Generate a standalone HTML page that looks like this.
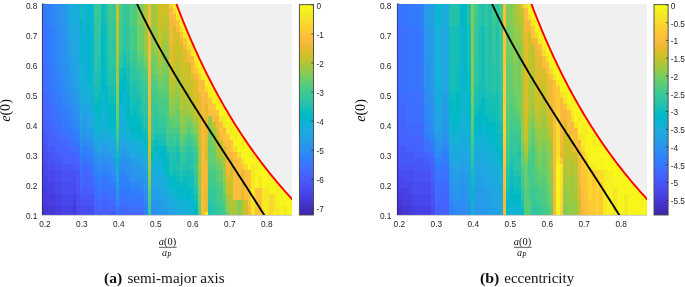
<!DOCTYPE html><html><head><meta charset="utf-8"><style>html,body{margin:0;padding:0;background:#fff;width:685px;height:287px;overflow:hidden}svg{display:block}text{filter:grayscale(1)}.tk{font-family:"Liberation Sans",sans-serif;font-size:8.3px;fill:#262626}.ser{font-family:"Liberation Serif",serif;fill:#111}</style></head><body>
<svg width="685" height="287" viewBox="0 0 685 287">
<defs><filter id="soft" x="-2%" y="-2%" width="104%" height="104%"><feGaussianBlur stdDeviation="0.45"/></filter></defs>
<clipPath id="clip0"><rect x="42.00" y="4.00" width="250.00" height="211.00"/></clipPath>
<g clip-path="url(#clip0)">
<g filter="url(#soft)"><g shape-rendering="crispEdges">
<path fill="#4332cb" d="M40.00 212.00h4.19v5.00h-4.19zM40.00 206.00h4.19v6.00h-4.19z"/>
<path fill="#4537d5" d="M40.00 200.00h4.19v6.00h-4.19zM40.00 194.00h4.19v6.00h-4.19zM40.00 188.00h4.19v6.00h-4.19zM44.19 212.00h3.57v5.00h-3.57zM44.19 206.00h3.57v6.00h-3.57zM47.76 212.00h3.57v5.00h-3.57zM47.76 206.00h3.57v6.00h-3.57zM51.33 212.00h3.57v5.00h-3.57zM51.33 206.00h3.57v6.00h-3.57zM72.76 212.00h3.57v5.00h-3.57zM72.76 206.00h3.57v6.00h-3.57z"/>
<path fill="#463cde" d="M40.00 182.00h4.19v6.00h-4.19zM40.00 176.00h4.19v6.00h-4.19zM44.19 200.00h3.57v6.00h-3.57zM44.19 194.00h3.57v6.00h-3.57zM44.19 188.00h3.57v6.00h-3.57zM47.76 200.00h3.57v6.00h-3.57zM47.76 194.00h3.57v6.00h-3.57zM51.33 200.00h3.57v6.00h-3.57zM51.33 194.00h3.57v6.00h-3.57zM54.90 212.00h3.57v5.00h-3.57zM54.90 206.00h3.57v6.00h-3.57zM58.47 212.00h3.57v5.00h-3.57zM58.47 206.00h3.57v6.00h-3.57zM72.76 200.00h3.57v6.00h-3.57z"/>
<path fill="#4741e5" d="M40.00 170.00h4.19v6.00h-4.19zM40.00 164.00h4.19v6.00h-4.19zM44.19 182.00h3.57v6.00h-3.57zM44.19 176.00h3.57v6.00h-3.57zM47.76 188.00h3.57v6.00h-3.57zM47.76 182.00h3.57v6.00h-3.57zM51.33 188.00h3.57v6.00h-3.57zM51.33 182.00h3.57v6.00h-3.57zM54.90 200.00h3.57v6.00h-3.57zM54.90 194.00h3.57v6.00h-3.57zM58.47 200.00h3.57v6.00h-3.57zM58.47 194.00h3.57v6.00h-3.57zM62.04 212.00h3.57v5.00h-3.57zM62.04 206.00h3.57v6.00h-3.57zM65.61 212.00h3.57v5.00h-3.57zM65.61 206.00h3.57v6.00h-3.57zM69.19 212.00h3.57v5.00h-3.57zM69.19 206.00h3.57v6.00h-3.57zM72.76 194.00h3.57v6.00h-3.57z"/>
<path fill="#4747eb" d="M40.00 158.00h4.19v6.00h-4.19zM40.00 152.00h4.19v6.00h-4.19zM44.19 170.00h3.57v6.00h-3.57zM44.19 164.00h3.57v6.00h-3.57zM47.76 176.00h3.57v6.00h-3.57zM47.76 170.00h3.57v6.00h-3.57zM51.33 176.00h3.57v6.00h-3.57zM51.33 170.00h3.57v6.00h-3.57zM54.90 188.00h3.57v6.00h-3.57zM54.90 182.00h3.57v6.00h-3.57zM58.47 188.00h3.57v6.00h-3.57zM58.47 182.00h3.57v6.00h-3.57zM62.04 200.00h3.57v6.00h-3.57zM62.04 194.00h3.57v6.00h-3.57zM65.61 200.00h3.57v6.00h-3.57zM65.61 194.00h3.57v6.00h-3.57zM69.19 200.00h3.57v6.00h-3.57zM69.19 194.00h3.57v6.00h-3.57zM72.76 188.00h3.57v6.00h-3.57zM76.33 212.00h3.57v5.00h-3.57zM76.33 206.00h3.57v6.00h-3.57z"/>
<path fill="#484df0" d="M40.00 146.00h4.19v6.00h-4.19zM44.19 158.00h3.57v6.00h-3.57zM44.19 152.00h3.57v6.00h-3.57zM47.76 164.00h3.57v6.00h-3.57zM51.33 164.00h3.57v6.00h-3.57zM54.90 176.00h3.57v6.00h-3.57zM54.90 170.00h3.57v6.00h-3.57zM58.47 176.00h3.57v6.00h-3.57zM58.47 170.00h3.57v6.00h-3.57zM62.04 188.00h3.57v6.00h-3.57zM62.04 182.00h3.57v6.00h-3.57zM65.61 188.00h3.57v6.00h-3.57zM65.61 182.00h3.57v6.00h-3.57zM69.19 188.00h3.57v6.00h-3.57zM69.19 182.00h3.57v6.00h-3.57zM72.76 182.00h3.57v6.00h-3.57zM72.76 176.00h3.57v6.00h-3.57zM76.33 200.00h3.57v6.00h-3.57zM76.33 194.00h3.57v6.00h-3.57zM79.90 212.00h3.57v5.00h-3.57zM79.90 206.00h3.57v6.00h-3.57zM83.47 212.00h3.57v5.00h-3.57zM83.47 206.00h3.57v6.00h-3.57zM87.04 212.00h3.57v5.00h-3.57zM87.04 206.00h3.57v6.00h-3.57zM90.61 212.00h3.57v5.00h-3.57zM90.61 206.00h3.57v6.00h-3.57z"/>
<path fill="#4852f4" d="M40.00 140.00h4.19v6.00h-4.19zM40.00 134.00h4.19v6.00h-4.19zM44.19 146.00h3.57v6.00h-3.57zM47.76 158.00h3.57v6.00h-3.57zM47.76 152.00h3.57v6.00h-3.57zM51.33 158.00h3.57v6.00h-3.57zM54.90 164.00h3.57v6.00h-3.57zM58.47 164.00h3.57v6.00h-3.57zM62.04 176.00h3.57v6.00h-3.57zM62.04 170.00h3.57v6.00h-3.57zM65.61 176.00h3.57v6.00h-3.57zM65.61 170.00h3.57v6.00h-3.57zM69.19 176.00h3.57v6.00h-3.57zM69.19 170.00h3.57v6.00h-3.57zM72.76 170.00h3.57v6.00h-3.57zM76.33 188.00h3.57v6.00h-3.57zM76.33 182.00h3.57v6.00h-3.57zM79.90 200.00h3.57v6.00h-3.57zM83.47 200.00h3.57v6.00h-3.57zM87.04 200.00h3.57v6.00h-3.57zM90.61 200.00h3.57v6.00h-3.57z"/>
<path fill="#4758f8" d="M40.00 128.00h4.19v6.00h-4.19zM40.00 122.00h4.19v6.00h-4.19zM44.19 140.00h3.57v6.00h-3.57zM44.19 134.00h3.57v6.00h-3.57zM47.76 146.00h3.57v6.00h-3.57zM51.33 152.00h3.57v6.00h-3.57zM51.33 146.00h3.57v6.00h-3.57zM54.90 158.00h3.57v6.00h-3.57zM54.90 152.00h3.57v6.00h-3.57zM58.47 158.00h3.57v6.00h-3.57zM62.04 164.00h3.57v6.00h-3.57zM65.61 164.00h3.57v6.00h-3.57zM69.19 164.00h3.57v6.00h-3.57zM72.76 164.00h3.57v6.00h-3.57zM76.33 176.00h3.57v6.00h-3.57zM76.33 170.00h3.57v6.00h-3.57zM79.90 194.00h3.57v6.00h-3.57zM83.47 194.00h3.57v6.00h-3.57zM83.47 188.00h3.57v6.00h-3.57zM87.04 194.00h3.57v6.00h-3.57zM90.61 194.00h3.57v6.00h-3.57zM97.76 212.00h3.57v5.00h-3.57zM108.47 212.00h3.57v5.00h-3.57zM112.04 212.00h3.57v5.00h-3.57z"/>
<path fill="#465efb" d="M40.00 116.00h4.19v6.00h-4.19zM40.00 110.00h4.19v6.00h-4.19zM44.19 128.00h3.57v6.00h-3.57zM44.19 122.00h3.57v6.00h-3.57zM47.76 140.00h3.57v6.00h-3.57zM47.76 134.00h3.57v6.00h-3.57zM51.33 140.00h3.57v6.00h-3.57zM54.90 146.00h3.57v6.00h-3.57zM58.47 152.00h3.57v6.00h-3.57zM62.04 158.00h3.57v6.00h-3.57zM65.61 158.00h3.57v6.00h-3.57zM69.19 158.00h3.57v6.00h-3.57zM72.76 158.00h3.57v6.00h-3.57zM76.33 164.00h3.57v6.00h-3.57zM79.90 188.00h3.57v6.00h-3.57zM83.47 182.00h3.57v6.00h-3.57zM87.04 188.00h3.57v6.00h-3.57zM90.61 188.00h3.57v6.00h-3.57zM94.19 212.00h3.57v5.00h-3.57zM94.19 206.00h3.57v6.00h-3.57zM101.33 212.00h3.57v5.00h-3.57zM101.33 206.00h3.57v6.00h-3.57zM104.90 212.00h3.57v5.00h-3.57zM104.90 206.00h3.57v6.00h-3.57z"/>
<path fill="#4563fd" d="M40.00 104.00h4.19v6.00h-4.19zM40.00 98.00h4.19v6.00h-4.19zM40.00 92.00h4.19v6.00h-4.19zM44.19 116.00h3.57v6.00h-3.57zM44.19 110.00h3.57v6.00h-3.57zM44.19 104.00h3.57v6.00h-3.57zM47.76 128.00h3.57v6.00h-3.57zM47.76 122.00h3.57v6.00h-3.57zM51.33 134.00h3.57v6.00h-3.57zM54.90 140.00h3.57v6.00h-3.57zM54.90 134.00h3.57v6.00h-3.57zM58.47 146.00h3.57v6.00h-3.57zM58.47 140.00h3.57v6.00h-3.57zM62.04 152.00h3.57v6.00h-3.57zM62.04 146.00h3.57v6.00h-3.57zM65.61 152.00h3.57v6.00h-3.57zM65.61 146.00h3.57v6.00h-3.57zM69.19 152.00h3.57v6.00h-3.57zM72.76 152.00h3.57v6.00h-3.57zM76.33 158.00h3.57v6.00h-3.57zM79.90 182.00h3.57v6.00h-3.57zM83.47 176.00h3.57v6.00h-3.57zM83.47 170.00h3.57v6.00h-3.57zM87.04 182.00h3.57v6.00h-3.57zM87.04 176.00h3.57v6.00h-3.57zM90.61 182.00h3.57v6.00h-3.57zM94.19 200.00h3.57v6.00h-3.57zM97.76 206.00h3.57v6.00h-3.57zM101.33 200.00h3.57v6.00h-3.57zM104.90 200.00h3.57v6.00h-3.57zM108.47 206.00h3.57v6.00h-3.57zM112.04 206.00h3.57v6.00h-3.57zM129.90 212.00h3.57v5.00h-3.57zM133.47 212.00h3.57v5.00h-3.57zM137.04 212.00h3.57v5.00h-3.57zM140.61 212.00h3.57v5.00h-3.57z"/>
<path fill="#4269fe" d="M40.00 86.00h4.19v6.00h-4.19zM40.00 80.00h4.19v6.00h-4.19zM40.00 74.00h4.19v6.00h-4.19zM40.00 68.00h4.19v6.00h-4.19zM44.19 98.00h3.57v6.00h-3.57zM44.19 92.00h3.57v6.00h-3.57zM47.76 116.00h3.57v6.00h-3.57zM47.76 110.00h3.57v6.00h-3.57zM47.76 104.00h3.57v6.00h-3.57zM51.33 128.00h3.57v6.00h-3.57zM51.33 122.00h3.57v6.00h-3.57zM54.90 128.00h3.57v6.00h-3.57zM58.47 134.00h3.57v6.00h-3.57zM62.04 140.00h3.57v6.00h-3.57zM65.61 140.00h3.57v6.00h-3.57zM69.19 146.00h3.57v6.00h-3.57zM76.33 152.00h3.57v6.00h-3.57zM79.90 176.00h3.57v6.00h-3.57zM83.47 164.00h3.57v6.00h-3.57zM87.04 170.00h3.57v6.00h-3.57zM90.61 176.00h3.57v6.00h-3.57zM94.19 194.00h3.57v6.00h-3.57zM97.76 200.00h3.57v6.00h-3.57zM101.33 194.00h3.57v6.00h-3.57zM104.90 194.00h3.57v6.00h-3.57zM108.47 200.00h3.57v6.00h-3.57zM112.04 200.00h3.57v6.00h-3.57zM119.19 212.00h3.57v5.00h-3.57zM119.19 206.00h3.57v6.00h-3.57zM122.76 212.00h3.57v5.00h-3.57zM122.76 206.00h3.57v6.00h-3.57zM126.33 212.00h3.57v5.00h-3.57zM126.33 206.00h3.57v6.00h-3.57z"/>
<path fill="#3e6fff" d="M40.00 62.00h4.19v6.00h-4.19zM40.00 56.00h4.19v6.00h-4.19zM40.00 50.00h4.19v6.00h-4.19zM40.00 44.00h4.19v6.00h-4.19zM40.00 38.00h4.19v6.00h-4.19zM40.00 32.00h4.19v6.00h-4.19zM40.00 26.00h4.19v6.00h-4.19zM44.19 86.00h3.57v6.00h-3.57zM44.19 80.00h3.57v6.00h-3.57zM44.19 74.00h3.57v6.00h-3.57zM44.19 68.00h3.57v6.00h-3.57zM44.19 62.00h3.57v6.00h-3.57zM47.76 98.00h3.57v6.00h-3.57zM47.76 92.00h3.57v6.00h-3.57zM51.33 116.00h3.57v6.00h-3.57zM51.33 110.00h3.57v6.00h-3.57zM51.33 104.00h3.57v6.00h-3.57zM54.90 122.00h3.57v6.00h-3.57zM54.90 116.00h3.57v6.00h-3.57zM54.90 110.00h3.57v6.00h-3.57zM58.47 128.00h3.57v6.00h-3.57zM58.47 122.00h3.57v6.00h-3.57zM62.04 134.00h3.57v6.00h-3.57zM65.61 134.00h3.57v6.00h-3.57zM69.19 140.00h3.57v6.00h-3.57zM72.76 146.00h3.57v6.00h-3.57zM76.33 146.00h3.57v6.00h-3.57zM79.90 170.00h3.57v6.00h-3.57zM83.47 158.00h3.57v6.00h-3.57zM87.04 164.00h3.57v6.00h-3.57zM90.61 170.00h3.57v6.00h-3.57zM94.19 188.00h3.57v6.00h-3.57zM97.76 194.00h3.57v6.00h-3.57zM101.33 188.00h3.57v6.00h-3.57zM104.90 188.00h3.57v6.00h-3.57zM108.47 194.00h3.57v6.00h-3.57zM112.04 194.00h3.57v6.00h-3.57zM115.61 212.00h3.57v5.00h-3.57zM119.19 200.00h3.57v6.00h-3.57zM122.76 200.00h3.57v6.00h-3.57zM126.33 200.00h3.57v6.00h-3.57zM129.90 206.00h3.57v6.00h-3.57zM133.47 206.00h3.57v6.00h-3.57zM137.04 206.00h3.57v6.00h-3.57zM140.61 206.00h3.57v6.00h-3.57z"/>
<path fill="#3875fe" d="M40.00 20.00h4.19v6.00h-4.19zM40.00 14.00h4.19v6.00h-4.19zM40.00 8.00h4.19v6.00h-4.19zM40.00 2.00h4.19v6.00h-4.19zM44.19 56.00h3.57v6.00h-3.57zM44.19 50.00h3.57v6.00h-3.57zM44.19 44.00h3.57v6.00h-3.57zM44.19 38.00h3.57v6.00h-3.57zM44.19 32.00h3.57v6.00h-3.57zM44.19 26.00h3.57v6.00h-3.57zM47.76 86.00h3.57v6.00h-3.57zM47.76 80.00h3.57v6.00h-3.57zM47.76 74.00h3.57v6.00h-3.57zM47.76 68.00h3.57v6.00h-3.57zM51.33 98.00h3.57v6.00h-3.57zM51.33 92.00h3.57v6.00h-3.57zM54.90 104.00h3.57v6.00h-3.57zM58.47 116.00h3.57v6.00h-3.57zM62.04 128.00h3.57v6.00h-3.57zM65.61 128.00h3.57v6.00h-3.57zM69.19 134.00h3.57v6.00h-3.57zM72.76 140.00h3.57v6.00h-3.57zM79.90 164.00h3.57v6.00h-3.57zM90.61 164.00h3.57v6.00h-3.57zM94.19 182.00h3.57v6.00h-3.57zM97.76 188.00h3.57v6.00h-3.57zM101.33 182.00h3.57v6.00h-3.57zM104.90 182.00h3.57v6.00h-3.57zM108.47 188.00h3.57v6.00h-3.57zM112.04 188.00h3.57v6.00h-3.57zM119.19 194.00h3.57v6.00h-3.57zM122.76 194.00h3.57v6.00h-3.57zM126.33 194.00h3.57v6.00h-3.57zM129.90 200.00h3.57v6.00h-3.57zM133.47 200.00h3.57v6.00h-3.57zM137.04 200.00h3.57v6.00h-3.57zM140.61 200.00h3.57v6.00h-3.57z"/>
<path fill="#327cfc" d="M44.19 20.00h3.57v6.00h-3.57zM44.19 14.00h3.57v6.00h-3.57zM44.19 8.00h3.57v6.00h-3.57zM44.19 2.00h3.57v6.00h-3.57zM47.76 62.00h3.57v6.00h-3.57zM47.76 56.00h3.57v6.00h-3.57zM47.76 50.00h3.57v6.00h-3.57zM47.76 44.00h3.57v6.00h-3.57zM47.76 38.00h3.57v6.00h-3.57zM47.76 32.00h3.57v6.00h-3.57zM47.76 26.00h3.57v6.00h-3.57zM51.33 86.00h3.57v6.00h-3.57zM51.33 80.00h3.57v6.00h-3.57zM51.33 74.00h3.57v6.00h-3.57zM51.33 68.00h3.57v6.00h-3.57zM51.33 62.00h3.57v6.00h-3.57zM54.90 98.00h3.57v6.00h-3.57zM54.90 92.00h3.57v6.00h-3.57zM54.90 86.00h3.57v6.00h-3.57zM58.47 110.00h3.57v6.00h-3.57zM58.47 104.00h3.57v6.00h-3.57zM58.47 98.00h3.57v6.00h-3.57zM62.04 122.00h3.57v6.00h-3.57zM62.04 116.00h3.57v6.00h-3.57zM62.04 110.00h3.57v6.00h-3.57zM65.61 122.00h3.57v6.00h-3.57zM65.61 116.00h3.57v6.00h-3.57zM69.19 128.00h3.57v6.00h-3.57zM72.76 134.00h3.57v6.00h-3.57zM76.33 140.00h3.57v6.00h-3.57zM79.90 158.00h3.57v6.00h-3.57zM83.47 152.00h3.57v6.00h-3.57zM87.04 158.00h3.57v6.00h-3.57zM90.61 158.00h3.57v6.00h-3.57zM94.19 176.00h3.57v6.00h-3.57zM97.76 182.00h3.57v6.00h-3.57zM101.33 176.00h3.57v6.00h-3.57zM104.90 176.00h3.57v6.00h-3.57zM108.47 182.00h3.57v6.00h-3.57zM112.04 182.00h3.57v6.00h-3.57zM115.61 206.00h3.57v6.00h-3.57zM119.19 188.00h3.57v6.00h-3.57zM122.76 188.00h3.57v6.00h-3.57zM126.33 188.00h3.57v6.00h-3.57zM129.90 194.00h3.57v6.00h-3.57zM133.47 194.00h3.57v6.00h-3.57zM137.04 194.00h3.57v6.00h-3.57zM140.61 194.00h3.57v6.00h-3.57z"/>
<path fill="#2f81fa" d="M47.76 20.00h3.57v6.00h-3.57zM47.76 14.00h3.57v6.00h-3.57zM47.76 8.00h3.57v6.00h-3.57zM47.76 2.00h3.57v6.00h-3.57zM51.33 56.00h3.57v6.00h-3.57zM51.33 50.00h3.57v6.00h-3.57zM51.33 44.00h3.57v6.00h-3.57zM51.33 38.00h3.57v6.00h-3.57zM51.33 32.00h3.57v6.00h-3.57zM51.33 26.00h3.57v6.00h-3.57zM54.90 80.00h3.57v6.00h-3.57zM54.90 74.00h3.57v6.00h-3.57zM54.90 68.00h3.57v6.00h-3.57zM58.47 92.00h3.57v6.00h-3.57zM62.04 104.00h3.57v6.00h-3.57zM65.61 110.00h3.57v6.00h-3.57zM69.19 122.00h3.57v6.00h-3.57zM72.76 128.00h3.57v6.00h-3.57zM76.33 134.00h3.57v6.00h-3.57zM79.90 152.00h3.57v6.00h-3.57zM83.47 146.00h3.57v6.00h-3.57zM87.04 152.00h3.57v6.00h-3.57zM94.19 170.00h3.57v6.00h-3.57zM97.76 176.00h3.57v6.00h-3.57zM101.33 170.00h3.57v6.00h-3.57zM104.90 170.00h3.57v6.00h-3.57zM108.47 176.00h3.57v6.00h-3.57zM119.19 182.00h3.57v6.00h-3.57zM119.19 176.00h3.57v6.00h-3.57zM122.76 182.00h3.57v6.00h-3.57zM122.76 176.00h3.57v6.00h-3.57zM126.33 182.00h3.57v6.00h-3.57zM129.90 188.00h3.57v6.00h-3.57zM133.47 188.00h3.57v6.00h-3.57zM137.04 188.00h3.57v6.00h-3.57zM144.19 212.00h3.57v5.00h-3.57zM144.19 206.00h3.57v6.00h-3.57z"/>
<path fill="#2e87f7" d="M51.33 20.00h3.57v6.00h-3.57zM51.33 14.00h3.57v6.00h-3.57zM51.33 8.00h3.57v6.00h-3.57zM51.33 2.00h3.57v6.00h-3.57zM54.90 62.00h3.57v6.00h-3.57zM54.90 56.00h3.57v6.00h-3.57zM54.90 50.00h3.57v6.00h-3.57zM54.90 44.00h3.57v6.00h-3.57zM54.90 38.00h3.57v6.00h-3.57zM54.90 32.00h3.57v6.00h-3.57zM54.90 26.00h3.57v6.00h-3.57zM58.47 86.00h3.57v6.00h-3.57zM58.47 80.00h3.57v6.00h-3.57zM58.47 74.00h3.57v6.00h-3.57zM58.47 68.00h3.57v6.00h-3.57zM58.47 62.00h3.57v6.00h-3.57zM62.04 98.00h3.57v6.00h-3.57zM62.04 92.00h3.57v6.00h-3.57zM62.04 86.00h3.57v6.00h-3.57zM65.61 104.00h3.57v6.00h-3.57zM65.61 98.00h3.57v6.00h-3.57zM69.19 116.00h3.57v6.00h-3.57zM69.19 110.00h3.57v6.00h-3.57zM72.76 122.00h3.57v6.00h-3.57zM72.76 116.00h3.57v6.00h-3.57zM76.33 128.00h3.57v6.00h-3.57zM79.90 146.00h3.57v6.00h-3.57zM83.47 140.00h3.57v6.00h-3.57zM87.04 146.00h3.57v6.00h-3.57zM90.61 152.00h3.57v6.00h-3.57zM94.19 164.00h3.57v6.00h-3.57zM97.76 170.00h3.57v6.00h-3.57zM101.33 164.00h3.57v6.00h-3.57zM104.90 164.00h3.57v6.00h-3.57zM108.47 170.00h3.57v6.00h-3.57zM112.04 176.00h3.57v6.00h-3.57zM115.61 200.00h3.57v6.00h-3.57zM119.19 170.00h3.57v6.00h-3.57zM122.76 170.00h3.57v6.00h-3.57zM126.33 176.00h3.57v6.00h-3.57zM129.90 182.00h3.57v6.00h-3.57zM133.47 182.00h3.57v6.00h-3.57zM137.04 182.00h3.57v6.00h-3.57zM140.61 188.00h3.57v6.00h-3.57zM144.19 200.00h3.57v6.00h-3.57zM151.33 212.00h3.57v5.00h-3.57z"/>
<path fill="#2d8cf3" d="M54.90 20.00h3.57v6.00h-3.57zM54.90 14.00h3.57v6.00h-3.57zM54.90 8.00h3.57v6.00h-3.57zM54.90 2.00h3.57v6.00h-3.57zM58.47 56.00h3.57v6.00h-3.57zM58.47 50.00h3.57v6.00h-3.57zM58.47 44.00h3.57v6.00h-3.57zM58.47 38.00h3.57v6.00h-3.57zM58.47 32.00h3.57v6.00h-3.57zM58.47 26.00h3.57v6.00h-3.57zM62.04 80.00h3.57v6.00h-3.57zM62.04 74.00h3.57v6.00h-3.57zM62.04 68.00h3.57v6.00h-3.57zM65.61 92.00h3.57v6.00h-3.57zM65.61 86.00h3.57v6.00h-3.57zM69.19 104.00h3.57v6.00h-3.57zM72.76 110.00h3.57v6.00h-3.57zM76.33 122.00h3.57v6.00h-3.57zM90.61 146.00h3.57v6.00h-3.57zM97.76 164.00h3.57v6.00h-3.57zM101.33 158.00h3.57v6.00h-3.57zM108.47 164.00h3.57v6.00h-3.57zM112.04 170.00h3.57v6.00h-3.57zM115.61 194.00h3.57v6.00h-3.57zM119.19 164.00h3.57v6.00h-3.57zM122.76 164.00h3.57v6.00h-3.57zM126.33 170.00h3.57v6.00h-3.57zM129.90 176.00h3.57v6.00h-3.57zM140.61 182.00h3.57v6.00h-3.57zM144.19 194.00h3.57v6.00h-3.57z"/>
<path fill="#2b91ef" d="M58.47 20.00h3.57v6.00h-3.57zM58.47 14.00h3.57v6.00h-3.57zM58.47 8.00h3.57v6.00h-3.57zM58.47 2.00h3.57v6.00h-3.57zM62.04 62.00h3.57v6.00h-3.57zM62.04 56.00h3.57v6.00h-3.57zM62.04 50.00h3.57v6.00h-3.57zM62.04 44.00h3.57v6.00h-3.57zM62.04 38.00h3.57v6.00h-3.57zM62.04 32.00h3.57v6.00h-3.57zM62.04 26.00h3.57v6.00h-3.57zM65.61 80.00h3.57v6.00h-3.57zM65.61 74.00h3.57v6.00h-3.57zM65.61 68.00h3.57v6.00h-3.57zM65.61 62.00h3.57v6.00h-3.57zM69.19 98.00h3.57v6.00h-3.57zM69.19 92.00h3.57v6.00h-3.57zM72.76 104.00h3.57v6.00h-3.57zM76.33 116.00h3.57v6.00h-3.57zM76.33 110.00h3.57v6.00h-3.57zM79.90 140.00h3.57v6.00h-3.57zM83.47 134.00h3.57v6.00h-3.57zM87.04 140.00h3.57v6.00h-3.57zM90.61 140.00h3.57v6.00h-3.57zM94.19 158.00h3.57v6.00h-3.57zM97.76 158.00h3.57v6.00h-3.57zM104.90 158.00h3.57v6.00h-3.57zM108.47 158.00h3.57v6.00h-3.57zM112.04 164.00h3.57v6.00h-3.57zM119.19 158.00h3.57v6.00h-3.57zM122.76 158.00h3.57v6.00h-3.57zM126.33 164.00h3.57v6.00h-3.57zM129.90 170.00h3.57v6.00h-3.57zM133.47 176.00h3.57v6.00h-3.57zM137.04 176.00h3.57v6.00h-3.57zM140.61 176.00h3.57v6.00h-3.57zM144.19 188.00h3.57v6.00h-3.57zM151.33 206.00h3.57v6.00h-3.57zM154.90 212.00h3.57v5.00h-3.57zM154.90 206.00h3.57v6.00h-3.57zM162.04 212.00h3.57v5.00h-3.57z"/>
<path fill="#2797eb" d="M62.04 20.00h3.57v6.00h-3.57zM62.04 14.00h3.57v6.00h-3.57zM62.04 8.00h3.57v6.00h-3.57zM62.04 2.00h3.57v6.00h-3.57zM65.61 56.00h3.57v6.00h-3.57zM65.61 50.00h3.57v6.00h-3.57zM65.61 44.00h3.57v6.00h-3.57zM65.61 38.00h3.57v6.00h-3.57zM69.19 86.00h3.57v6.00h-3.57zM72.76 98.00h3.57v6.00h-3.57zM76.33 104.00h3.57v6.00h-3.57zM79.90 134.00h3.57v6.00h-3.57zM83.47 128.00h3.57v6.00h-3.57zM87.04 134.00h3.57v6.00h-3.57zM94.19 152.00h3.57v6.00h-3.57zM101.33 152.00h3.57v6.00h-3.57zM104.90 152.00h3.57v6.00h-3.57zM112.04 158.00h3.57v6.00h-3.57zM115.61 188.00h3.57v6.00h-3.57zM122.76 152.00h3.57v6.00h-3.57zM126.33 158.00h3.57v6.00h-3.57zM129.90 164.00h3.57v6.00h-3.57zM133.47 170.00h3.57v6.00h-3.57zM137.04 170.00h3.57v6.00h-3.57zM144.19 182.00h3.57v6.00h-3.57zM151.33 200.00h3.57v6.00h-3.57zM154.90 200.00h3.57v6.00h-3.57zM158.47 212.00h3.57v5.00h-3.57zM158.47 206.00h3.57v6.00h-3.57zM165.61 212.00h3.57v5.00h-3.57z"/>
<path fill="#259be8" d="M65.61 32.00h3.57v6.00h-3.57zM65.61 26.00h3.57v6.00h-3.57zM65.61 20.00h3.57v6.00h-3.57zM69.19 80.00h3.57v6.00h-3.57zM69.19 74.00h3.57v6.00h-3.57zM72.76 92.00h3.57v6.00h-3.57zM72.76 86.00h3.57v6.00h-3.57zM76.33 98.00h3.57v6.00h-3.57zM76.33 92.00h3.57v6.00h-3.57zM79.90 128.00h3.57v6.00h-3.57zM83.47 122.00h3.57v6.00h-3.57zM83.47 116.00h3.57v6.00h-3.57zM90.61 134.00h3.57v6.00h-3.57zM94.19 146.00h3.57v6.00h-3.57zM97.76 152.00h3.57v6.00h-3.57zM101.33 146.00h3.57v6.00h-3.57zM104.90 146.00h3.57v6.00h-3.57zM108.47 152.00h3.57v6.00h-3.57zM119.19 152.00h3.57v6.00h-3.57zM122.76 146.00h3.57v6.00h-3.57zM129.90 158.00h3.57v6.00h-3.57zM133.47 164.00h3.57v6.00h-3.57zM137.04 164.00h3.57v6.00h-3.57zM140.61 170.00h3.57v6.00h-3.57zM144.19 176.00h3.57v6.00h-3.57zM151.33 194.00h3.57v6.00h-3.57zM154.90 194.00h3.57v6.00h-3.57zM158.47 200.00h3.57v6.00h-3.57zM162.04 206.00h3.57v6.00h-3.57zM169.19 212.00h3.57v5.00h-3.57z"/>
<path fill="#23a0e5" d="M65.61 14.00h3.57v6.00h-3.57zM65.61 8.00h3.57v6.00h-3.57zM65.61 2.00h3.57v6.00h-3.57zM69.19 68.00h3.57v6.00h-3.57zM69.19 62.00h3.57v6.00h-3.57zM69.19 56.00h3.57v6.00h-3.57zM72.76 80.00h3.57v6.00h-3.57zM72.76 74.00h3.57v6.00h-3.57zM72.76 68.00h3.57v6.00h-3.57zM76.33 86.00h3.57v6.00h-3.57zM79.90 122.00h3.57v6.00h-3.57zM83.47 110.00h3.57v6.00h-3.57zM87.04 128.00h3.57v6.00h-3.57zM90.61 128.00h3.57v6.00h-3.57zM101.33 140.00h3.57v6.00h-3.57zM112.04 152.00h3.57v6.00h-3.57zM115.61 182.00h3.57v6.00h-3.57zM119.19 146.00h3.57v6.00h-3.57zM126.33 152.00h3.57v6.00h-3.57zM133.47 158.00h3.57v6.00h-3.57zM137.04 158.00h3.57v6.00h-3.57zM140.61 164.00h3.57v6.00h-3.57zM144.19 170.00h3.57v6.00h-3.57zM151.33 188.00h3.57v6.00h-3.57zM154.90 188.00h3.57v6.00h-3.57zM158.47 194.00h3.57v6.00h-3.57zM162.04 200.00h3.57v6.00h-3.57zM165.61 206.00h3.57v6.00h-3.57zM172.76 212.00h3.57v5.00h-3.57z"/>
<path fill="#20a5e3" d="M69.19 50.00h3.57v6.00h-3.57zM69.19 44.00h3.57v6.00h-3.57zM69.19 38.00h3.57v6.00h-3.57zM72.76 62.00h3.57v6.00h-3.57zM72.76 56.00h3.57v6.00h-3.57zM72.76 50.00h3.57v6.00h-3.57zM72.76 44.00h3.57v6.00h-3.57zM72.76 38.00h3.57v6.00h-3.57zM72.76 32.00h3.57v6.00h-3.57zM72.76 26.00h3.57v6.00h-3.57zM76.33 80.00h3.57v6.00h-3.57zM76.33 74.00h3.57v6.00h-3.57zM76.33 68.00h3.57v6.00h-3.57zM76.33 62.00h3.57v6.00h-3.57zM79.90 116.00h3.57v6.00h-3.57zM79.90 110.00h3.57v6.00h-3.57zM83.47 104.00h3.57v6.00h-3.57zM83.47 98.00h3.57v6.00h-3.57zM87.04 122.00h3.57v6.00h-3.57zM87.04 116.00h3.57v6.00h-3.57zM90.61 122.00h3.57v6.00h-3.57zM90.61 116.00h3.57v6.00h-3.57zM94.19 140.00h3.57v6.00h-3.57zM97.76 146.00h3.57v6.00h-3.57zM104.90 140.00h3.57v6.00h-3.57zM108.47 146.00h3.57v6.00h-3.57zM112.04 146.00h3.57v6.00h-3.57zM119.19 140.00h3.57v6.00h-3.57zM122.76 140.00h3.57v6.00h-3.57zM126.33 146.00h3.57v6.00h-3.57zM129.90 152.00h3.57v6.00h-3.57zM133.47 152.00h3.57v6.00h-3.57zM140.61 158.00h3.57v6.00h-3.57zM144.19 164.00h3.57v6.00h-3.57zM151.33 182.00h3.57v6.00h-3.57zM154.90 182.00h3.57v6.00h-3.57zM154.90 176.00h3.57v6.00h-3.57zM158.47 188.00h3.57v6.00h-3.57zM162.04 194.00h3.57v6.00h-3.57zM165.61 200.00h3.57v6.00h-3.57zM169.19 206.00h3.57v6.00h-3.57zM176.33 212.00h3.57v5.00h-3.57z"/>
<path fill="#1ca9df" d="M69.19 32.00h3.57v6.00h-3.57zM69.19 26.00h3.57v6.00h-3.57zM69.19 20.00h3.57v6.00h-3.57zM72.76 20.00h3.57v6.00h-3.57zM72.76 14.00h3.57v6.00h-3.57zM72.76 8.00h3.57v6.00h-3.57zM72.76 2.00h3.57v6.00h-3.57zM76.33 56.00h3.57v6.00h-3.57zM76.33 50.00h3.57v6.00h-3.57zM76.33 44.00h3.57v6.00h-3.57zM76.33 38.00h3.57v6.00h-3.57zM76.33 32.00h3.57v6.00h-3.57zM76.33 26.00h3.57v6.00h-3.57zM79.90 104.00h3.57v6.00h-3.57zM83.47 92.00h3.57v6.00h-3.57zM83.47 86.00h3.57v6.00h-3.57zM87.04 110.00h3.57v6.00h-3.57zM90.61 110.00h3.57v6.00h-3.57zM97.76 140.00h3.57v6.00h-3.57zM101.33 134.00h3.57v6.00h-3.57zM108.47 140.00h3.57v6.00h-3.57zM112.04 140.00h3.57v6.00h-3.57zM115.61 176.00h3.57v6.00h-3.57zM122.76 134.00h3.57v6.00h-3.57zM126.33 140.00h3.57v6.00h-3.57zM129.90 146.00h3.57v6.00h-3.57zM137.04 152.00h3.57v6.00h-3.57zM144.19 158.00h3.57v6.00h-3.57zM151.33 176.00h3.57v6.00h-3.57zM154.90 170.00h3.57v6.00h-3.57zM158.47 182.00h3.57v6.00h-3.57zM158.47 176.00h3.57v6.00h-3.57zM162.04 188.00h3.57v6.00h-3.57zM165.61 194.00h3.57v6.00h-3.57zM169.19 200.00h3.57v6.00h-3.57zM172.76 206.00h3.57v6.00h-3.57zM179.90 212.00h3.57v5.00h-3.57z"/>
<path fill="#18addb" d="M69.19 14.00h3.57v6.00h-3.57zM69.19 8.00h3.57v6.00h-3.57zM69.19 2.00h3.57v6.00h-3.57zM76.33 20.00h3.57v6.00h-3.57zM76.33 14.00h3.57v6.00h-3.57zM76.33 8.00h3.57v6.00h-3.57zM76.33 2.00h3.57v6.00h-3.57zM79.90 98.00h3.57v6.00h-3.57zM79.90 92.00h3.57v6.00h-3.57zM83.47 80.00h3.57v6.00h-3.57zM83.47 74.00h3.57v6.00h-3.57zM83.47 68.00h3.57v6.00h-3.57zM83.47 62.00h3.57v6.00h-3.57zM83.47 56.00h3.57v6.00h-3.57zM83.47 50.00h3.57v6.00h-3.57zM83.47 44.00h3.57v6.00h-3.57zM83.47 38.00h3.57v6.00h-3.57zM83.47 32.00h3.57v6.00h-3.57zM83.47 26.00h3.57v6.00h-3.57zM87.04 104.00h3.57v6.00h-3.57zM90.61 104.00h3.57v6.00h-3.57zM90.61 98.00h3.57v6.00h-3.57zM94.19 134.00h3.57v6.00h-3.57zM97.76 134.00h3.57v6.00h-3.57zM101.33 128.00h3.57v6.00h-3.57zM101.33 122.00h3.57v6.00h-3.57zM104.90 134.00h3.57v6.00h-3.57zM108.47 134.00h3.57v6.00h-3.57zM115.61 170.00h3.57v6.00h-3.57zM119.19 134.00h3.57v6.00h-3.57zM122.76 128.00h3.57v6.00h-3.57zM122.76 122.00h3.57v6.00h-3.57zM129.90 140.00h3.57v6.00h-3.57zM133.47 146.00h3.57v6.00h-3.57zM137.04 146.00h3.57v6.00h-3.57zM140.61 152.00h3.57v6.00h-3.57zM151.33 170.00h3.57v6.00h-3.57zM154.90 164.00h3.57v6.00h-3.57zM158.47 170.00h3.57v6.00h-3.57zM162.04 182.00h3.57v6.00h-3.57zM165.61 188.00h3.57v6.00h-3.57zM169.19 194.00h3.57v6.00h-3.57zM172.76 200.00h3.57v6.00h-3.57zM176.33 206.00h3.57v6.00h-3.57zM183.47 212.00h3.57v5.00h-3.57zM183.47 206.00h3.57v6.00h-3.57z"/>
<path fill="#12b1d6" d="M79.90 86.00h3.57v6.00h-3.57zM83.47 20.00h3.57v6.00h-3.57zM83.47 14.00h3.57v6.00h-3.57zM83.47 8.00h3.57v6.00h-3.57zM83.47 2.00h3.57v6.00h-3.57zM87.04 98.00h3.57v6.00h-3.57zM90.61 92.00h3.57v6.00h-3.57zM90.61 86.00h3.57v6.00h-3.57zM94.19 128.00h3.57v6.00h-3.57zM101.33 116.00h3.57v6.00h-3.57zM101.33 110.00h3.57v6.00h-3.57zM104.90 128.00h3.57v6.00h-3.57zM112.04 134.00h3.57v6.00h-3.57zM119.19 128.00h3.57v6.00h-3.57zM119.19 122.00h3.57v6.00h-3.57zM122.76 116.00h3.57v6.00h-3.57zM122.76 110.00h3.57v6.00h-3.57zM126.33 134.00h3.57v6.00h-3.57zM133.47 140.00h3.57v6.00h-3.57zM137.04 140.00h3.57v6.00h-3.57zM140.61 146.00h3.57v6.00h-3.57zM144.19 152.00h3.57v6.00h-3.57zM151.33 164.00h3.57v6.00h-3.57zM154.90 158.00h3.57v6.00h-3.57zM158.47 164.00h3.57v6.00h-3.57zM162.04 176.00h3.57v6.00h-3.57zM165.61 182.00h3.57v6.00h-3.57zM172.76 194.00h3.57v6.00h-3.57zM176.33 200.00h3.57v6.00h-3.57zM179.90 206.00h3.57v6.00h-3.57zM183.47 200.00h3.57v6.00h-3.57zM187.04 212.00h3.57v5.00h-3.57zM187.04 206.00h3.57v6.00h-3.57z"/>
<path fill="#08b5d0" d="M79.90 80.00h3.57v6.00h-3.57zM79.90 74.00h3.57v6.00h-3.57zM79.90 68.00h3.57v6.00h-3.57zM79.90 62.00h3.57v6.00h-3.57zM87.04 92.00h3.57v6.00h-3.57zM87.04 86.00h3.57v6.00h-3.57zM90.61 80.00h3.57v6.00h-3.57zM90.61 74.00h3.57v6.00h-3.57zM90.61 68.00h3.57v6.00h-3.57zM90.61 62.00h3.57v6.00h-3.57zM90.61 56.00h3.57v6.00h-3.57zM90.61 50.00h3.57v6.00h-3.57zM90.61 44.00h3.57v6.00h-3.57zM90.61 38.00h3.57v6.00h-3.57zM90.61 32.00h3.57v6.00h-3.57zM90.61 26.00h3.57v6.00h-3.57zM90.61 20.00h3.57v6.00h-3.57zM90.61 14.00h3.57v6.00h-3.57zM90.61 8.00h3.57v6.00h-3.57zM90.61 2.00h3.57v6.00h-3.57zM94.19 122.00h3.57v6.00h-3.57zM94.19 116.00h3.57v6.00h-3.57zM97.76 128.00h3.57v6.00h-3.57zM97.76 122.00h3.57v6.00h-3.57zM101.33 104.00h3.57v6.00h-3.57zM101.33 98.00h3.57v6.00h-3.57zM101.33 92.00h3.57v6.00h-3.57zM104.90 122.00h3.57v6.00h-3.57zM104.90 116.00h3.57v6.00h-3.57zM104.90 110.00h3.57v6.00h-3.57zM108.47 128.00h3.57v6.00h-3.57zM112.04 128.00h3.57v6.00h-3.57zM115.61 164.00h3.57v6.00h-3.57zM119.19 116.00h3.57v6.00h-3.57zM119.19 110.00h3.57v6.00h-3.57zM119.19 104.00h3.57v6.00h-3.57zM122.76 104.00h3.57v6.00h-3.57zM122.76 98.00h3.57v6.00h-3.57zM122.76 92.00h3.57v6.00h-3.57zM126.33 128.00h3.57v6.00h-3.57zM126.33 122.00h3.57v6.00h-3.57zM129.90 134.00h3.57v6.00h-3.57zM133.47 134.00h3.57v6.00h-3.57zM140.61 140.00h3.57v6.00h-3.57zM144.19 146.00h3.57v6.00h-3.57zM151.33 158.00h3.57v6.00h-3.57zM154.90 152.00h3.57v6.00h-3.57zM158.47 158.00h3.57v6.00h-3.57zM162.04 170.00h3.57v6.00h-3.57zM165.61 176.00h3.57v6.00h-3.57zM169.19 188.00h3.57v6.00h-3.57zM172.76 188.00h3.57v6.00h-3.57zM176.33 194.00h3.57v6.00h-3.57zM179.90 200.00h3.57v6.00h-3.57zM183.47 194.00h3.57v6.00h-3.57zM187.04 200.00h3.57v6.00h-3.57zM190.61 212.00h3.57v5.00h-3.57zM190.61 206.00h3.57v6.00h-3.57z"/>
<path fill="#01b8ca" d="M79.90 56.00h3.57v6.00h-3.57zM79.90 50.00h3.57v6.00h-3.57zM79.90 44.00h3.57v6.00h-3.57zM79.90 38.00h3.57v6.00h-3.57zM87.04 80.00h3.57v6.00h-3.57zM87.04 74.00h3.57v6.00h-3.57zM87.04 68.00h3.57v6.00h-3.57zM87.04 62.00h3.57v6.00h-3.57zM87.04 56.00h3.57v6.00h-3.57zM87.04 50.00h3.57v6.00h-3.57zM87.04 44.00h3.57v6.00h-3.57zM87.04 38.00h3.57v6.00h-3.57zM87.04 32.00h3.57v6.00h-3.57zM87.04 26.00h3.57v6.00h-3.57zM94.19 110.00h3.57v6.00h-3.57zM97.76 116.00h3.57v6.00h-3.57zM101.33 86.00h3.57v6.00h-3.57zM101.33 80.00h3.57v6.00h-3.57zM101.33 74.00h3.57v6.00h-3.57zM101.33 68.00h3.57v6.00h-3.57zM104.90 104.00h3.57v6.00h-3.57zM108.47 122.00h3.57v6.00h-3.57zM108.47 116.00h3.57v6.00h-3.57zM112.04 122.00h3.57v6.00h-3.57zM112.04 116.00h3.57v6.00h-3.57zM119.19 98.00h3.57v6.00h-3.57zM119.19 92.00h3.57v6.00h-3.57zM122.76 86.00h3.57v6.00h-3.57zM122.76 80.00h3.57v6.00h-3.57zM126.33 116.00h3.57v6.00h-3.57zM126.33 110.00h3.57v6.00h-3.57zM129.90 128.00h3.57v6.00h-3.57zM133.47 128.00h3.57v6.00h-3.57zM137.04 134.00h3.57v6.00h-3.57zM144.19 140.00h3.57v6.00h-3.57zM158.47 152.00h3.57v6.00h-3.57zM162.04 164.00h3.57v6.00h-3.57zM162.04 158.00h3.57v6.00h-3.57zM162.04 152.00h3.57v6.00h-3.57zM165.61 170.00h3.57v6.00h-3.57zM169.19 182.00h3.57v6.00h-3.57zM172.76 182.00h3.57v6.00h-3.57zM176.33 188.00h3.57v6.00h-3.57zM179.90 194.00h3.57v6.00h-3.57zM183.47 188.00h3.57v6.00h-3.57zM187.04 194.00h3.57v6.00h-3.57zM190.61 200.00h3.57v6.00h-3.57z"/>
<path fill="#02bac3" d="M79.90 32.00h3.57v6.00h-3.57zM79.90 26.00h3.57v6.00h-3.57zM79.90 20.00h3.57v6.00h-3.57zM87.04 20.00h3.57v6.00h-3.57zM87.04 14.00h3.57v6.00h-3.57zM87.04 8.00h3.57v6.00h-3.57zM87.04 2.00h3.57v6.00h-3.57zM94.19 104.00h3.57v6.00h-3.57zM97.76 110.00h3.57v6.00h-3.57zM97.76 104.00h3.57v6.00h-3.57zM97.76 98.00h3.57v6.00h-3.57zM101.33 62.00h3.57v6.00h-3.57zM101.33 56.00h3.57v6.00h-3.57zM101.33 50.00h3.57v6.00h-3.57zM101.33 44.00h3.57v6.00h-3.57zM101.33 38.00h3.57v6.00h-3.57zM101.33 32.00h3.57v6.00h-3.57zM101.33 26.00h3.57v6.00h-3.57zM104.90 98.00h3.57v6.00h-3.57zM104.90 92.00h3.57v6.00h-3.57zM104.90 86.00h3.57v6.00h-3.57zM108.47 110.00h3.57v6.00h-3.57zM108.47 104.00h3.57v6.00h-3.57zM112.04 110.00h3.57v6.00h-3.57zM112.04 104.00h3.57v6.00h-3.57zM115.61 158.00h3.57v6.00h-3.57zM119.19 86.00h3.57v6.00h-3.57zM119.19 80.00h3.57v6.00h-3.57zM122.76 74.00h3.57v6.00h-3.57zM126.33 104.00h3.57v6.00h-3.57zM126.33 98.00h3.57v6.00h-3.57zM126.33 92.00h3.57v6.00h-3.57zM129.90 122.00h3.57v6.00h-3.57zM129.90 116.00h3.57v6.00h-3.57zM133.47 122.00h3.57v6.00h-3.57zM133.47 116.00h3.57v6.00h-3.57zM133.47 110.00h3.57v6.00h-3.57zM137.04 128.00h3.57v6.00h-3.57zM137.04 122.00h3.57v6.00h-3.57zM140.61 134.00h3.57v6.00h-3.57zM151.33 152.00h3.57v6.00h-3.57zM154.90 146.00h3.57v6.00h-3.57zM158.47 146.00h3.57v6.00h-3.57zM162.04 146.00h3.57v6.00h-3.57zM165.61 164.00h3.57v6.00h-3.57zM165.61 158.00h3.57v6.00h-3.57zM169.19 176.00h3.57v6.00h-3.57zM172.76 176.00h3.57v6.00h-3.57zM176.33 182.00h3.57v6.00h-3.57zM179.90 188.00h3.57v6.00h-3.57zM183.47 182.00h3.57v6.00h-3.57zM187.04 188.00h3.57v6.00h-3.57zM190.61 194.00h3.57v6.00h-3.57zM194.19 212.00h3.57v5.00h-3.57zM194.19 206.00h3.57v6.00h-3.57z"/>
<path fill="#0bbdbd" d="M79.90 14.00h3.57v6.00h-3.57zM79.90 8.00h3.57v6.00h-3.57zM79.90 2.00h3.57v6.00h-3.57zM94.19 98.00h3.57v6.00h-3.57zM97.76 92.00h3.57v6.00h-3.57zM101.33 20.00h3.57v6.00h-3.57zM101.33 14.00h3.57v6.00h-3.57zM101.33 8.00h3.57v6.00h-3.57zM101.33 2.00h3.57v6.00h-3.57zM104.90 80.00h3.57v6.00h-3.57zM104.90 74.00h3.57v6.00h-3.57zM104.90 68.00h3.57v6.00h-3.57zM108.47 98.00h3.57v6.00h-3.57zM112.04 98.00h3.57v6.00h-3.57zM115.61 152.00h3.57v6.00h-3.57zM119.19 74.00h3.57v6.00h-3.57zM122.76 68.00h3.57v6.00h-3.57zM126.33 86.00h3.57v6.00h-3.57zM126.33 80.00h3.57v6.00h-3.57zM129.90 110.00h3.57v6.00h-3.57zM133.47 104.00h3.57v6.00h-3.57zM137.04 116.00h3.57v6.00h-3.57zM140.61 128.00h3.57v6.00h-3.57zM144.19 134.00h3.57v6.00h-3.57zM151.33 146.00h3.57v6.00h-3.57zM154.90 140.00h3.57v6.00h-3.57zM165.61 152.00h3.57v6.00h-3.57zM172.76 170.00h3.57v6.00h-3.57zM176.33 176.00h3.57v6.00h-3.57zM179.90 182.00h3.57v6.00h-3.57zM183.47 176.00h3.57v6.00h-3.57zM187.04 182.00h3.57v6.00h-3.57zM187.04 176.00h3.57v6.00h-3.57zM190.61 188.00h3.57v6.00h-3.57zM194.19 200.00h3.57v6.00h-3.57z"/>
<path fill="#19bfb6" d="M94.19 92.00h3.57v6.00h-3.57zM94.19 86.00h3.57v6.00h-3.57zM97.76 86.00h3.57v6.00h-3.57zM97.76 80.00h3.57v6.00h-3.57zM97.76 74.00h3.57v6.00h-3.57zM104.90 62.00h3.57v6.00h-3.57zM104.90 56.00h3.57v6.00h-3.57zM104.90 50.00h3.57v6.00h-3.57zM104.90 44.00h3.57v6.00h-3.57zM104.90 38.00h3.57v6.00h-3.57zM104.90 32.00h3.57v6.00h-3.57zM104.90 26.00h3.57v6.00h-3.57zM108.47 92.00h3.57v6.00h-3.57zM108.47 86.00h3.57v6.00h-3.57zM112.04 92.00h3.57v6.00h-3.57zM112.04 86.00h3.57v6.00h-3.57zM119.19 68.00h3.57v6.00h-3.57zM122.76 62.00h3.57v6.00h-3.57zM122.76 56.00h3.57v6.00h-3.57zM126.33 74.00h3.57v6.00h-3.57zM126.33 68.00h3.57v6.00h-3.57zM129.90 104.00h3.57v6.00h-3.57zM129.90 98.00h3.57v6.00h-3.57zM133.47 98.00h3.57v6.00h-3.57zM133.47 92.00h3.57v6.00h-3.57zM133.47 86.00h3.57v6.00h-3.57zM137.04 110.00h3.57v6.00h-3.57zM137.04 104.00h3.57v6.00h-3.57zM137.04 98.00h3.57v6.00h-3.57zM140.61 122.00h3.57v6.00h-3.57zM140.61 116.00h3.57v6.00h-3.57zM144.19 128.00h3.57v6.00h-3.57zM151.33 140.00h3.57v6.00h-3.57zM154.90 134.00h3.57v6.00h-3.57zM158.47 140.00h3.57v6.00h-3.57zM162.04 140.00h3.57v6.00h-3.57zM169.19 170.00h3.57v6.00h-3.57zM172.76 164.00h3.57v6.00h-3.57zM172.76 158.00h3.57v6.00h-3.57zM176.33 170.00h3.57v6.00h-3.57zM176.33 158.00h3.57v6.00h-3.57zM176.33 152.00h3.57v6.00h-3.57zM179.90 176.00h3.57v6.00h-3.57zM183.47 170.00h3.57v6.00h-3.57zM187.04 170.00h3.57v6.00h-3.57zM190.61 182.00h3.57v6.00h-3.57zM190.61 176.00h3.57v6.00h-3.57zM194.19 194.00h3.57v6.00h-3.57z"/>
<path fill="#24c1ae" d="M94.19 80.00h3.57v6.00h-3.57zM94.19 74.00h3.57v6.00h-3.57zM94.19 68.00h3.57v6.00h-3.57zM97.76 68.00h3.57v6.00h-3.57zM97.76 62.00h3.57v6.00h-3.57zM97.76 56.00h3.57v6.00h-3.57zM104.90 20.00h3.57v6.00h-3.57zM104.90 14.00h3.57v6.00h-3.57zM104.90 8.00h3.57v6.00h-3.57zM104.90 2.00h3.57v6.00h-3.57zM108.47 80.00h3.57v6.00h-3.57zM108.47 74.00h3.57v6.00h-3.57zM112.04 80.00h3.57v6.00h-3.57zM112.04 74.00h3.57v6.00h-3.57zM112.04 68.00h3.57v6.00h-3.57zM115.61 146.00h3.57v6.00h-3.57zM122.76 50.00h3.57v6.00h-3.57zM126.33 62.00h3.57v6.00h-3.57zM129.90 92.00h3.57v6.00h-3.57zM129.90 86.00h3.57v6.00h-3.57zM133.47 80.00h3.57v6.00h-3.57zM137.04 92.00h3.57v6.00h-3.57zM140.61 110.00h3.57v6.00h-3.57zM144.19 122.00h3.57v6.00h-3.57zM144.19 116.00h3.57v6.00h-3.57zM154.90 128.00h3.57v6.00h-3.57zM158.47 134.00h3.57v6.00h-3.57zM162.04 134.00h3.57v6.00h-3.57zM165.61 146.00h3.57v6.00h-3.57zM169.19 164.00h3.57v6.00h-3.57zM169.19 158.00h3.57v6.00h-3.57zM169.19 152.00h3.57v6.00h-3.57zM172.76 152.00h3.57v6.00h-3.57zM176.33 164.00h3.57v6.00h-3.57zM176.33 146.00h3.57v6.00h-3.57zM179.90 170.00h3.57v6.00h-3.57zM183.47 164.00h3.57v6.00h-3.57zM187.04 164.00h3.57v6.00h-3.57zM187.04 158.00h3.57v6.00h-3.57zM187.04 152.00h3.57v6.00h-3.57zM190.61 170.00h3.57v6.00h-3.57zM194.19 188.00h3.57v6.00h-3.57zM208.47 212.00h3.57v5.00h-3.57zM208.47 206.00h3.57v6.00h-3.57z"/>
<path fill="#2cc4a7" d="M94.19 62.00h3.57v6.00h-3.57zM94.19 56.00h3.57v6.00h-3.57zM94.19 50.00h3.57v6.00h-3.57zM94.19 44.00h3.57v6.00h-3.57zM94.19 38.00h3.57v6.00h-3.57zM97.76 50.00h3.57v6.00h-3.57zM97.76 44.00h3.57v6.00h-3.57zM97.76 38.00h3.57v6.00h-3.57zM108.47 68.00h3.57v6.00h-3.57zM108.47 62.00h3.57v6.00h-3.57zM108.47 56.00h3.57v6.00h-3.57zM112.04 62.00h3.57v6.00h-3.57zM112.04 56.00h3.57v6.00h-3.57zM112.04 50.00h3.57v6.00h-3.57zM112.04 44.00h3.57v6.00h-3.57zM112.04 38.00h3.57v6.00h-3.57zM119.19 62.00h3.57v6.00h-3.57zM122.76 44.00h3.57v6.00h-3.57zM122.76 38.00h3.57v6.00h-3.57zM122.76 32.00h3.57v6.00h-3.57zM122.76 26.00h3.57v6.00h-3.57zM126.33 56.00h3.57v6.00h-3.57zM126.33 50.00h3.57v6.00h-3.57zM129.90 80.00h3.57v6.00h-3.57zM133.47 74.00h3.57v6.00h-3.57zM133.47 68.00h3.57v6.00h-3.57zM137.04 86.00h3.57v6.00h-3.57zM137.04 80.00h3.57v6.00h-3.57zM140.61 104.00h3.57v6.00h-3.57zM140.61 98.00h3.57v6.00h-3.57zM144.19 110.00h3.57v6.00h-3.57zM144.19 104.00h3.57v6.00h-3.57zM151.33 134.00h3.57v6.00h-3.57zM154.90 122.00h3.57v6.00h-3.57zM154.90 116.00h3.57v6.00h-3.57zM158.47 128.00h3.57v6.00h-3.57zM162.04 128.00h3.57v6.00h-3.57zM169.19 146.00h3.57v6.00h-3.57zM172.76 146.00h3.57v6.00h-3.57zM179.90 164.00h3.57v6.00h-3.57zM183.47 158.00h3.57v6.00h-3.57zM187.04 146.00h3.57v6.00h-3.57zM190.61 164.00h3.57v6.00h-3.57zM190.61 158.00h3.57v6.00h-3.57zM190.61 152.00h3.57v6.00h-3.57zM194.19 182.00h3.57v6.00h-3.57zM208.47 200.00h3.57v6.00h-3.57zM212.04 212.00h3.57v5.00h-3.57zM212.04 206.00h3.57v6.00h-3.57z"/>
<path fill="#31c69f" d="M94.19 32.00h3.57v6.00h-3.57zM94.19 26.00h3.57v6.00h-3.57zM94.19 20.00h3.57v6.00h-3.57zM97.76 32.00h3.57v6.00h-3.57zM97.76 26.00h3.57v6.00h-3.57zM97.76 20.00h3.57v6.00h-3.57zM108.47 50.00h3.57v6.00h-3.57zM108.47 44.00h3.57v6.00h-3.57zM108.47 38.00h3.57v6.00h-3.57zM112.04 32.00h3.57v6.00h-3.57zM112.04 26.00h3.57v6.00h-3.57zM112.04 20.00h3.57v6.00h-3.57zM115.61 140.00h3.57v6.00h-3.57zM119.19 56.00h3.57v6.00h-3.57zM122.76 20.00h3.57v6.00h-3.57zM122.76 14.00h3.57v6.00h-3.57zM122.76 8.00h3.57v6.00h-3.57zM122.76 2.00h3.57v6.00h-3.57zM126.33 44.00h3.57v6.00h-3.57zM126.33 38.00h3.57v6.00h-3.57zM126.33 32.00h3.57v6.00h-3.57zM126.33 26.00h3.57v6.00h-3.57zM129.90 74.00h3.57v6.00h-3.57zM129.90 68.00h3.57v6.00h-3.57zM133.47 62.00h3.57v6.00h-3.57zM137.04 74.00h3.57v6.00h-3.57zM140.61 92.00h3.57v6.00h-3.57zM140.61 86.00h3.57v6.00h-3.57zM144.19 98.00h3.57v6.00h-3.57zM147.76 212.00h3.57v5.00h-3.57zM151.33 128.00h3.57v6.00h-3.57zM151.33 122.00h3.57v6.00h-3.57zM154.90 110.00h3.57v6.00h-3.57zM158.47 122.00h3.57v6.00h-3.57zM162.04 122.00h3.57v6.00h-3.57zM165.61 140.00h3.57v6.00h-3.57zM169.19 140.00h3.57v6.00h-3.57zM176.33 140.00h3.57v6.00h-3.57zM179.90 158.00h3.57v6.00h-3.57zM183.47 152.00h3.57v6.00h-3.57zM194.19 176.00h3.57v6.00h-3.57zM208.47 194.00h3.57v6.00h-3.57zM212.04 200.00h3.57v6.00h-3.57zM215.61 212.00h3.57v5.00h-3.57zM215.61 206.00h3.57v6.00h-3.57z"/>
<path fill="#37c897" d="M94.19 14.00h3.57v6.00h-3.57zM94.19 8.00h3.57v6.00h-3.57zM94.19 2.00h3.57v6.00h-3.57zM97.76 14.00h3.57v6.00h-3.57zM97.76 8.00h3.57v6.00h-3.57zM97.76 2.00h3.57v6.00h-3.57zM108.47 32.00h3.57v6.00h-3.57zM108.47 26.00h3.57v6.00h-3.57zM108.47 20.00h3.57v6.00h-3.57zM112.04 14.00h3.57v6.00h-3.57zM112.04 8.00h3.57v6.00h-3.57zM112.04 2.00h3.57v6.00h-3.57zM115.61 134.00h3.57v6.00h-3.57zM119.19 50.00h3.57v6.00h-3.57zM126.33 20.00h3.57v6.00h-3.57zM126.33 14.00h3.57v6.00h-3.57zM126.33 8.00h3.57v6.00h-3.57zM126.33 2.00h3.57v6.00h-3.57zM129.90 62.00h3.57v6.00h-3.57zM133.47 56.00h3.57v6.00h-3.57zM133.47 50.00h3.57v6.00h-3.57zM137.04 68.00h3.57v6.00h-3.57zM140.61 80.00h3.57v6.00h-3.57zM144.19 92.00h3.57v6.00h-3.57zM144.19 86.00h3.57v6.00h-3.57zM151.33 116.00h3.57v6.00h-3.57zM151.33 110.00h3.57v6.00h-3.57zM151.33 104.00h3.57v6.00h-3.57zM154.90 104.00h3.57v6.00h-3.57zM158.47 116.00h3.57v6.00h-3.57zM162.04 116.00h3.57v6.00h-3.57zM169.19 134.00h3.57v6.00h-3.57zM172.76 140.00h3.57v6.00h-3.57zM176.33 134.00h3.57v6.00h-3.57zM179.90 152.00h3.57v6.00h-3.57zM183.47 146.00h3.57v6.00h-3.57zM187.04 140.00h3.57v6.00h-3.57zM190.61 146.00h3.57v6.00h-3.57zM194.19 170.00h3.57v6.00h-3.57zM194.19 158.00h3.57v6.00h-3.57zM194.19 152.00h3.57v6.00h-3.57zM208.47 188.00h3.57v6.00h-3.57zM212.04 194.00h3.57v6.00h-3.57zM212.04 188.00h3.57v6.00h-3.57zM215.61 200.00h3.57v6.00h-3.57zM219.19 212.00h3.57v5.00h-3.57zM219.19 206.00h3.57v6.00h-3.57zM222.76 212.00h3.57v5.00h-3.57z"/>
<path fill="#3fca8e" d="M108.47 14.00h3.57v6.00h-3.57zM108.47 8.00h3.57v6.00h-3.57zM108.47 2.00h3.57v6.00h-3.57zM119.19 44.00h3.57v6.00h-3.57zM119.19 38.00h3.57v6.00h-3.57zM119.19 32.00h3.57v6.00h-3.57zM119.19 26.00h3.57v6.00h-3.57zM129.90 56.00h3.57v6.00h-3.57zM129.90 50.00h3.57v6.00h-3.57zM133.47 44.00h3.57v6.00h-3.57zM133.47 38.00h3.57v6.00h-3.57zM133.47 32.00h3.57v6.00h-3.57zM133.47 26.00h3.57v6.00h-3.57zM140.61 74.00h3.57v6.00h-3.57zM144.19 80.00h3.57v6.00h-3.57zM147.76 206.00h3.57v6.00h-3.57zM151.33 98.00h3.57v6.00h-3.57zM151.33 92.00h3.57v6.00h-3.57zM154.90 98.00h3.57v6.00h-3.57zM158.47 110.00h3.57v6.00h-3.57zM162.04 110.00h3.57v6.00h-3.57zM165.61 134.00h3.57v6.00h-3.57zM172.76 134.00h3.57v6.00h-3.57zM187.04 134.00h3.57v6.00h-3.57zM190.61 140.00h3.57v6.00h-3.57zM194.19 164.00h3.57v6.00h-3.57zM194.19 146.00h3.57v6.00h-3.57zM208.47 182.00h3.57v6.00h-3.57zM208.47 176.00h3.57v6.00h-3.57zM212.04 182.00h3.57v6.00h-3.57zM215.61 194.00h3.57v6.00h-3.57zM215.61 188.00h3.57v6.00h-3.57zM219.19 200.00h3.57v6.00h-3.57z"/>
<path fill="#4acb84" d="M115.61 128.00h3.57v6.00h-3.57zM119.19 20.00h3.57v6.00h-3.57zM119.19 14.00h3.57v6.00h-3.57zM119.19 8.00h3.57v6.00h-3.57zM119.19 2.00h3.57v6.00h-3.57zM129.90 44.00h3.57v6.00h-3.57zM129.90 38.00h3.57v6.00h-3.57zM129.90 32.00h3.57v6.00h-3.57zM129.90 26.00h3.57v6.00h-3.57zM133.47 20.00h3.57v6.00h-3.57zM133.47 14.00h3.57v6.00h-3.57zM133.47 8.00h3.57v6.00h-3.57zM133.47 2.00h3.57v6.00h-3.57zM137.04 62.00h3.57v6.00h-3.57zM140.61 68.00h3.57v6.00h-3.57zM140.61 62.00h3.57v6.00h-3.57zM144.19 74.00h3.57v6.00h-3.57zM147.76 200.00h3.57v6.00h-3.57zM151.33 86.00h3.57v6.00h-3.57zM151.33 80.00h3.57v6.00h-3.57zM154.90 92.00h3.57v6.00h-3.57zM154.90 86.00h3.57v6.00h-3.57zM158.47 104.00h3.57v6.00h-3.57zM158.47 98.00h3.57v6.00h-3.57zM162.04 104.00h3.57v6.00h-3.57zM162.04 98.00h3.57v6.00h-3.57zM165.61 128.00h3.57v6.00h-3.57zM165.61 122.00h3.57v6.00h-3.57zM165.61 116.00h3.57v6.00h-3.57zM165.61 110.00h3.57v6.00h-3.57zM165.61 104.00h3.57v6.00h-3.57zM165.61 98.00h3.57v6.00h-3.57zM169.19 128.00h3.57v6.00h-3.57zM172.76 128.00h3.57v6.00h-3.57zM176.33 128.00h3.57v6.00h-3.57zM179.90 146.00h3.57v6.00h-3.57zM183.47 140.00h3.57v6.00h-3.57zM208.47 170.00h3.57v6.00h-3.57zM212.04 176.00h3.57v6.00h-3.57zM212.04 170.00h3.57v6.00h-3.57zM215.61 182.00h3.57v6.00h-3.57zM219.19 194.00h3.57v6.00h-3.57zM219.19 188.00h3.57v6.00h-3.57zM222.76 206.00h3.57v6.00h-3.57z"/>
<path fill="#57cc7a" d="M115.61 122.00h3.57v6.00h-3.57zM129.90 20.00h3.57v6.00h-3.57zM129.90 14.00h3.57v6.00h-3.57zM129.90 8.00h3.57v6.00h-3.57zM129.90 2.00h3.57v6.00h-3.57zM137.04 56.00h3.57v6.00h-3.57zM140.61 56.00h3.57v6.00h-3.57zM144.19 68.00h3.57v6.00h-3.57zM147.76 194.00h3.57v6.00h-3.57zM151.33 74.00h3.57v6.00h-3.57zM154.90 80.00h3.57v6.00h-3.57zM158.47 92.00h3.57v6.00h-3.57zM162.04 92.00h3.57v6.00h-3.57zM165.61 92.00h3.57v6.00h-3.57zM165.61 86.00h3.57v6.00h-3.57zM169.19 122.00h3.57v6.00h-3.57zM176.33 122.00h3.57v6.00h-3.57zM179.90 140.00h3.57v6.00h-3.57zM183.47 134.00h3.57v6.00h-3.57zM187.04 128.00h3.57v6.00h-3.57zM190.61 134.00h3.57v6.00h-3.57zM194.19 140.00h3.57v6.00h-3.57zM208.47 164.00h3.57v6.00h-3.57zM212.04 164.00h3.57v6.00h-3.57zM215.61 176.00h3.57v6.00h-3.57zM215.61 170.00h3.57v6.00h-3.57zM219.19 182.00h3.57v6.00h-3.57zM222.76 200.00h3.57v6.00h-3.57z"/>
<path fill="#64cd6f" d="M115.61 116.00h3.57v6.00h-3.57zM115.61 110.00h3.57v6.00h-3.57zM137.04 50.00h3.57v6.00h-3.57zM140.61 50.00h3.57v6.00h-3.57zM144.19 62.00h3.57v6.00h-3.57zM147.76 188.00h3.57v6.00h-3.57zM151.33 68.00h3.57v6.00h-3.57zM151.33 62.00h3.57v6.00h-3.57zM154.90 74.00h3.57v6.00h-3.57zM158.47 86.00h3.57v6.00h-3.57zM162.04 86.00h3.57v6.00h-3.57zM162.04 80.00h3.57v6.00h-3.57zM165.61 80.00h3.57v6.00h-3.57zM165.61 74.00h3.57v6.00h-3.57zM169.19 116.00h3.57v6.00h-3.57zM172.76 122.00h3.57v6.00h-3.57zM172.76 116.00h3.57v6.00h-3.57zM176.33 116.00h3.57v6.00h-3.57zM176.33 110.00h3.57v6.00h-3.57zM187.04 122.00h3.57v6.00h-3.57zM194.19 134.00h3.57v6.00h-3.57zM197.76 212.00h3.57v5.00h-3.57zM197.76 206.00h3.57v6.00h-3.57zM208.47 158.00h3.57v6.00h-3.57zM208.47 152.00h3.57v6.00h-3.57zM208.47 146.00h3.57v6.00h-3.57zM212.04 158.00h3.57v6.00h-3.57zM212.04 152.00h3.57v6.00h-3.57zM215.61 164.00h3.57v6.00h-3.57zM219.19 176.00h3.57v6.00h-3.57zM219.19 170.00h3.57v6.00h-3.57zM222.76 194.00h3.57v6.00h-3.57z"/>
<path fill="#72cd64" d="M115.61 104.00h3.57v6.00h-3.57zM137.04 44.00h3.57v6.00h-3.57zM137.04 38.00h3.57v6.00h-3.57zM137.04 32.00h3.57v6.00h-3.57zM137.04 26.00h3.57v6.00h-3.57zM140.61 44.00h3.57v6.00h-3.57zM140.61 38.00h3.57v6.00h-3.57zM140.61 32.00h3.57v6.00h-3.57zM140.61 26.00h3.57v6.00h-3.57zM147.76 182.00h3.57v6.00h-3.57zM151.33 56.00h3.57v6.00h-3.57zM154.90 68.00h3.57v6.00h-3.57zM158.47 80.00h3.57v6.00h-3.57zM162.04 74.00h3.57v6.00h-3.57zM165.61 68.00h3.57v6.00h-3.57zM165.61 62.00h3.57v6.00h-3.57zM179.90 134.00h3.57v6.00h-3.57zM183.47 128.00h3.57v6.00h-3.57zM190.61 128.00h3.57v6.00h-3.57zM197.76 200.00h3.57v6.00h-3.57zM208.47 140.00h3.57v6.00h-3.57zM208.47 134.00h3.57v6.00h-3.57zM212.04 146.00h3.57v6.00h-3.57zM219.19 164.00h3.57v6.00h-3.57zM222.76 188.00h3.57v6.00h-3.57zM226.33 212.00h3.57v5.00h-3.57z"/>
<path fill="#81cc59" d="M115.61 98.00h3.57v6.00h-3.57zM115.61 92.00h3.57v6.00h-3.57zM137.04 20.00h3.57v6.00h-3.57zM137.04 14.00h3.57v6.00h-3.57zM137.04 8.00h3.57v6.00h-3.57zM137.04 2.00h3.57v6.00h-3.57zM140.61 20.00h3.57v6.00h-3.57zM140.61 14.00h3.57v6.00h-3.57zM140.61 8.00h3.57v6.00h-3.57zM140.61 2.00h3.57v6.00h-3.57zM144.19 56.00h3.57v6.00h-3.57zM151.33 50.00h3.57v6.00h-3.57zM154.90 62.00h3.57v6.00h-3.57zM154.90 56.00h3.57v6.00h-3.57zM158.47 74.00h3.57v6.00h-3.57zM162.04 68.00h3.57v6.00h-3.57zM162.04 62.00h3.57v6.00h-3.57zM165.61 56.00h3.57v6.00h-3.57zM169.19 110.00h3.57v6.00h-3.57zM172.76 110.00h3.57v6.00h-3.57zM172.76 104.00h3.57v6.00h-3.57zM176.33 104.00h3.57v6.00h-3.57zM176.33 98.00h3.57v6.00h-3.57zM179.90 128.00h3.57v6.00h-3.57zM183.47 122.00h3.57v6.00h-3.57zM183.47 116.00h3.57v6.00h-3.57zM187.04 116.00h3.57v6.00h-3.57zM190.61 122.00h3.57v6.00h-3.57zM194.19 128.00h3.57v6.00h-3.57zM197.76 194.00h3.57v6.00h-3.57zM197.76 188.00h3.57v6.00h-3.57zM208.47 128.00h3.57v6.00h-3.57zM212.04 140.00h3.57v6.00h-3.57zM215.61 158.00h3.57v6.00h-3.57zM222.76 182.00h3.57v6.00h-3.57zM237.04 212.00h3.57v5.00h-3.57zM237.04 206.00h3.57v6.00h-3.57zM237.04 200.00h3.57v6.00h-3.57z"/>
<path fill="#8fcb4e" d="M115.61 86.00h3.57v6.00h-3.57zM144.19 50.00h3.57v6.00h-3.57zM147.76 176.00h3.57v6.00h-3.57zM151.33 44.00h3.57v6.00h-3.57zM151.33 38.00h3.57v6.00h-3.57zM151.33 32.00h3.57v6.00h-3.57zM151.33 26.00h3.57v6.00h-3.57zM154.90 50.00h3.57v6.00h-3.57zM158.47 68.00h3.57v6.00h-3.57zM162.04 56.00h3.57v6.00h-3.57zM165.61 50.00h3.57v6.00h-3.57zM165.61 44.00h3.57v6.00h-3.57zM169.19 104.00h3.57v6.00h-3.57zM172.76 98.00h3.57v6.00h-3.57zM176.33 92.00h3.57v6.00h-3.57zM179.90 122.00h3.57v6.00h-3.57zM194.19 122.00h3.57v6.00h-3.57zM197.76 182.00h3.57v6.00h-3.57zM208.47 122.00h3.57v6.00h-3.57zM212.04 134.00h3.57v6.00h-3.57zM219.19 158.00h3.57v6.00h-3.57zM222.76 176.00h3.57v6.00h-3.57zM226.33 206.00h3.57v6.00h-3.57z"/>
<path fill="#9dc943" d="M115.61 80.00h3.57v6.00h-3.57zM115.61 74.00h3.57v6.00h-3.57zM115.61 68.00h3.57v6.00h-3.57zM115.61 62.00h3.57v6.00h-3.57zM144.19 44.00h3.57v6.00h-3.57zM144.19 38.00h3.57v6.00h-3.57zM144.19 32.00h3.57v6.00h-3.57zM144.19 26.00h3.57v6.00h-3.57zM147.76 170.00h3.57v6.00h-3.57zM151.33 20.00h3.57v6.00h-3.57zM151.33 14.00h3.57v6.00h-3.57zM151.33 8.00h3.57v6.00h-3.57zM151.33 2.00h3.57v6.00h-3.57zM154.90 44.00h3.57v6.00h-3.57zM154.90 38.00h3.57v6.00h-3.57zM154.90 32.00h3.57v6.00h-3.57zM154.90 26.00h3.57v6.00h-3.57zM158.47 62.00h3.57v6.00h-3.57zM162.04 50.00h3.57v6.00h-3.57zM162.04 44.00h3.57v6.00h-3.57zM165.61 38.00h3.57v6.00h-3.57zM169.19 98.00h3.57v6.00h-3.57zM172.76 92.00h3.57v6.00h-3.57zM176.33 86.00h3.57v6.00h-3.57zM176.33 80.00h3.57v6.00h-3.57zM179.90 116.00h3.57v6.00h-3.57zM183.47 110.00h3.57v6.00h-3.57zM183.47 104.00h3.57v6.00h-3.57zM187.04 110.00h3.57v6.00h-3.57zM190.61 116.00h3.57v6.00h-3.57zM197.76 176.00h3.57v6.00h-3.57zM197.76 170.00h3.57v6.00h-3.57zM197.76 158.00h3.57v6.00h-3.57zM197.76 152.00h3.57v6.00h-3.57zM208.47 116.00h3.57v6.00h-3.57zM212.04 128.00h3.57v6.00h-3.57zM215.61 152.00h3.57v6.00h-3.57zM222.76 170.00h3.57v6.00h-3.57zM226.33 200.00h3.57v6.00h-3.57z"/>
<path fill="#abc739" d="M115.61 56.00h3.57v6.00h-3.57zM115.61 50.00h3.57v6.00h-3.57zM115.61 44.00h3.57v6.00h-3.57zM115.61 38.00h3.57v6.00h-3.57zM144.19 20.00h3.57v6.00h-3.57zM144.19 14.00h3.57v6.00h-3.57zM144.19 8.00h3.57v6.00h-3.57zM144.19 2.00h3.57v6.00h-3.57zM147.76 164.00h3.57v6.00h-3.57zM154.90 20.00h3.57v6.00h-3.57zM154.90 14.00h3.57v6.00h-3.57zM154.90 8.00h3.57v6.00h-3.57zM154.90 2.00h3.57v6.00h-3.57zM158.47 56.00h3.57v6.00h-3.57zM162.04 38.00h3.57v6.00h-3.57zM162.04 32.00h3.57v6.00h-3.57zM165.61 32.00h3.57v6.00h-3.57zM169.19 92.00h3.57v6.00h-3.57zM172.76 86.00h3.57v6.00h-3.57zM172.76 80.00h3.57v6.00h-3.57zM176.33 74.00h3.57v6.00h-3.57zM179.90 110.00h3.57v6.00h-3.57zM183.47 98.00h3.57v6.00h-3.57zM187.04 104.00h3.57v6.00h-3.57zM190.61 110.00h3.57v6.00h-3.57zM194.19 116.00h3.57v6.00h-3.57zM197.76 164.00h3.57v6.00h-3.57zM197.76 146.00h3.57v6.00h-3.57zM215.61 146.00h3.57v6.00h-3.57zM219.19 152.00h3.57v6.00h-3.57zM222.76 164.00h3.57v6.00h-3.57zM226.33 194.00h3.57v6.00h-3.57zM229.90 212.00h3.57v5.00h-3.57zM229.90 206.00h3.57v6.00h-3.57zM233.47 212.00h3.57v5.00h-3.57zM233.47 206.00h3.57v6.00h-3.57zM233.47 200.00h3.57v6.00h-3.57zM240.61 212.00h3.57v5.00h-3.57zM240.61 206.00h3.57v6.00h-3.57zM240.61 200.00h3.57v6.00h-3.57z"/>
<path fill="#b9c431" d="M115.61 32.00h3.57v6.00h-3.57zM115.61 26.00h3.57v6.00h-3.57zM115.61 20.00h3.57v6.00h-3.57zM147.76 158.00h3.57v6.00h-3.57zM158.47 50.00h3.57v6.00h-3.57zM162.04 26.00h3.57v6.00h-3.57zM165.61 26.00h3.57v6.00h-3.57zM165.61 20.00h3.57v6.00h-3.57zM169.19 86.00h3.57v6.00h-3.57zM172.76 74.00h3.57v6.00h-3.57zM176.33 68.00h3.57v6.00h-3.57zM176.33 62.00h3.57v6.00h-3.57zM179.90 104.00h3.57v6.00h-3.57zM179.90 98.00h3.57v6.00h-3.57zM179.90 92.00h3.57v6.00h-3.57zM183.47 92.00h3.57v6.00h-3.57zM183.47 86.00h3.57v6.00h-3.57zM187.04 98.00h3.57v6.00h-3.57zM187.04 92.00h3.57v6.00h-3.57zM190.61 104.00h3.57v6.00h-3.57zM197.76 140.00h3.57v6.00h-3.57zM215.61 140.00h3.57v6.00h-3.57zM219.19 146.00h3.57v6.00h-3.57zM222.76 158.00h3.57v6.00h-3.57zM229.90 200.00h3.57v6.00h-3.57zM229.90 194.00h3.57v6.00h-3.57z"/>
<path fill="#c5c22a" d="M115.61 14.00h3.57v6.00h-3.57zM115.61 8.00h3.57v6.00h-3.57zM115.61 2.00h3.57v6.00h-3.57zM147.76 152.00h3.57v6.00h-3.57zM158.47 44.00h3.57v6.00h-3.57zM158.47 38.00h3.57v6.00h-3.57zM158.47 32.00h3.57v6.00h-3.57zM158.47 26.00h3.57v6.00h-3.57zM162.04 20.00h3.57v6.00h-3.57zM162.04 14.00h3.57v6.00h-3.57zM165.61 14.00h3.57v6.00h-3.57zM169.19 80.00h3.57v6.00h-3.57zM172.76 68.00h3.57v6.00h-3.57zM172.76 62.00h3.57v6.00h-3.57zM176.33 56.00h3.57v6.00h-3.57zM176.33 50.00h3.57v6.00h-3.57zM179.90 86.00h3.57v6.00h-3.57zM179.90 80.00h3.57v6.00h-3.57zM179.90 74.00h3.57v6.00h-3.57zM179.90 68.00h3.57v6.00h-3.57zM183.47 80.00h3.57v6.00h-3.57zM183.47 74.00h3.57v6.00h-3.57zM187.04 86.00h3.57v6.00h-3.57zM187.04 80.00h3.57v6.00h-3.57zM187.04 74.00h3.57v6.00h-3.57zM187.04 68.00h3.57v6.00h-3.57zM190.61 98.00h3.57v6.00h-3.57zM194.19 110.00h3.57v6.00h-3.57zM197.76 134.00h3.57v6.00h-3.57zM197.76 128.00h3.57v6.00h-3.57zM212.04 122.00h3.57v6.00h-3.57zM215.61 134.00h3.57v6.00h-3.57zM219.19 140.00h3.57v6.00h-3.57zM222.76 152.00h3.57v6.00h-3.57zM226.33 188.00h3.57v6.00h-3.57zM229.90 188.00h3.57v6.00h-3.57zM229.90 182.00h3.57v6.00h-3.57z"/>
<path fill="#d1bf27" d="M147.76 146.00h3.57v6.00h-3.57zM147.76 140.00h3.57v6.00h-3.57zM158.47 20.00h3.57v6.00h-3.57zM158.47 14.00h3.57v6.00h-3.57zM158.47 8.00h3.57v6.00h-3.57zM158.47 2.00h3.57v6.00h-3.57zM162.04 8.00h3.57v6.00h-3.57zM162.04 2.00h3.57v6.00h-3.57zM165.61 8.00h3.57v6.00h-3.57zM165.61 2.00h3.57v6.00h-3.57zM169.19 74.00h3.57v6.00h-3.57zM169.19 68.00h3.57v6.00h-3.57zM172.76 56.00h3.57v6.00h-3.57zM172.76 50.00h3.57v6.00h-3.57zM172.76 44.00h3.57v6.00h-3.57zM176.33 44.00h3.57v6.00h-3.57zM176.33 38.00h3.57v6.00h-3.57zM179.90 62.00h3.57v6.00h-3.57zM179.90 56.00h3.57v6.00h-3.57zM179.90 50.00h3.57v6.00h-3.57zM179.90 44.00h3.57v6.00h-3.57zM183.47 68.00h3.57v6.00h-3.57zM183.47 62.00h3.57v6.00h-3.57zM187.04 62.00h3.57v6.00h-3.57zM190.61 92.00h3.57v6.00h-3.57zM190.61 86.00h3.57v6.00h-3.57zM190.61 80.00h3.57v6.00h-3.57zM194.19 104.00h3.57v6.00h-3.57zM197.76 122.00h3.57v6.00h-3.57zM197.76 116.00h3.57v6.00h-3.57zM204.90 152.00h3.57v6.00h-3.57zM222.76 146.00h3.57v6.00h-3.57zM226.33 182.00h3.57v6.00h-3.57zM229.90 176.00h3.57v6.00h-3.57zM229.90 170.00h3.57v6.00h-3.57zM244.19 212.00h3.57v5.00h-3.57zM244.19 206.00h3.57v6.00h-3.57zM244.19 200.00h3.57v6.00h-3.57z"/>
<path fill="#dcbd29" d="M147.76 134.00h3.57v6.00h-3.57zM169.19 62.00h3.57v6.00h-3.57zM172.76 38.00h3.57v6.00h-3.57zM172.76 32.00h3.57v6.00h-3.57zM172.76 26.00h3.57v6.00h-3.57zM176.33 32.00h3.57v6.00h-3.57zM183.47 56.00h3.57v6.00h-3.57zM183.47 50.00h3.57v6.00h-3.57zM190.61 74.00h3.57v6.00h-3.57zM194.19 98.00h3.57v6.00h-3.57zM194.19 92.00h3.57v6.00h-3.57zM194.19 86.00h3.57v6.00h-3.57zM194.19 80.00h3.57v6.00h-3.57zM197.76 110.00h3.57v6.00h-3.57zM204.90 146.00h3.57v6.00h-3.57zM204.90 140.00h3.57v6.00h-3.57zM215.61 128.00h3.57v6.00h-3.57zM226.33 176.00h3.57v6.00h-3.57zM229.90 164.00h3.57v6.00h-3.57z"/>
<path fill="#e6bb2d" d="M147.76 128.00h3.57v6.00h-3.57zM147.76 122.00h3.57v6.00h-3.57zM147.76 116.00h3.57v6.00h-3.57zM169.19 56.00h3.57v6.00h-3.57zM169.19 50.00h3.57v6.00h-3.57zM169.19 44.00h3.57v6.00h-3.57zM197.76 104.00h3.57v6.00h-3.57zM197.76 98.00h3.57v6.00h-3.57zM197.76 92.00h3.57v6.00h-3.57zM204.90 206.00h3.57v6.00h-3.57zM204.90 200.00h3.57v6.00h-3.57zM204.90 194.00h3.57v6.00h-3.57zM204.90 188.00h3.57v6.00h-3.57zM204.90 158.00h3.57v6.00h-3.57zM204.90 134.00h3.57v6.00h-3.57zM204.90 128.00h3.57v6.00h-3.57zM204.90 122.00h3.57v6.00h-3.57zM204.90 116.00h3.57v6.00h-3.57zM204.90 110.00h3.57v6.00h-3.57zM204.90 104.00h3.57v6.00h-3.57zM229.90 158.00h3.57v6.00h-3.57zM240.61 194.00h3.57v6.00h-3.57zM240.61 188.00h3.57v6.00h-3.57zM240.61 182.00h3.57v6.00h-3.57zM240.61 176.00h3.57v6.00h-3.57zM240.61 170.00h3.57v6.00h-3.57z"/>
<path fill="#f0ba36" d="M147.76 110.00h3.57v6.00h-3.57zM147.76 104.00h3.57v6.00h-3.57zM147.76 98.00h3.57v6.00h-3.57zM169.19 38.00h3.57v6.00h-3.57zM169.19 32.00h3.57v6.00h-3.57zM169.19 26.00h3.57v6.00h-3.57zM169.19 20.00h3.57v6.00h-3.57zM179.90 38.00h3.57v6.00h-3.57zM204.90 182.00h3.57v6.00h-3.57zM204.90 176.00h3.57v6.00h-3.57zM204.90 170.00h3.57v6.00h-3.57zM204.90 164.00h3.57v6.00h-3.57zM215.61 122.00h3.57v6.00h-3.57zM226.33 170.00h3.57v6.00h-3.57z"/>
<path fill="#f8ba3d" d="M147.76 92.00h3.57v6.00h-3.57zM147.76 86.00h3.57v6.00h-3.57zM147.76 80.00h3.57v6.00h-3.57zM147.76 74.00h3.57v6.00h-3.57zM147.76 68.00h3.57v6.00h-3.57zM147.76 62.00h3.57v6.00h-3.57zM147.76 56.00h3.57v6.00h-3.57zM147.76 50.00h3.57v6.00h-3.57zM147.76 44.00h3.57v6.00h-3.57zM147.76 38.00h3.57v6.00h-3.57zM147.76 32.00h3.57v6.00h-3.57zM147.76 26.00h3.57v6.00h-3.57zM147.76 20.00h3.57v6.00h-3.57zM147.76 14.00h3.57v6.00h-3.57zM147.76 8.00h3.57v6.00h-3.57zM147.76 2.00h3.57v6.00h-3.57zM169.19 14.00h3.57v6.00h-3.57zM169.19 8.00h3.57v6.00h-3.57zM172.76 20.00h3.57v6.00h-3.57zM172.76 14.00h3.57v6.00h-3.57zM187.04 56.00h3.57v6.00h-3.57zM190.61 62.00h3.57v6.00h-3.57zM190.61 56.00h3.57v6.00h-3.57zM194.19 74.00h3.57v6.00h-3.57zM197.76 80.00h3.57v6.00h-3.57zM201.33 212.00h3.57v5.00h-3.57zM201.33 206.00h3.57v6.00h-3.57zM201.33 200.00h3.57v6.00h-3.57zM201.33 194.00h3.57v6.00h-3.57zM201.33 188.00h3.57v6.00h-3.57zM201.33 182.00h3.57v6.00h-3.57zM201.33 176.00h3.57v6.00h-3.57zM201.33 170.00h3.57v6.00h-3.57zM201.33 164.00h3.57v6.00h-3.57zM201.33 158.00h3.57v6.00h-3.57zM201.33 152.00h3.57v6.00h-3.57zM201.33 146.00h3.57v6.00h-3.57zM201.33 140.00h3.57v6.00h-3.57zM201.33 134.00h3.57v6.00h-3.57zM201.33 128.00h3.57v6.00h-3.57zM201.33 122.00h3.57v6.00h-3.57zM201.33 116.00h3.57v6.00h-3.57zM201.33 110.00h3.57v6.00h-3.57zM201.33 104.00h3.57v6.00h-3.57zM201.33 98.00h3.57v6.00h-3.57zM204.90 98.00h3.57v6.00h-3.57zM204.90 92.00h3.57v6.00h-3.57zM212.04 116.00h3.57v6.00h-3.57zM215.61 116.00h3.57v6.00h-3.57zM219.19 134.00h3.57v6.00h-3.57zM222.76 128.00h3.57v6.00h-3.57zM226.33 164.00h3.57v6.00h-3.57zM226.33 158.00h3.57v6.00h-3.57zM226.33 152.00h3.57v6.00h-3.57zM226.33 146.00h3.57v6.00h-3.57zM229.90 152.00h3.57v6.00h-3.57zM247.76 212.00h3.57v5.00h-3.57zM247.76 206.00h3.57v6.00h-3.57z"/>
<path fill="#febe3c" d="M176.33 26.00h3.57v6.00h-3.57zM179.90 32.00h3.57v6.00h-3.57zM183.47 44.00h3.57v6.00h-3.57zM187.04 50.00h3.57v6.00h-3.57zM190.61 68.00h3.57v6.00h-3.57zM197.76 86.00h3.57v6.00h-3.57zM201.33 92.00h3.57v6.00h-3.57zM201.33 86.00h3.57v6.00h-3.57zM201.33 80.00h3.57v6.00h-3.57zM208.47 110.00h3.57v6.00h-3.57zM212.04 110.00h3.57v6.00h-3.57zM219.19 122.00h3.57v6.00h-3.57zM222.76 140.00h3.57v6.00h-3.57zM226.33 140.00h3.57v6.00h-3.57zM233.47 194.00h3.57v6.00h-3.57zM233.47 188.00h3.57v6.00h-3.57zM233.47 182.00h3.57v6.00h-3.57zM233.47 176.00h3.57v6.00h-3.57zM233.47 170.00h3.57v6.00h-3.57zM233.47 164.00h3.57v6.00h-3.57zM233.47 158.00h3.57v6.00h-3.57zM233.47 152.00h3.57v6.00h-3.57zM237.04 194.00h3.57v6.00h-3.57zM237.04 188.00h3.57v6.00h-3.57zM237.04 182.00h3.57v6.00h-3.57zM237.04 176.00h3.57v6.00h-3.57zM237.04 170.00h3.57v6.00h-3.57zM237.04 164.00h3.57v6.00h-3.57zM244.19 194.00h3.57v6.00h-3.57zM244.19 188.00h3.57v6.00h-3.57zM244.19 182.00h3.57v6.00h-3.57zM244.19 176.00h3.57v6.00h-3.57zM244.19 170.00h3.57v6.00h-3.57z"/>
<path fill="#fec338" d="M176.33 20.00h3.57v6.00h-3.57zM183.47 38.00h3.57v6.00h-3.57zM208.47 104.00h3.57v6.00h-3.57zM208.47 98.00h3.57v6.00h-3.57zM215.61 110.00h3.57v6.00h-3.57zM219.19 128.00h3.57v6.00h-3.57zM222.76 134.00h3.57v6.00h-3.57zM229.90 140.00h3.57v6.00h-3.57zM237.04 158.00h3.57v6.00h-3.57zM240.61 164.00h3.57v6.00h-3.57zM247.76 200.00h3.57v6.00h-3.57zM247.76 194.00h3.57v6.00h-3.57zM247.76 188.00h3.57v6.00h-3.57zM247.76 182.00h3.57v6.00h-3.57zM247.76 176.00h3.57v6.00h-3.57zM247.76 170.00h3.57v6.00h-3.57zM254.90 212.00h3.57v5.00h-3.57zM254.90 206.00h3.57v6.00h-3.57zM254.90 200.00h3.57v6.00h-3.57zM254.90 194.00h3.57v6.00h-3.57zM254.90 188.00h3.57v6.00h-3.57zM258.47 212.00h3.57v5.00h-3.57zM258.47 206.00h3.57v6.00h-3.57zM258.47 200.00h3.57v6.00h-3.57zM258.47 194.00h3.57v6.00h-3.57zM258.47 188.00h3.57v6.00h-3.57z"/>
<path fill="#fec934" d="M169.19 2.00h3.57v6.00h-3.57zM194.19 68.00h3.57v6.00h-3.57zM197.76 74.00h3.57v6.00h-3.57zM212.04 104.00h3.57v6.00h-3.57zM226.33 134.00h3.57v6.00h-3.57zM229.90 146.00h3.57v6.00h-3.57z"/>
<path fill="#fad62d" d="M269.19 212.00h3.57v5.00h-3.57zM269.19 206.00h3.57v6.00h-3.57zM269.19 200.00h3.57v6.00h-3.57zM269.19 194.00h3.57v6.00h-3.57z"/>
<path fill="#f7dc2a" d="M172.76 8.00h3.57v6.00h-3.57zM187.04 44.00h3.57v6.00h-3.57zM194.19 62.00h3.57v6.00h-3.57zM204.90 86.00h3.57v6.00h-3.57zM233.47 146.00h3.57v6.00h-3.57zM237.04 152.00h3.57v6.00h-3.57zM240.61 158.00h3.57v6.00h-3.57zM244.19 164.00h3.57v6.00h-3.57z"/>
<path fill="#f5e327" d="M179.90 26.00h3.57v6.00h-3.57zM197.76 68.00h3.57v6.00h-3.57zM219.19 116.00h3.57v6.00h-3.57zM272.76 206.00h3.57v6.00h-3.57zM272.76 200.00h3.57v6.00h-3.57zM272.76 194.00h3.57v6.00h-3.57z"/>
<path fill="#f5e924" d="M176.33 14.00h3.57v6.00h-3.57zM176.33 2.00h3.57v6.00h-3.57zM183.47 32.00h3.57v6.00h-3.57zM183.47 20.00h3.57v6.00h-3.57zM187.04 2.00h3.57v6.00h-3.57zM190.61 50.00h3.57v6.00h-3.57zM190.61 44.00h3.57v6.00h-3.57zM194.19 20.00h3.57v6.00h-3.57zM194.19 8.00h3.57v6.00h-3.57zM197.76 44.00h3.57v6.00h-3.57zM197.76 38.00h3.57v6.00h-3.57zM201.33 2.00h3.57v6.00h-3.57zM204.90 212.00h3.57v5.00h-3.57zM204.90 68.00h3.57v6.00h-3.57zM204.90 20.00h3.57v6.00h-3.57zM204.90 14.00h3.57v6.00h-3.57zM208.47 92.00h3.57v6.00h-3.57zM208.47 44.00h3.57v6.00h-3.57zM212.04 68.00h3.57v6.00h-3.57zM212.04 56.00h3.57v6.00h-3.57zM212.04 50.00h3.57v6.00h-3.57zM215.61 98.00h3.57v6.00h-3.57zM215.61 50.00h3.57v6.00h-3.57zM215.61 32.00h3.57v6.00h-3.57zM215.61 20.00h3.57v6.00h-3.57zM215.61 2.00h3.57v6.00h-3.57zM219.19 38.00h3.57v6.00h-3.57zM219.19 32.00h3.57v6.00h-3.57zM222.76 122.00h3.57v6.00h-3.57zM222.76 116.00h3.57v6.00h-3.57zM222.76 104.00h3.57v6.00h-3.57zM222.76 8.00h3.57v6.00h-3.57zM226.33 56.00h3.57v6.00h-3.57zM226.33 14.00h3.57v6.00h-3.57zM229.90 128.00h3.57v6.00h-3.57zM229.90 122.00h3.57v6.00h-3.57zM229.90 110.00h3.57v6.00h-3.57zM229.90 86.00h3.57v6.00h-3.57zM229.90 74.00h3.57v6.00h-3.57zM233.47 134.00h3.57v6.00h-3.57zM233.47 86.00h3.57v6.00h-3.57zM237.04 98.00h3.57v6.00h-3.57zM237.04 74.00h3.57v6.00h-3.57zM237.04 68.00h3.57v6.00h-3.57zM237.04 44.00h3.57v6.00h-3.57zM237.04 32.00h3.57v6.00h-3.57zM240.61 140.00h3.57v6.00h-3.57zM240.61 128.00h3.57v6.00h-3.57zM240.61 110.00h3.57v6.00h-3.57zM240.61 98.00h3.57v6.00h-3.57zM240.61 80.00h3.57v6.00h-3.57zM240.61 2.00h3.57v6.00h-3.57zM244.19 122.00h3.57v6.00h-3.57zM244.19 110.00h3.57v6.00h-3.57zM244.19 104.00h3.57v6.00h-3.57zM244.19 74.00h3.57v6.00h-3.57zM244.19 62.00h3.57v6.00h-3.57zM244.19 26.00h3.57v6.00h-3.57zM244.19 14.00h3.57v6.00h-3.57zM247.76 110.00h3.57v6.00h-3.57zM247.76 2.00h3.57v6.00h-3.57zM251.33 212.00h3.57v5.00h-3.57zM251.33 206.00h3.57v6.00h-3.57zM251.33 200.00h3.57v6.00h-3.57zM251.33 194.00h3.57v6.00h-3.57zM251.33 188.00h3.57v6.00h-3.57zM251.33 182.00h3.57v6.00h-3.57zM251.33 176.00h3.57v6.00h-3.57zM251.33 170.00h3.57v6.00h-3.57zM251.33 164.00h3.57v6.00h-3.57zM251.33 152.00h3.57v6.00h-3.57zM251.33 134.00h3.57v6.00h-3.57zM251.33 122.00h3.57v6.00h-3.57zM251.33 116.00h3.57v6.00h-3.57zM251.33 44.00h3.57v6.00h-3.57zM251.33 20.00h3.57v6.00h-3.57zM258.47 182.00h3.57v6.00h-3.57zM258.47 176.00h3.57v6.00h-3.57zM262.04 212.00h3.57v5.00h-3.57zM262.04 206.00h3.57v6.00h-3.57zM262.04 200.00h3.57v6.00h-3.57zM262.04 194.00h3.57v6.00h-3.57zM262.04 188.00h3.57v6.00h-3.57zM265.61 212.00h3.57v5.00h-3.57zM265.61 206.00h3.57v6.00h-3.57zM265.61 200.00h3.57v6.00h-3.57zM265.61 194.00h3.57v6.00h-3.57zM265.61 188.00h3.57v6.00h-3.57zM276.33 212.00h3.57v5.00h-3.57zM276.33 206.00h3.57v6.00h-3.57zM283.47 212.00h3.57v5.00h-3.57zM283.47 206.00h3.57v6.00h-3.57z"/>
<path fill="#f6ef20" d="M172.76 2.00h3.57v6.00h-3.57zM194.19 56.00h3.57v6.00h-3.57zM201.33 74.00h3.57v6.00h-3.57zM204.90 32.00h3.57v6.00h-3.57zM204.90 26.00h3.57v6.00h-3.57zM208.47 86.00h3.57v6.00h-3.57zM208.47 80.00h3.57v6.00h-3.57zM208.47 32.00h3.57v6.00h-3.57zM212.04 98.00h3.57v6.00h-3.57zM215.61 68.00h3.57v6.00h-3.57zM222.76 98.00h3.57v6.00h-3.57zM226.33 128.00h3.57v6.00h-3.57zM226.33 122.00h3.57v6.00h-3.57zM233.47 104.00h3.57v6.00h-3.57zM233.47 20.00h3.57v6.00h-3.57zM233.47 8.00h3.57v6.00h-3.57zM237.04 62.00h3.57v6.00h-3.57zM237.04 20.00h3.57v6.00h-3.57zM237.04 2.00h3.57v6.00h-3.57zM240.61 26.00h3.57v6.00h-3.57zM244.19 20.00h3.57v6.00h-3.57zM247.76 56.00h3.57v6.00h-3.57zM251.33 104.00h3.57v6.00h-3.57zM251.33 98.00h3.57v6.00h-3.57zM251.33 32.00h3.57v6.00h-3.57zM254.90 164.00h3.57v6.00h-3.57zM254.90 116.00h3.57v6.00h-3.57zM254.90 62.00h3.57v6.00h-3.57zM254.90 38.00h3.57v6.00h-3.57zM254.90 14.00h3.57v6.00h-3.57zM254.90 2.00h3.57v6.00h-3.57zM269.19 176.00h3.57v6.00h-3.57zM276.33 200.00h3.57v6.00h-3.57zM276.33 188.00h3.57v6.00h-3.57z"/>
<path fill="#f7f51b" d="M176.33 8.00h3.57v6.00h-3.57zM179.90 20.00h3.57v6.00h-3.57zM179.90 14.00h3.57v6.00h-3.57zM179.90 8.00h3.57v6.00h-3.57zM179.90 2.00h3.57v6.00h-3.57zM183.47 26.00h3.57v6.00h-3.57zM183.47 14.00h3.57v6.00h-3.57zM183.47 8.00h3.57v6.00h-3.57zM183.47 2.00h3.57v6.00h-3.57zM187.04 38.00h3.57v6.00h-3.57zM187.04 32.00h3.57v6.00h-3.57zM187.04 26.00h3.57v6.00h-3.57zM187.04 20.00h3.57v6.00h-3.57zM187.04 14.00h3.57v6.00h-3.57zM187.04 8.00h3.57v6.00h-3.57zM190.61 38.00h3.57v6.00h-3.57zM190.61 32.00h3.57v6.00h-3.57zM190.61 26.00h3.57v6.00h-3.57zM190.61 20.00h3.57v6.00h-3.57zM190.61 14.00h3.57v6.00h-3.57zM190.61 8.00h3.57v6.00h-3.57zM190.61 2.00h3.57v6.00h-3.57zM194.19 50.00h3.57v6.00h-3.57zM194.19 44.00h3.57v6.00h-3.57zM194.19 38.00h3.57v6.00h-3.57zM194.19 32.00h3.57v6.00h-3.57zM194.19 26.00h3.57v6.00h-3.57zM194.19 14.00h3.57v6.00h-3.57zM194.19 2.00h3.57v6.00h-3.57zM197.76 62.00h3.57v6.00h-3.57zM197.76 56.00h3.57v6.00h-3.57zM197.76 50.00h3.57v6.00h-3.57zM197.76 32.00h3.57v6.00h-3.57zM197.76 26.00h3.57v6.00h-3.57zM197.76 20.00h3.57v6.00h-3.57zM197.76 14.00h3.57v6.00h-3.57zM197.76 8.00h3.57v6.00h-3.57zM197.76 2.00h3.57v6.00h-3.57zM201.33 68.00h3.57v6.00h-3.57zM201.33 62.00h3.57v6.00h-3.57zM201.33 56.00h3.57v6.00h-3.57zM201.33 50.00h3.57v6.00h-3.57zM201.33 44.00h3.57v6.00h-3.57zM201.33 38.00h3.57v6.00h-3.57zM201.33 32.00h3.57v6.00h-3.57zM201.33 26.00h3.57v6.00h-3.57zM201.33 20.00h3.57v6.00h-3.57zM201.33 14.00h3.57v6.00h-3.57zM201.33 8.00h3.57v6.00h-3.57zM204.90 80.00h3.57v6.00h-3.57zM204.90 74.00h3.57v6.00h-3.57zM204.90 62.00h3.57v6.00h-3.57zM204.90 56.00h3.57v6.00h-3.57zM204.90 50.00h3.57v6.00h-3.57zM204.90 44.00h3.57v6.00h-3.57zM204.90 38.00h3.57v6.00h-3.57zM204.90 8.00h3.57v6.00h-3.57zM204.90 2.00h3.57v6.00h-3.57zM208.47 74.00h3.57v6.00h-3.57zM208.47 68.00h3.57v6.00h-3.57zM208.47 62.00h3.57v6.00h-3.57zM208.47 56.00h3.57v6.00h-3.57zM208.47 50.00h3.57v6.00h-3.57zM208.47 38.00h3.57v6.00h-3.57zM208.47 26.00h3.57v6.00h-3.57zM208.47 20.00h3.57v6.00h-3.57zM208.47 14.00h3.57v6.00h-3.57zM208.47 8.00h3.57v6.00h-3.57zM208.47 2.00h3.57v6.00h-3.57zM212.04 92.00h3.57v6.00h-3.57zM212.04 86.00h3.57v6.00h-3.57zM212.04 80.00h3.57v6.00h-3.57zM212.04 74.00h3.57v6.00h-3.57zM212.04 62.00h3.57v6.00h-3.57zM212.04 44.00h3.57v6.00h-3.57zM212.04 38.00h3.57v6.00h-3.57zM212.04 32.00h3.57v6.00h-3.57zM212.04 26.00h3.57v6.00h-3.57zM212.04 20.00h3.57v6.00h-3.57zM212.04 14.00h3.57v6.00h-3.57zM212.04 8.00h3.57v6.00h-3.57zM212.04 2.00h3.57v6.00h-3.57zM215.61 104.00h3.57v6.00h-3.57zM215.61 92.00h3.57v6.00h-3.57zM215.61 86.00h3.57v6.00h-3.57zM215.61 80.00h3.57v6.00h-3.57zM215.61 74.00h3.57v6.00h-3.57zM215.61 62.00h3.57v6.00h-3.57zM215.61 56.00h3.57v6.00h-3.57zM215.61 44.00h3.57v6.00h-3.57zM215.61 38.00h3.57v6.00h-3.57zM215.61 26.00h3.57v6.00h-3.57zM215.61 14.00h3.57v6.00h-3.57zM215.61 8.00h3.57v6.00h-3.57zM219.19 110.00h3.57v6.00h-3.57zM219.19 104.00h3.57v6.00h-3.57zM219.19 98.00h3.57v6.00h-3.57zM219.19 92.00h3.57v6.00h-3.57zM219.19 86.00h3.57v6.00h-3.57zM219.19 80.00h3.57v6.00h-3.57zM219.19 74.00h3.57v6.00h-3.57zM219.19 68.00h3.57v6.00h-3.57zM219.19 62.00h3.57v6.00h-3.57zM219.19 56.00h3.57v6.00h-3.57zM219.19 50.00h3.57v6.00h-3.57zM219.19 44.00h3.57v6.00h-3.57zM219.19 26.00h3.57v6.00h-3.57zM219.19 20.00h3.57v6.00h-3.57zM219.19 14.00h3.57v6.00h-3.57zM219.19 8.00h3.57v6.00h-3.57zM219.19 2.00h3.57v6.00h-3.57zM222.76 110.00h3.57v6.00h-3.57zM222.76 92.00h3.57v6.00h-3.57zM222.76 86.00h3.57v6.00h-3.57zM222.76 80.00h3.57v6.00h-3.57zM222.76 74.00h3.57v6.00h-3.57zM222.76 68.00h3.57v6.00h-3.57zM222.76 62.00h3.57v6.00h-3.57zM222.76 56.00h3.57v6.00h-3.57zM222.76 50.00h3.57v6.00h-3.57zM222.76 44.00h3.57v6.00h-3.57zM222.76 38.00h3.57v6.00h-3.57zM222.76 32.00h3.57v6.00h-3.57zM222.76 26.00h3.57v6.00h-3.57zM222.76 20.00h3.57v6.00h-3.57zM222.76 14.00h3.57v6.00h-3.57zM222.76 2.00h3.57v6.00h-3.57zM226.33 116.00h3.57v6.00h-3.57zM226.33 110.00h3.57v6.00h-3.57zM226.33 104.00h3.57v6.00h-3.57zM226.33 98.00h3.57v6.00h-3.57zM226.33 92.00h3.57v6.00h-3.57zM226.33 86.00h3.57v6.00h-3.57zM226.33 80.00h3.57v6.00h-3.57zM226.33 74.00h3.57v6.00h-3.57zM226.33 68.00h3.57v6.00h-3.57zM226.33 62.00h3.57v6.00h-3.57zM226.33 50.00h3.57v6.00h-3.57zM226.33 44.00h3.57v6.00h-3.57zM226.33 38.00h3.57v6.00h-3.57zM226.33 32.00h3.57v6.00h-3.57zM226.33 26.00h3.57v6.00h-3.57zM226.33 20.00h3.57v6.00h-3.57zM226.33 8.00h3.57v6.00h-3.57zM226.33 2.00h3.57v6.00h-3.57zM229.90 134.00h3.57v6.00h-3.57zM229.90 116.00h3.57v6.00h-3.57zM229.90 104.00h3.57v6.00h-3.57zM229.90 98.00h3.57v6.00h-3.57zM229.90 92.00h3.57v6.00h-3.57zM229.90 80.00h3.57v6.00h-3.57zM229.90 68.00h3.57v6.00h-3.57zM229.90 62.00h3.57v6.00h-3.57zM229.90 56.00h3.57v6.00h-3.57zM229.90 50.00h3.57v6.00h-3.57zM229.90 44.00h3.57v6.00h-3.57zM229.90 38.00h3.57v6.00h-3.57zM229.90 32.00h3.57v6.00h-3.57zM229.90 26.00h3.57v6.00h-3.57zM229.90 20.00h3.57v6.00h-3.57zM229.90 14.00h3.57v6.00h-3.57zM229.90 8.00h3.57v6.00h-3.57zM229.90 2.00h3.57v6.00h-3.57zM233.47 140.00h3.57v6.00h-3.57zM233.47 128.00h3.57v6.00h-3.57zM233.47 122.00h3.57v6.00h-3.57zM233.47 116.00h3.57v6.00h-3.57zM233.47 110.00h3.57v6.00h-3.57zM233.47 98.00h3.57v6.00h-3.57zM233.47 92.00h3.57v6.00h-3.57zM233.47 80.00h3.57v6.00h-3.57zM233.47 74.00h3.57v6.00h-3.57zM233.47 68.00h3.57v6.00h-3.57zM233.47 62.00h3.57v6.00h-3.57zM233.47 56.00h3.57v6.00h-3.57zM233.47 50.00h3.57v6.00h-3.57zM233.47 44.00h3.57v6.00h-3.57zM233.47 38.00h3.57v6.00h-3.57zM233.47 32.00h3.57v6.00h-3.57zM233.47 26.00h3.57v6.00h-3.57zM233.47 14.00h3.57v6.00h-3.57zM233.47 2.00h3.57v6.00h-3.57zM237.04 146.00h3.57v6.00h-3.57zM237.04 140.00h3.57v6.00h-3.57zM237.04 134.00h3.57v6.00h-3.57zM237.04 128.00h3.57v6.00h-3.57zM237.04 122.00h3.57v6.00h-3.57zM237.04 116.00h3.57v6.00h-3.57zM237.04 110.00h3.57v6.00h-3.57zM237.04 104.00h3.57v6.00h-3.57zM237.04 92.00h3.57v6.00h-3.57zM237.04 86.00h3.57v6.00h-3.57zM237.04 80.00h3.57v6.00h-3.57zM237.04 56.00h3.57v6.00h-3.57zM237.04 50.00h3.57v6.00h-3.57zM237.04 38.00h3.57v6.00h-3.57zM237.04 26.00h3.57v6.00h-3.57zM237.04 14.00h3.57v6.00h-3.57zM237.04 8.00h3.57v6.00h-3.57zM240.61 152.00h3.57v6.00h-3.57zM240.61 146.00h3.57v6.00h-3.57zM240.61 134.00h3.57v6.00h-3.57zM240.61 122.00h3.57v6.00h-3.57zM240.61 116.00h3.57v6.00h-3.57zM240.61 104.00h3.57v6.00h-3.57zM240.61 92.00h3.57v6.00h-3.57zM240.61 86.00h3.57v6.00h-3.57zM240.61 74.00h3.57v6.00h-3.57zM240.61 68.00h3.57v6.00h-3.57zM240.61 62.00h3.57v6.00h-3.57zM240.61 56.00h3.57v6.00h-3.57zM240.61 50.00h3.57v6.00h-3.57zM240.61 44.00h3.57v6.00h-3.57zM240.61 38.00h3.57v6.00h-3.57zM240.61 32.00h3.57v6.00h-3.57zM240.61 20.00h3.57v6.00h-3.57zM240.61 14.00h3.57v6.00h-3.57zM240.61 8.00h3.57v6.00h-3.57zM244.19 158.00h3.57v6.00h-3.57zM244.19 152.00h3.57v6.00h-3.57zM244.19 146.00h3.57v6.00h-3.57zM244.19 140.00h3.57v6.00h-3.57zM244.19 134.00h3.57v6.00h-3.57zM244.19 128.00h3.57v6.00h-3.57zM244.19 116.00h3.57v6.00h-3.57zM244.19 98.00h3.57v6.00h-3.57zM244.19 92.00h3.57v6.00h-3.57zM244.19 86.00h3.57v6.00h-3.57zM244.19 80.00h3.57v6.00h-3.57zM244.19 68.00h3.57v6.00h-3.57zM244.19 56.00h3.57v6.00h-3.57zM244.19 50.00h3.57v6.00h-3.57zM244.19 44.00h3.57v6.00h-3.57zM244.19 38.00h3.57v6.00h-3.57zM244.19 32.00h3.57v6.00h-3.57zM244.19 8.00h3.57v6.00h-3.57zM244.19 2.00h3.57v6.00h-3.57zM247.76 164.00h3.57v6.00h-3.57zM247.76 158.00h3.57v6.00h-3.57zM247.76 152.00h3.57v6.00h-3.57zM247.76 146.00h3.57v6.00h-3.57zM247.76 140.00h3.57v6.00h-3.57zM247.76 134.00h3.57v6.00h-3.57zM247.76 128.00h3.57v6.00h-3.57zM247.76 122.00h3.57v6.00h-3.57zM247.76 116.00h3.57v6.00h-3.57zM247.76 104.00h3.57v6.00h-3.57zM247.76 98.00h3.57v6.00h-3.57zM247.76 92.00h3.57v6.00h-3.57zM247.76 86.00h3.57v6.00h-3.57zM247.76 80.00h3.57v6.00h-3.57zM247.76 74.00h3.57v6.00h-3.57zM247.76 68.00h3.57v6.00h-3.57zM247.76 62.00h3.57v6.00h-3.57zM247.76 50.00h3.57v6.00h-3.57zM247.76 44.00h3.57v6.00h-3.57zM247.76 38.00h3.57v6.00h-3.57zM247.76 32.00h3.57v6.00h-3.57zM247.76 26.00h3.57v6.00h-3.57zM247.76 20.00h3.57v6.00h-3.57zM247.76 14.00h3.57v6.00h-3.57zM247.76 8.00h3.57v6.00h-3.57zM251.33 158.00h3.57v6.00h-3.57zM251.33 146.00h3.57v6.00h-3.57zM251.33 140.00h3.57v6.00h-3.57zM251.33 128.00h3.57v6.00h-3.57zM251.33 110.00h3.57v6.00h-3.57zM251.33 92.00h3.57v6.00h-3.57zM251.33 86.00h3.57v6.00h-3.57zM251.33 80.00h3.57v6.00h-3.57zM251.33 74.00h3.57v6.00h-3.57zM251.33 68.00h3.57v6.00h-3.57zM251.33 62.00h3.57v6.00h-3.57zM251.33 56.00h3.57v6.00h-3.57zM251.33 50.00h3.57v6.00h-3.57zM251.33 38.00h3.57v6.00h-3.57zM251.33 26.00h3.57v6.00h-3.57zM251.33 14.00h3.57v6.00h-3.57zM251.33 8.00h3.57v6.00h-3.57zM251.33 2.00h3.57v6.00h-3.57zM254.90 182.00h3.57v6.00h-3.57zM254.90 176.00h3.57v6.00h-3.57zM254.90 170.00h3.57v6.00h-3.57zM254.90 158.00h3.57v6.00h-3.57zM254.90 152.00h3.57v6.00h-3.57zM254.90 146.00h3.57v6.00h-3.57zM254.90 140.00h3.57v6.00h-3.57zM254.90 134.00h3.57v6.00h-3.57zM254.90 128.00h3.57v6.00h-3.57zM254.90 122.00h3.57v6.00h-3.57zM254.90 110.00h3.57v6.00h-3.57zM254.90 104.00h3.57v6.00h-3.57zM254.90 98.00h3.57v6.00h-3.57zM254.90 92.00h3.57v6.00h-3.57zM254.90 86.00h3.57v6.00h-3.57zM254.90 80.00h3.57v6.00h-3.57zM254.90 74.00h3.57v6.00h-3.57zM254.90 68.00h3.57v6.00h-3.57zM254.90 56.00h3.57v6.00h-3.57zM254.90 50.00h3.57v6.00h-3.57zM254.90 44.00h3.57v6.00h-3.57zM254.90 32.00h3.57v6.00h-3.57zM254.90 26.00h3.57v6.00h-3.57zM254.90 20.00h3.57v6.00h-3.57zM254.90 8.00h3.57v6.00h-3.57zM258.47 170.00h3.57v6.00h-3.57zM258.47 164.00h3.57v6.00h-3.57zM258.47 158.00h3.57v6.00h-3.57zM258.47 152.00h3.57v6.00h-3.57zM258.47 146.00h3.57v6.00h-3.57zM258.47 140.00h3.57v6.00h-3.57zM258.47 134.00h3.57v6.00h-3.57zM258.47 128.00h3.57v6.00h-3.57zM258.47 122.00h3.57v6.00h-3.57zM258.47 116.00h3.57v6.00h-3.57zM258.47 110.00h3.57v6.00h-3.57zM258.47 104.00h3.57v6.00h-3.57zM258.47 98.00h3.57v6.00h-3.57zM258.47 92.00h3.57v6.00h-3.57zM258.47 86.00h3.57v6.00h-3.57zM258.47 80.00h3.57v6.00h-3.57zM258.47 74.00h3.57v6.00h-3.57zM258.47 68.00h3.57v6.00h-3.57zM258.47 62.00h3.57v6.00h-3.57zM258.47 56.00h3.57v6.00h-3.57zM258.47 50.00h3.57v6.00h-3.57zM258.47 44.00h3.57v6.00h-3.57zM258.47 38.00h3.57v6.00h-3.57zM258.47 32.00h3.57v6.00h-3.57zM258.47 26.00h3.57v6.00h-3.57zM258.47 20.00h3.57v6.00h-3.57zM258.47 14.00h3.57v6.00h-3.57zM258.47 8.00h3.57v6.00h-3.57zM258.47 2.00h3.57v6.00h-3.57zM262.04 182.00h3.57v6.00h-3.57zM262.04 176.00h3.57v6.00h-3.57zM265.61 182.00h3.57v6.00h-3.57zM265.61 176.00h3.57v6.00h-3.57zM265.61 170.00h3.57v6.00h-3.57zM269.19 188.00h3.57v6.00h-3.57zM269.19 182.00h3.57v6.00h-3.57zM269.19 170.00h3.57v6.00h-3.57zM272.76 212.00h3.57v5.00h-3.57zM272.76 188.00h3.57v6.00h-3.57zM272.76 182.00h3.57v6.00h-3.57zM272.76 176.00h3.57v6.00h-3.57zM276.33 194.00h3.57v6.00h-3.57zM276.33 182.00h3.57v6.00h-3.57zM276.33 176.00h3.57v6.00h-3.57zM279.90 212.00h3.57v5.00h-3.57zM279.90 206.00h3.57v6.00h-3.57zM279.90 200.00h3.57v6.00h-3.57zM279.90 194.00h3.57v6.00h-3.57zM279.90 188.00h3.57v6.00h-3.57zM279.90 182.00h3.57v6.00h-3.57zM279.90 176.00h3.57v6.00h-3.57zM279.90 170.00h3.57v6.00h-3.57zM279.90 164.00h3.57v6.00h-3.57zM279.90 158.00h3.57v6.00h-3.57zM279.90 152.00h3.57v6.00h-3.57zM279.90 146.00h3.57v6.00h-3.57zM279.90 140.00h3.57v6.00h-3.57zM279.90 134.00h3.57v6.00h-3.57zM279.90 128.00h3.57v6.00h-3.57zM279.90 122.00h3.57v6.00h-3.57zM279.90 116.00h3.57v6.00h-3.57zM279.90 110.00h3.57v6.00h-3.57zM279.90 104.00h3.57v6.00h-3.57zM279.90 98.00h3.57v6.00h-3.57zM279.90 92.00h3.57v6.00h-3.57zM279.90 86.00h3.57v6.00h-3.57zM279.90 80.00h3.57v6.00h-3.57zM279.90 74.00h3.57v6.00h-3.57zM279.90 68.00h3.57v6.00h-3.57zM279.90 62.00h3.57v6.00h-3.57zM279.90 56.00h3.57v6.00h-3.57zM279.90 50.00h3.57v6.00h-3.57zM279.90 44.00h3.57v6.00h-3.57zM279.90 38.00h3.57v6.00h-3.57zM279.90 32.00h3.57v6.00h-3.57zM279.90 26.00h3.57v6.00h-3.57zM279.90 20.00h3.57v6.00h-3.57zM279.90 14.00h3.57v6.00h-3.57zM279.90 8.00h3.57v6.00h-3.57zM279.90 2.00h3.57v6.00h-3.57zM283.47 200.00h3.57v6.00h-3.57zM283.47 194.00h3.57v6.00h-3.57zM283.47 188.00h3.57v6.00h-3.57zM283.47 182.00h3.57v6.00h-3.57zM283.47 176.00h3.57v6.00h-3.57zM283.47 170.00h3.57v6.00h-3.57zM283.47 164.00h3.57v6.00h-3.57zM283.47 158.00h3.57v6.00h-3.57zM283.47 152.00h3.57v6.00h-3.57zM283.47 146.00h3.57v6.00h-3.57zM283.47 140.00h3.57v6.00h-3.57zM283.47 134.00h3.57v6.00h-3.57zM283.47 128.00h3.57v6.00h-3.57zM283.47 122.00h3.57v6.00h-3.57zM283.47 116.00h3.57v6.00h-3.57zM283.47 110.00h3.57v6.00h-3.57zM283.47 104.00h3.57v6.00h-3.57zM283.47 98.00h3.57v6.00h-3.57zM283.47 92.00h3.57v6.00h-3.57zM283.47 86.00h3.57v6.00h-3.57zM283.47 80.00h3.57v6.00h-3.57zM283.47 74.00h3.57v6.00h-3.57zM283.47 68.00h3.57v6.00h-3.57zM283.47 62.00h3.57v6.00h-3.57zM283.47 56.00h3.57v6.00h-3.57zM283.47 50.00h3.57v6.00h-3.57zM283.47 44.00h3.57v6.00h-3.57zM283.47 38.00h3.57v6.00h-3.57zM283.47 32.00h3.57v6.00h-3.57zM283.47 26.00h3.57v6.00h-3.57zM283.47 20.00h3.57v6.00h-3.57zM283.47 14.00h3.57v6.00h-3.57zM283.47 8.00h3.57v6.00h-3.57zM283.47 2.00h3.57v6.00h-3.57zM287.04 212.00h3.57v5.00h-3.57zM287.04 206.00h3.57v6.00h-3.57zM287.04 200.00h3.57v6.00h-3.57zM287.04 194.00h3.57v6.00h-3.57zM287.04 188.00h3.57v6.00h-3.57zM287.04 182.00h3.57v6.00h-3.57zM287.04 176.00h3.57v6.00h-3.57zM287.04 170.00h3.57v6.00h-3.57zM287.04 164.00h3.57v6.00h-3.57zM287.04 158.00h3.57v6.00h-3.57zM287.04 152.00h3.57v6.00h-3.57zM287.04 146.00h3.57v6.00h-3.57zM287.04 140.00h3.57v6.00h-3.57zM287.04 134.00h3.57v6.00h-3.57zM287.04 128.00h3.57v6.00h-3.57zM287.04 122.00h3.57v6.00h-3.57zM287.04 116.00h3.57v6.00h-3.57zM287.04 110.00h3.57v6.00h-3.57zM287.04 104.00h3.57v6.00h-3.57zM287.04 98.00h3.57v6.00h-3.57zM287.04 92.00h3.57v6.00h-3.57zM287.04 86.00h3.57v6.00h-3.57zM287.04 80.00h3.57v6.00h-3.57zM287.04 74.00h3.57v6.00h-3.57zM287.04 68.00h3.57v6.00h-3.57zM287.04 62.00h3.57v6.00h-3.57zM287.04 56.00h3.57v6.00h-3.57zM287.04 50.00h3.57v6.00h-3.57zM287.04 44.00h3.57v6.00h-3.57zM287.04 38.00h3.57v6.00h-3.57zM287.04 32.00h3.57v6.00h-3.57zM287.04 26.00h3.57v6.00h-3.57zM287.04 20.00h3.57v6.00h-3.57zM287.04 14.00h3.57v6.00h-3.57zM287.04 8.00h3.57v6.00h-3.57zM287.04 2.00h3.57v6.00h-3.57zM290.61 212.00h3.39v5.00h-3.39zM290.61 206.00h3.39v6.00h-3.39zM290.61 200.00h3.39v6.00h-3.39zM290.61 194.00h3.39v6.00h-3.39zM290.61 188.00h3.39v6.00h-3.39zM290.61 182.00h3.39v6.00h-3.39zM290.61 176.00h3.39v6.00h-3.39zM290.61 170.00h3.39v6.00h-3.39zM290.61 164.00h3.39v6.00h-3.39zM290.61 158.00h3.39v6.00h-3.39zM290.61 152.00h3.39v6.00h-3.39zM290.61 146.00h3.39v6.00h-3.39zM290.61 140.00h3.39v6.00h-3.39zM290.61 134.00h3.39v6.00h-3.39zM290.61 128.00h3.39v6.00h-3.39zM290.61 122.00h3.39v6.00h-3.39zM290.61 116.00h3.39v6.00h-3.39zM290.61 110.00h3.39v6.00h-3.39zM290.61 104.00h3.39v6.00h-3.39zM290.61 98.00h3.39v6.00h-3.39zM290.61 92.00h3.39v6.00h-3.39zM290.61 86.00h3.39v6.00h-3.39zM290.61 80.00h3.39v6.00h-3.39zM290.61 74.00h3.39v6.00h-3.39zM290.61 68.00h3.39v6.00h-3.39zM290.61 62.00h3.39v6.00h-3.39zM290.61 56.00h3.39v6.00h-3.39zM290.61 50.00h3.39v6.00h-3.39zM290.61 44.00h3.39v6.00h-3.39zM290.61 38.00h3.39v6.00h-3.39zM290.61 32.00h3.39v6.00h-3.39zM290.61 26.00h3.39v6.00h-3.39zM290.61 20.00h3.39v6.00h-3.39zM290.61 14.00h3.39v6.00h-3.39zM290.61 8.00h3.39v6.00h-3.39zM290.61 2.00h3.39v6.00h-3.39z"/>
<path fill="#f9fb15" d="M262.04 170.00h3.57v6.00h-3.57zM262.04 164.00h3.57v6.00h-3.57zM262.04 158.00h3.57v6.00h-3.57zM262.04 152.00h3.57v6.00h-3.57zM262.04 146.00h3.57v6.00h-3.57zM262.04 140.00h3.57v6.00h-3.57zM262.04 134.00h3.57v6.00h-3.57zM262.04 128.00h3.57v6.00h-3.57zM262.04 122.00h3.57v6.00h-3.57zM262.04 116.00h3.57v6.00h-3.57zM262.04 110.00h3.57v6.00h-3.57zM262.04 104.00h3.57v6.00h-3.57zM262.04 98.00h3.57v6.00h-3.57zM262.04 92.00h3.57v6.00h-3.57zM262.04 86.00h3.57v6.00h-3.57zM262.04 80.00h3.57v6.00h-3.57zM262.04 74.00h3.57v6.00h-3.57zM262.04 68.00h3.57v6.00h-3.57zM262.04 62.00h3.57v6.00h-3.57zM262.04 56.00h3.57v6.00h-3.57zM262.04 50.00h3.57v6.00h-3.57zM262.04 44.00h3.57v6.00h-3.57zM262.04 38.00h3.57v6.00h-3.57zM262.04 32.00h3.57v6.00h-3.57zM262.04 26.00h3.57v6.00h-3.57zM262.04 20.00h3.57v6.00h-3.57zM262.04 14.00h3.57v6.00h-3.57zM262.04 8.00h3.57v6.00h-3.57zM262.04 2.00h3.57v6.00h-3.57zM265.61 164.00h3.57v6.00h-3.57zM265.61 158.00h3.57v6.00h-3.57zM265.61 152.00h3.57v6.00h-3.57zM265.61 146.00h3.57v6.00h-3.57zM265.61 140.00h3.57v6.00h-3.57zM265.61 134.00h3.57v6.00h-3.57zM265.61 128.00h3.57v6.00h-3.57zM265.61 122.00h3.57v6.00h-3.57zM265.61 116.00h3.57v6.00h-3.57zM265.61 110.00h3.57v6.00h-3.57zM265.61 104.00h3.57v6.00h-3.57zM265.61 98.00h3.57v6.00h-3.57zM265.61 92.00h3.57v6.00h-3.57zM265.61 86.00h3.57v6.00h-3.57zM265.61 80.00h3.57v6.00h-3.57zM265.61 74.00h3.57v6.00h-3.57zM265.61 68.00h3.57v6.00h-3.57zM265.61 62.00h3.57v6.00h-3.57zM265.61 56.00h3.57v6.00h-3.57zM265.61 50.00h3.57v6.00h-3.57zM265.61 44.00h3.57v6.00h-3.57zM265.61 38.00h3.57v6.00h-3.57zM265.61 32.00h3.57v6.00h-3.57zM265.61 26.00h3.57v6.00h-3.57zM265.61 20.00h3.57v6.00h-3.57zM265.61 14.00h3.57v6.00h-3.57zM265.61 8.00h3.57v6.00h-3.57zM265.61 2.00h3.57v6.00h-3.57zM269.19 164.00h3.57v6.00h-3.57zM269.19 158.00h3.57v6.00h-3.57zM269.19 152.00h3.57v6.00h-3.57zM269.19 146.00h3.57v6.00h-3.57zM269.19 140.00h3.57v6.00h-3.57zM269.19 134.00h3.57v6.00h-3.57zM269.19 128.00h3.57v6.00h-3.57zM269.19 122.00h3.57v6.00h-3.57zM269.19 116.00h3.57v6.00h-3.57zM269.19 110.00h3.57v6.00h-3.57zM269.19 104.00h3.57v6.00h-3.57zM269.19 98.00h3.57v6.00h-3.57zM269.19 92.00h3.57v6.00h-3.57zM269.19 86.00h3.57v6.00h-3.57zM269.19 80.00h3.57v6.00h-3.57zM269.19 74.00h3.57v6.00h-3.57zM269.19 68.00h3.57v6.00h-3.57zM269.19 62.00h3.57v6.00h-3.57zM269.19 56.00h3.57v6.00h-3.57zM269.19 50.00h3.57v6.00h-3.57zM269.19 44.00h3.57v6.00h-3.57zM269.19 38.00h3.57v6.00h-3.57zM269.19 32.00h3.57v6.00h-3.57zM269.19 26.00h3.57v6.00h-3.57zM269.19 20.00h3.57v6.00h-3.57zM269.19 14.00h3.57v6.00h-3.57zM269.19 8.00h3.57v6.00h-3.57zM269.19 2.00h3.57v6.00h-3.57zM272.76 170.00h3.57v6.00h-3.57zM272.76 164.00h3.57v6.00h-3.57zM272.76 158.00h3.57v6.00h-3.57zM272.76 152.00h3.57v6.00h-3.57zM272.76 146.00h3.57v6.00h-3.57zM272.76 140.00h3.57v6.00h-3.57zM272.76 134.00h3.57v6.00h-3.57zM272.76 128.00h3.57v6.00h-3.57zM272.76 122.00h3.57v6.00h-3.57zM272.76 116.00h3.57v6.00h-3.57zM272.76 110.00h3.57v6.00h-3.57zM272.76 104.00h3.57v6.00h-3.57zM272.76 98.00h3.57v6.00h-3.57zM272.76 92.00h3.57v6.00h-3.57zM272.76 86.00h3.57v6.00h-3.57zM272.76 80.00h3.57v6.00h-3.57zM272.76 74.00h3.57v6.00h-3.57zM272.76 68.00h3.57v6.00h-3.57zM272.76 62.00h3.57v6.00h-3.57zM272.76 56.00h3.57v6.00h-3.57zM272.76 50.00h3.57v6.00h-3.57zM272.76 44.00h3.57v6.00h-3.57zM272.76 38.00h3.57v6.00h-3.57zM272.76 32.00h3.57v6.00h-3.57zM272.76 26.00h3.57v6.00h-3.57zM272.76 20.00h3.57v6.00h-3.57zM272.76 14.00h3.57v6.00h-3.57zM272.76 8.00h3.57v6.00h-3.57zM272.76 2.00h3.57v6.00h-3.57zM276.33 170.00h3.57v6.00h-3.57zM276.33 164.00h3.57v6.00h-3.57zM276.33 158.00h3.57v6.00h-3.57zM276.33 152.00h3.57v6.00h-3.57zM276.33 146.00h3.57v6.00h-3.57zM276.33 140.00h3.57v6.00h-3.57zM276.33 134.00h3.57v6.00h-3.57zM276.33 128.00h3.57v6.00h-3.57zM276.33 122.00h3.57v6.00h-3.57zM276.33 116.00h3.57v6.00h-3.57zM276.33 110.00h3.57v6.00h-3.57zM276.33 104.00h3.57v6.00h-3.57zM276.33 98.00h3.57v6.00h-3.57zM276.33 92.00h3.57v6.00h-3.57zM276.33 86.00h3.57v6.00h-3.57zM276.33 80.00h3.57v6.00h-3.57zM276.33 74.00h3.57v6.00h-3.57zM276.33 68.00h3.57v6.00h-3.57zM276.33 62.00h3.57v6.00h-3.57zM276.33 56.00h3.57v6.00h-3.57zM276.33 50.00h3.57v6.00h-3.57zM276.33 44.00h3.57v6.00h-3.57zM276.33 38.00h3.57v6.00h-3.57zM276.33 32.00h3.57v6.00h-3.57zM276.33 26.00h3.57v6.00h-3.57zM276.33 20.00h3.57v6.00h-3.57zM276.33 14.00h3.57v6.00h-3.57zM276.33 8.00h3.57v6.00h-3.57zM276.33 2.00h3.57v6.00h-3.57z"/>
</g></g>
<polygon points="175.09,1.00 175.09,0.50 175.76,2.30 176.44,4.10 177.13,5.90 177.82,7.70 178.51,9.50 179.21,11.30 179.91,13.10 180.62,14.90 181.33,16.70 182.05,18.50 182.78,20.30 183.50,22.10 184.24,23.90 184.97,25.70 185.72,27.50 186.47,29.30 187.22,31.10 187.98,32.90 188.74,34.70 189.51,36.50 190.29,38.30 191.07,40.10 191.85,41.90 192.64,43.70 193.44,45.50 194.25,47.30 195.05,49.10 195.87,50.90 196.69,52.70 197.52,54.50 198.35,56.30 199.19,58.10 200.04,59.90 200.89,61.70 201.74,63.50 202.61,65.30 203.48,67.10 204.36,68.90 205.24,70.70 206.13,72.50 207.03,74.30 207.94,76.10 208.85,77.90 209.77,79.70 210.69,81.50 211.63,83.30 212.57,85.10 213.51,86.90 214.47,88.70 215.43,90.50 216.40,92.30 217.38,94.10 218.37,95.90 219.36,97.70 220.36,99.50 221.37,101.30 222.39,103.10 223.42,104.90 224.45,106.70 225.50,108.50 226.55,110.30 227.61,112.10 228.68,113.90 229.76,115.70 230.85,117.50 231.95,119.30 233.05,121.10 234.17,122.90 235.29,124.70 236.43,126.50 237.57,128.30 238.73,130.10 239.89,131.90 241.07,133.70 242.26,135.50 243.45,137.30 244.66,139.10 245.88,140.90 247.10,142.70 248.34,144.50 249.59,146.30 250.86,148.10 252.13,149.90 253.41,151.70 254.71,153.50 256.02,155.30 257.34,157.10 258.67,158.90 260.02,160.70 261.38,162.50 262.75,164.30 264.13,166.10 265.53,167.90 266.94,169.70 268.37,171.50 269.81,173.30 271.26,175.10 272.73,176.90 274.21,178.70 275.70,180.50 277.21,182.30 278.74,184.10 280.28,185.90 281.84,187.70 283.41,189.50 285.00,191.30 286.60,193.10 288.22,194.90 289.86,196.70 291.51,198.50 292.00,200.30 292.00,202.10 292.00,203.90 295.00,203.90 295.00,1.00" fill="#f0f0f0"/>
<polyline points="136.20,2.00 137.88,5.64 139.59,9.29 141.34,12.93 143.11,16.58 144.92,20.22 146.75,23.86 148.61,27.51 150.50,31.15 152.42,34.80 154.37,38.44 156.34,42.08 158.33,45.73 160.35,49.37 162.39,53.02 164.45,56.66 166.54,60.31 168.64,63.95 170.77,67.59 172.91,71.24 175.08,74.88 177.26,78.53 179.45,82.17 181.67,85.81 183.90,89.46 186.14,93.10 188.40,96.75 190.67,100.39 192.95,104.03 195.24,107.68 197.55,111.32 199.86,114.97 202.18,118.61 204.51,122.25 206.85,125.90 209.20,129.54 211.55,133.19 213.90,136.83 216.26,140.47 218.63,144.12 220.99,147.76 223.36,151.41 225.73,155.05 228.10,158.69 230.47,162.34 232.84,165.98 235.20,169.63 237.57,173.27 239.93,176.92 242.28,180.56 244.63,184.20 246.98,187.85 249.31,191.49 251.64,195.14 253.97,198.78 256.28,202.42 258.58,206.07 260.87,209.71 263.16,213.36 265.42,217.00" fill="none" stroke="#000" stroke-width="1.90" stroke-linejoin="round"/>
<polyline points="175.09,0.50 175.76,2.30 176.44,4.10 177.13,5.90 177.82,7.70 178.51,9.50 179.21,11.30 179.91,13.10 180.62,14.90 181.33,16.70 182.05,18.50 182.78,20.30 183.50,22.10 184.24,23.90 184.97,25.70 185.72,27.50 186.47,29.30 187.22,31.10 187.98,32.90 188.74,34.70 189.51,36.50 190.29,38.30 191.07,40.10 191.85,41.90 192.64,43.70 193.44,45.50 194.25,47.30 195.05,49.10 195.87,50.90 196.69,52.70 197.52,54.50 198.35,56.30 199.19,58.10 200.04,59.90 200.89,61.70 201.74,63.50 202.61,65.30 203.48,67.10 204.36,68.90 205.24,70.70 206.13,72.50 207.03,74.30 207.94,76.10 208.85,77.90 209.77,79.70 210.69,81.50 211.63,83.30 212.57,85.10 213.51,86.90 214.47,88.70 215.43,90.50 216.40,92.30 217.38,94.10 218.37,95.90 219.36,97.70 220.36,99.50 221.37,101.30 222.39,103.10 223.42,104.90 224.45,106.70 225.50,108.50 226.55,110.30 227.61,112.10 228.68,113.90 229.76,115.70 230.85,117.50 231.95,119.30 233.05,121.10 234.17,122.90 235.29,124.70 236.43,126.50 237.57,128.30 238.73,130.10 239.89,131.90 241.07,133.70 242.26,135.50 243.45,137.30 244.66,139.10 245.88,140.90 247.10,142.70 248.34,144.50 249.59,146.30 250.86,148.10 252.13,149.90 253.41,151.70 254.71,153.50 256.02,155.30 257.34,157.10 258.67,158.90 260.02,160.70 261.38,162.50 262.75,164.30 264.13,166.10 265.53,167.90 266.94,169.70 268.37,171.50 269.81,173.30 271.26,175.10 272.73,176.90 274.21,178.70 275.70,180.50 277.21,182.30 278.74,184.10 280.28,185.90 281.84,187.70 283.41,189.50 285.00,191.30 286.60,193.10 288.22,194.90 289.86,196.70 291.51,198.50 293.19,200.30 294.87,202.10 296.58,203.90 298.31,205.70 300.05,207.50 301.81,209.30 303.60,211.10 305.40,212.90 307.22,214.70 309.06,216.50" fill="none" stroke="#ff0000" stroke-width="1.90" stroke-linejoin="round"/>
</g>
<line x1="42.40" y1="3.50" x2="42.40" y2="215.00" stroke="#262640" stroke-opacity="0.75" stroke-width="0.9"/>
<line x1="42.00" y1="215.40" x2="292.00" y2="215.40" stroke="#bdbdbd" stroke-width="0.8"/>
<line x1="42.00" y1="4.00" x2="44.50" y2="4.00" stroke="#555" stroke-width="0.8"/>
<text transform="translate(37.40,218.86) scale(1,1.130)" class="tk" text-anchor="end">0.1</text>
<text transform="translate(37.40,188.86) scale(1,1.130)" class="tk" text-anchor="end">0.2</text>
<text transform="translate(37.40,158.86) scale(1,1.130)" class="tk" text-anchor="end">0.3</text>
<text transform="translate(37.40,128.86) scale(1,1.130)" class="tk" text-anchor="end">0.4</text>
<text transform="translate(37.40,98.86) scale(1,1.130)" class="tk" text-anchor="end">0.5</text>
<text transform="translate(37.40,68.86) scale(1,1.130)" class="tk" text-anchor="end">0.6</text>
<text transform="translate(37.40,38.86) scale(1,1.130)" class="tk" text-anchor="end">0.7</text>
<text transform="translate(37.40,8.86) scale(1,1.130)" class="tk" text-anchor="end">0.8</text>
<text transform="translate(44.90,226.76) scale(1,1.130)" class="tk" text-anchor="middle">0.2</text>
<text transform="translate(81.88,226.76) scale(1,1.130)" class="tk" text-anchor="middle">0.3</text>
<text transform="translate(118.86,226.76) scale(1,1.130)" class="tk" text-anchor="middle">0.4</text>
<text transform="translate(155.84,226.76) scale(1,1.130)" class="tk" text-anchor="middle">0.5</text>
<text transform="translate(192.82,226.76) scale(1,1.130)" class="tk" text-anchor="middle">0.6</text>
<text transform="translate(229.80,226.76) scale(1,1.130)" class="tk" text-anchor="middle">0.7</text>
<text transform="translate(266.78,226.76) scale(1,1.130)" class="tk" text-anchor="middle">0.8</text>
<linearGradient id="cb0" x1="0" y1="0" x2="0" y2="1"><stop offset="0.0000" stop-color="#f9fb15"/><stop offset="0.0156" stop-color="#f7f51b"/><stop offset="0.0312" stop-color="#f6ef20"/><stop offset="0.0469" stop-color="#f5e924"/><stop offset="0.0625" stop-color="#f5e327"/><stop offset="0.0781" stop-color="#f7dd2a"/><stop offset="0.0938" stop-color="#f9d62d"/><stop offset="0.1094" stop-color="#fcd030"/><stop offset="0.1250" stop-color="#feca33"/><stop offset="0.1406" stop-color="#fec437"/><stop offset="0.1562" stop-color="#febe3c"/><stop offset="0.1719" stop-color="#f9bb3d"/><stop offset="0.1875" stop-color="#f1ba37"/><stop offset="0.2031" stop-color="#e8bb2f"/><stop offset="0.2188" stop-color="#debc2a"/><stop offset="0.2344" stop-color="#d4bf28"/><stop offset="0.2500" stop-color="#c8c129"/><stop offset="0.2656" stop-color="#bcc42f"/><stop offset="0.2812" stop-color="#afc637"/><stop offset="0.2969" stop-color="#a2c840"/><stop offset="0.3125" stop-color="#94ca4a"/><stop offset="0.3281" stop-color="#85cb55"/><stop offset="0.3438" stop-color="#77cc60"/><stop offset="0.3594" stop-color="#69cd6b"/><stop offset="0.3750" stop-color="#5ccc76"/><stop offset="0.3906" stop-color="#4fcc80"/><stop offset="0.4062" stop-color="#44ca8a"/><stop offset="0.4219" stop-color="#3ac993"/><stop offset="0.4375" stop-color="#34c79c"/><stop offset="0.4531" stop-color="#2ec5a4"/><stop offset="0.4688" stop-color="#28c2ab"/><stop offset="0.4844" stop-color="#1ec0b2"/><stop offset="0.5000" stop-color="#12beb9"/><stop offset="0.5156" stop-color="#07bcc0"/><stop offset="0.5312" stop-color="#01b9c6"/><stop offset="0.5469" stop-color="#04b6cd"/><stop offset="0.5625" stop-color="#0cb3d3"/><stop offset="0.5781" stop-color="#14b0d8"/><stop offset="0.5938" stop-color="#1aacdd"/><stop offset="0.6094" stop-color="#1ea7e1"/><stop offset="0.6250" stop-color="#21a3e3"/><stop offset="0.6406" stop-color="#249ee6"/><stop offset="0.6562" stop-color="#269ae9"/><stop offset="0.6719" stop-color="#2895ec"/><stop offset="0.6875" stop-color="#2c90f0"/><stop offset="0.7031" stop-color="#2d8bf4"/><stop offset="0.7188" stop-color="#2e85f8"/><stop offset="0.7344" stop-color="#3080fa"/><stop offset="0.7500" stop-color="#347afd"/><stop offset="0.7656" stop-color="#3a74fe"/><stop offset="0.7812" stop-color="#3f6efe"/><stop offset="0.7969" stop-color="#4368fe"/><stop offset="0.8125" stop-color="#4562fc"/><stop offset="0.8281" stop-color="#475dfa"/><stop offset="0.8438" stop-color="#4757f7"/><stop offset="0.8594" stop-color="#4852f4"/><stop offset="0.8750" stop-color="#484cef"/><stop offset="0.8906" stop-color="#4746ea"/><stop offset="0.9062" stop-color="#4741e5"/><stop offset="0.9219" stop-color="#463bdd"/><stop offset="0.9375" stop-color="#4536d5"/><stop offset="0.9531" stop-color="#4332ca"/><stop offset="0.9688" stop-color="#422ebf"/><stop offset="0.9844" stop-color="#402ab4"/><stop offset="1.0000" stop-color="#3e26a8"/></linearGradient>
<rect x="299.40" y="4.65" width="14.10" height="210.35" fill="url(#cb0)" stroke="#4a4a4a" stroke-width="0.95"/>
<line x1="311.30" y1="4.90" x2="313.50" y2="4.90" stroke="#262626" stroke-width="0.7"/>
<text transform="translate(316.50,8.76) scale(1,1.130)" class="tk">0</text>
<line x1="311.30" y1="33.93" x2="313.50" y2="33.93" stroke="#262626" stroke-width="0.7"/>
<text transform="translate(316.50,37.79) scale(1,1.130)" class="tk">-1</text>
<line x1="311.30" y1="62.96" x2="313.50" y2="62.96" stroke="#262626" stroke-width="0.7"/>
<text transform="translate(316.50,66.82) scale(1,1.130)" class="tk">-2</text>
<line x1="311.30" y1="91.99" x2="313.50" y2="91.99" stroke="#262626" stroke-width="0.7"/>
<text transform="translate(316.50,95.85) scale(1,1.130)" class="tk">-3</text>
<line x1="311.30" y1="121.03" x2="313.50" y2="121.03" stroke="#262626" stroke-width="0.7"/>
<text transform="translate(316.50,124.88) scale(1,1.130)" class="tk">-4</text>
<line x1="311.30" y1="150.06" x2="313.50" y2="150.06" stroke="#262626" stroke-width="0.7"/>
<text transform="translate(316.50,153.91) scale(1,1.130)" class="tk">-5</text>
<line x1="311.30" y1="179.09" x2="313.50" y2="179.09" stroke="#262626" stroke-width="0.7"/>
<text transform="translate(316.50,182.95) scale(1,1.130)" class="tk">-6</text>
<line x1="311.30" y1="208.12" x2="313.50" y2="208.12" stroke="#262626" stroke-width="0.7"/>
<text transform="translate(316.50,211.98) scale(1,1.130)" class="tk">-7</text>
<text transform="translate(10.30,110.5) rotate(-90)" class="ser" text-anchor="middle" font-size="14.3" textLength="22.6" lengthAdjust="spacingAndGlyphs"><tspan font-style="italic">e</tspan>(0)</text>
<text x="158.80" y="245" class="ser" font-size="10" textLength="17.4" lengthAdjust="spacingAndGlyphs"><tspan font-style="italic">a</tspan>(0)</text>
<line x1="158.90" y1="247.3" x2="176.60" y2="247.3" stroke="#333" stroke-width="0.8"/>
<text x="161.90" y="255.9" class="ser" font-size="10" font-style="italic">a</text>
<text x="166.90" y="257.6" class="ser" font-size="7.2" font-style="italic">P</text>
<text x="104.00" y="283.4" class="ser" font-size="15.00" font-weight="bold" textLength="18.20" lengthAdjust="spacingAndGlyphs">(a)</text>
<text x="127.40" y="283.4" class="ser" font-size="15.00" textLength="97.30" lengthAdjust="spacingAndGlyphs">semi-major axis</text>
<clipPath id="clip355"><rect x="397.00" y="4.00" width="250.00" height="211.00"/></clipPath>
<g clip-path="url(#clip355)">
<g filter="url(#soft)"><g shape-rendering="crispEdges">
<path fill="#4332cb" d="M395.00 212.00h4.19v5.00h-4.19zM395.00 206.00h4.19v6.00h-4.19zM399.19 212.00h3.57v5.00h-3.57zM399.19 206.00h3.57v6.00h-3.57z"/>
<path fill="#4537d5" d="M395.00 200.00h4.19v6.00h-4.19zM395.00 194.00h4.19v6.00h-4.19zM399.19 200.00h3.57v6.00h-3.57zM402.76 212.00h3.57v5.00h-3.57zM402.76 206.00h3.57v6.00h-3.57zM406.33 212.00h3.57v5.00h-3.57zM406.33 206.00h3.57v6.00h-3.57z"/>
<path fill="#463cde" d="M395.00 188.00h4.19v6.00h-4.19zM395.00 182.00h4.19v6.00h-4.19zM399.19 194.00h3.57v6.00h-3.57zM402.76 200.00h3.57v6.00h-3.57zM406.33 200.00h3.57v6.00h-3.57zM409.90 212.00h3.57v5.00h-3.57zM409.90 206.00h3.57v6.00h-3.57z"/>
<path fill="#4741e5" d="M395.00 176.00h4.19v6.00h-4.19zM395.00 170.00h4.19v6.00h-4.19zM399.19 188.00h3.57v6.00h-3.57zM402.76 194.00h3.57v6.00h-3.57zM402.76 188.00h3.57v6.00h-3.57zM406.33 194.00h3.57v6.00h-3.57zM406.33 188.00h3.57v6.00h-3.57zM409.90 200.00h3.57v6.00h-3.57zM409.90 194.00h3.57v6.00h-3.57zM413.47 212.00h3.57v5.00h-3.57zM413.47 206.00h3.57v6.00h-3.57zM417.04 212.00h3.57v5.00h-3.57zM417.04 206.00h3.57v6.00h-3.57zM420.61 212.00h3.57v5.00h-3.57zM420.61 206.00h3.57v6.00h-3.57zM424.19 212.00h3.57v5.00h-3.57zM424.19 206.00h3.57v6.00h-3.57zM427.76 212.00h3.57v5.00h-3.57zM427.76 206.00h3.57v6.00h-3.57z"/>
<path fill="#4747eb" d="M395.00 164.00h4.19v6.00h-4.19zM399.19 182.00h3.57v6.00h-3.57zM399.19 176.00h3.57v6.00h-3.57zM402.76 182.00h3.57v6.00h-3.57zM406.33 182.00h3.57v6.00h-3.57zM409.90 188.00h3.57v6.00h-3.57zM409.90 182.00h3.57v6.00h-3.57zM413.47 200.00h3.57v6.00h-3.57zM413.47 194.00h3.57v6.00h-3.57zM417.04 200.00h3.57v6.00h-3.57zM417.04 194.00h3.57v6.00h-3.57zM420.61 200.00h3.57v6.00h-3.57zM420.61 194.00h3.57v6.00h-3.57zM424.19 200.00h3.57v6.00h-3.57zM424.19 194.00h3.57v6.00h-3.57zM427.76 200.00h3.57v6.00h-3.57zM427.76 194.00h3.57v6.00h-3.57z"/>
<path fill="#484df0" d="M395.00 158.00h4.19v6.00h-4.19zM395.00 152.00h4.19v6.00h-4.19zM395.00 146.00h4.19v6.00h-4.19zM399.19 170.00h3.57v6.00h-3.57zM402.76 176.00h3.57v6.00h-3.57zM402.76 170.00h3.57v6.00h-3.57zM406.33 176.00h3.57v6.00h-3.57zM406.33 170.00h3.57v6.00h-3.57zM409.90 176.00h3.57v6.00h-3.57zM409.90 170.00h3.57v6.00h-3.57zM413.47 188.00h3.57v6.00h-3.57zM413.47 182.00h3.57v6.00h-3.57zM417.04 188.00h3.57v6.00h-3.57zM417.04 182.00h3.57v6.00h-3.57zM420.61 188.00h3.57v6.00h-3.57zM420.61 182.00h3.57v6.00h-3.57zM424.19 188.00h3.57v6.00h-3.57zM424.19 182.00h3.57v6.00h-3.57zM427.76 188.00h3.57v6.00h-3.57zM427.76 182.00h3.57v6.00h-3.57zM431.33 212.00h3.57v5.00h-3.57zM431.33 206.00h3.57v6.00h-3.57z"/>
<path fill="#4852f4" d="M395.00 140.00h4.19v6.00h-4.19zM399.19 164.00h3.57v6.00h-3.57zM402.76 164.00h3.57v6.00h-3.57zM406.33 164.00h3.57v6.00h-3.57zM409.90 164.00h3.57v6.00h-3.57zM413.47 176.00h3.57v6.00h-3.57zM413.47 170.00h3.57v6.00h-3.57zM417.04 176.00h3.57v6.00h-3.57zM417.04 170.00h3.57v6.00h-3.57zM420.61 176.00h3.57v6.00h-3.57zM420.61 170.00h3.57v6.00h-3.57zM424.19 176.00h3.57v6.00h-3.57zM424.19 170.00h3.57v6.00h-3.57zM427.76 176.00h3.57v6.00h-3.57zM427.76 170.00h3.57v6.00h-3.57zM431.33 200.00h3.57v6.00h-3.57zM431.33 194.00h3.57v6.00h-3.57z"/>
<path fill="#4758f8" d="M395.00 134.00h4.19v6.00h-4.19zM395.00 128.00h4.19v6.00h-4.19zM395.00 122.00h4.19v6.00h-4.19zM395.00 116.00h4.19v6.00h-4.19zM399.19 158.00h3.57v6.00h-3.57zM399.19 152.00h3.57v6.00h-3.57zM399.19 146.00h3.57v6.00h-3.57zM402.76 158.00h3.57v6.00h-3.57zM402.76 152.00h3.57v6.00h-3.57zM402.76 146.00h3.57v6.00h-3.57zM406.33 158.00h3.57v6.00h-3.57zM406.33 152.00h3.57v6.00h-3.57zM409.90 158.00h3.57v6.00h-3.57zM409.90 152.00h3.57v6.00h-3.57zM413.47 164.00h3.57v6.00h-3.57zM413.47 158.00h3.57v6.00h-3.57zM417.04 164.00h3.57v6.00h-3.57zM417.04 158.00h3.57v6.00h-3.57zM420.61 164.00h3.57v6.00h-3.57zM420.61 158.00h3.57v6.00h-3.57zM424.19 164.00h3.57v6.00h-3.57zM427.76 164.00h3.57v6.00h-3.57zM431.33 188.00h3.57v6.00h-3.57zM431.33 182.00h3.57v6.00h-3.57z"/>
<path fill="#465efb" d="M395.00 110.00h4.19v6.00h-4.19zM395.00 104.00h4.19v6.00h-4.19zM395.00 98.00h4.19v6.00h-4.19zM395.00 92.00h4.19v6.00h-4.19zM399.19 140.00h3.57v6.00h-3.57zM402.76 140.00h3.57v6.00h-3.57zM406.33 146.00h3.57v6.00h-3.57zM409.90 146.00h3.57v6.00h-3.57zM413.47 152.00h3.57v6.00h-3.57zM417.04 152.00h3.57v6.00h-3.57zM420.61 152.00h3.57v6.00h-3.57zM424.19 158.00h3.57v6.00h-3.57zM427.76 158.00h3.57v6.00h-3.57zM431.33 176.00h3.57v6.00h-3.57zM431.33 170.00h3.57v6.00h-3.57zM438.47 212.00h3.57v5.00h-3.57zM438.47 206.00h3.57v6.00h-3.57zM442.04 212.00h3.57v5.00h-3.57zM442.04 206.00h3.57v6.00h-3.57zM445.61 212.00h3.57v5.00h-3.57zM445.61 206.00h3.57v6.00h-3.57z"/>
<path fill="#4563fd" d="M395.00 86.00h4.19v6.00h-4.19zM395.00 80.00h4.19v6.00h-4.19zM395.00 74.00h4.19v6.00h-4.19zM395.00 68.00h4.19v6.00h-4.19zM395.00 62.00h4.19v6.00h-4.19zM399.19 134.00h3.57v6.00h-3.57zM399.19 128.00h3.57v6.00h-3.57zM399.19 122.00h3.57v6.00h-3.57zM399.19 116.00h3.57v6.00h-3.57zM402.76 134.00h3.57v6.00h-3.57zM402.76 128.00h3.57v6.00h-3.57zM402.76 122.00h3.57v6.00h-3.57zM402.76 116.00h3.57v6.00h-3.57zM406.33 140.00h3.57v6.00h-3.57zM406.33 134.00h3.57v6.00h-3.57zM409.90 140.00h3.57v6.00h-3.57zM409.90 134.00h3.57v6.00h-3.57zM413.47 146.00h3.57v6.00h-3.57zM413.47 140.00h3.57v6.00h-3.57zM413.47 134.00h3.57v6.00h-3.57zM417.04 146.00h3.57v6.00h-3.57zM417.04 140.00h3.57v6.00h-3.57zM417.04 134.00h3.57v6.00h-3.57zM420.61 146.00h3.57v6.00h-3.57zM420.61 140.00h3.57v6.00h-3.57zM420.61 134.00h3.57v6.00h-3.57zM424.19 152.00h3.57v6.00h-3.57zM431.33 164.00h3.57v6.00h-3.57zM434.90 212.00h3.57v5.00h-3.57zM434.90 206.00h3.57v6.00h-3.57zM438.47 200.00h3.57v6.00h-3.57zM442.04 200.00h3.57v6.00h-3.57zM442.04 194.00h3.57v6.00h-3.57zM445.61 200.00h3.57v6.00h-3.57zM445.61 194.00h3.57v6.00h-3.57z"/>
<path fill="#4269fe" d="M395.00 56.00h4.19v6.00h-4.19zM395.00 50.00h4.19v6.00h-4.19zM395.00 44.00h4.19v6.00h-4.19zM395.00 38.00h4.19v6.00h-4.19zM395.00 32.00h4.19v6.00h-4.19zM395.00 26.00h4.19v6.00h-4.19zM399.19 110.00h3.57v6.00h-3.57zM399.19 104.00h3.57v6.00h-3.57zM399.19 98.00h3.57v6.00h-3.57zM402.76 110.00h3.57v6.00h-3.57zM402.76 104.00h3.57v6.00h-3.57zM402.76 98.00h3.57v6.00h-3.57zM406.33 128.00h3.57v6.00h-3.57zM406.33 122.00h3.57v6.00h-3.57zM409.90 128.00h3.57v6.00h-3.57zM409.90 122.00h3.57v6.00h-3.57zM413.47 128.00h3.57v6.00h-3.57zM413.47 122.00h3.57v6.00h-3.57zM417.04 128.00h3.57v6.00h-3.57zM417.04 122.00h3.57v6.00h-3.57zM420.61 128.00h3.57v6.00h-3.57zM420.61 122.00h3.57v6.00h-3.57zM427.76 152.00h3.57v6.00h-3.57zM431.33 158.00h3.57v6.00h-3.57zM434.90 200.00h3.57v6.00h-3.57zM434.90 194.00h3.57v6.00h-3.57zM438.47 194.00h3.57v6.00h-3.57zM438.47 188.00h3.57v6.00h-3.57zM442.04 188.00h3.57v6.00h-3.57zM442.04 182.00h3.57v6.00h-3.57zM445.61 188.00h3.57v6.00h-3.57zM445.61 182.00h3.57v6.00h-3.57z"/>
<path fill="#3e6fff" d="M395.00 20.00h4.19v6.00h-4.19zM395.00 14.00h4.19v6.00h-4.19zM395.00 8.00h4.19v6.00h-4.19zM395.00 2.00h4.19v6.00h-4.19zM399.19 92.00h3.57v6.00h-3.57zM399.19 86.00h3.57v6.00h-3.57zM399.19 80.00h3.57v6.00h-3.57zM399.19 74.00h3.57v6.00h-3.57zM399.19 68.00h3.57v6.00h-3.57zM399.19 62.00h3.57v6.00h-3.57zM399.19 56.00h3.57v6.00h-3.57zM399.19 50.00h3.57v6.00h-3.57zM399.19 44.00h3.57v6.00h-3.57zM399.19 38.00h3.57v6.00h-3.57zM399.19 32.00h3.57v6.00h-3.57zM399.19 26.00h3.57v6.00h-3.57zM402.76 92.00h3.57v6.00h-3.57zM402.76 86.00h3.57v6.00h-3.57zM402.76 80.00h3.57v6.00h-3.57zM402.76 74.00h3.57v6.00h-3.57zM402.76 68.00h3.57v6.00h-3.57zM402.76 62.00h3.57v6.00h-3.57zM402.76 56.00h3.57v6.00h-3.57zM402.76 50.00h3.57v6.00h-3.57zM402.76 44.00h3.57v6.00h-3.57zM402.76 38.00h3.57v6.00h-3.57zM402.76 32.00h3.57v6.00h-3.57zM402.76 26.00h3.57v6.00h-3.57zM406.33 116.00h3.57v6.00h-3.57zM406.33 110.00h3.57v6.00h-3.57zM406.33 104.00h3.57v6.00h-3.57zM406.33 98.00h3.57v6.00h-3.57zM406.33 92.00h3.57v6.00h-3.57zM409.90 116.00h3.57v6.00h-3.57zM409.90 110.00h3.57v6.00h-3.57zM409.90 104.00h3.57v6.00h-3.57zM409.90 98.00h3.57v6.00h-3.57zM409.90 92.00h3.57v6.00h-3.57zM413.47 116.00h3.57v6.00h-3.57zM413.47 110.00h3.57v6.00h-3.57zM413.47 104.00h3.57v6.00h-3.57zM413.47 98.00h3.57v6.00h-3.57zM413.47 92.00h3.57v6.00h-3.57zM417.04 116.00h3.57v6.00h-3.57zM417.04 110.00h3.57v6.00h-3.57zM417.04 104.00h3.57v6.00h-3.57zM417.04 98.00h3.57v6.00h-3.57zM417.04 92.00h3.57v6.00h-3.57zM420.61 116.00h3.57v6.00h-3.57zM420.61 110.00h3.57v6.00h-3.57zM420.61 104.00h3.57v6.00h-3.57zM424.19 146.00h3.57v6.00h-3.57zM427.76 146.00h3.57v6.00h-3.57zM431.33 152.00h3.57v6.00h-3.57zM434.90 188.00h3.57v6.00h-3.57zM434.90 182.00h3.57v6.00h-3.57zM438.47 182.00h3.57v6.00h-3.57zM442.04 176.00h3.57v6.00h-3.57zM442.04 170.00h3.57v6.00h-3.57zM445.61 176.00h3.57v6.00h-3.57zM445.61 170.00h3.57v6.00h-3.57z"/>
<path fill="#3875fe" d="M399.19 20.00h3.57v6.00h-3.57zM399.19 14.00h3.57v6.00h-3.57zM399.19 8.00h3.57v6.00h-3.57zM399.19 2.00h3.57v6.00h-3.57zM402.76 20.00h3.57v6.00h-3.57zM402.76 14.00h3.57v6.00h-3.57zM402.76 8.00h3.57v6.00h-3.57zM402.76 2.00h3.57v6.00h-3.57zM406.33 86.00h3.57v6.00h-3.57zM406.33 80.00h3.57v6.00h-3.57zM406.33 74.00h3.57v6.00h-3.57zM406.33 68.00h3.57v6.00h-3.57zM406.33 62.00h3.57v6.00h-3.57zM406.33 56.00h3.57v6.00h-3.57zM406.33 50.00h3.57v6.00h-3.57zM406.33 44.00h3.57v6.00h-3.57zM406.33 38.00h3.57v6.00h-3.57zM406.33 32.00h3.57v6.00h-3.57zM406.33 26.00h3.57v6.00h-3.57zM406.33 20.00h3.57v6.00h-3.57zM406.33 14.00h3.57v6.00h-3.57zM406.33 8.00h3.57v6.00h-3.57zM406.33 2.00h3.57v6.00h-3.57zM409.90 86.00h3.57v6.00h-3.57zM409.90 80.00h3.57v6.00h-3.57zM409.90 74.00h3.57v6.00h-3.57zM409.90 68.00h3.57v6.00h-3.57zM409.90 62.00h3.57v6.00h-3.57zM409.90 56.00h3.57v6.00h-3.57zM409.90 50.00h3.57v6.00h-3.57zM409.90 44.00h3.57v6.00h-3.57zM409.90 38.00h3.57v6.00h-3.57zM409.90 32.00h3.57v6.00h-3.57zM409.90 26.00h3.57v6.00h-3.57zM413.47 86.00h3.57v6.00h-3.57zM413.47 80.00h3.57v6.00h-3.57zM413.47 74.00h3.57v6.00h-3.57zM413.47 68.00h3.57v6.00h-3.57zM413.47 62.00h3.57v6.00h-3.57zM413.47 56.00h3.57v6.00h-3.57zM413.47 50.00h3.57v6.00h-3.57zM413.47 44.00h3.57v6.00h-3.57zM413.47 38.00h3.57v6.00h-3.57zM413.47 32.00h3.57v6.00h-3.57zM413.47 26.00h3.57v6.00h-3.57zM417.04 86.00h3.57v6.00h-3.57zM417.04 80.00h3.57v6.00h-3.57zM417.04 74.00h3.57v6.00h-3.57zM417.04 68.00h3.57v6.00h-3.57zM417.04 62.00h3.57v6.00h-3.57zM417.04 56.00h3.57v6.00h-3.57zM417.04 50.00h3.57v6.00h-3.57zM417.04 44.00h3.57v6.00h-3.57zM417.04 38.00h3.57v6.00h-3.57zM417.04 32.00h3.57v6.00h-3.57zM417.04 26.00h3.57v6.00h-3.57zM420.61 98.00h3.57v6.00h-3.57zM420.61 92.00h3.57v6.00h-3.57zM424.19 140.00h3.57v6.00h-3.57zM427.76 140.00h3.57v6.00h-3.57zM434.90 176.00h3.57v6.00h-3.57zM434.90 170.00h3.57v6.00h-3.57zM438.47 176.00h3.57v6.00h-3.57zM438.47 170.00h3.57v6.00h-3.57zM442.04 164.00h3.57v6.00h-3.57zM445.61 164.00h3.57v6.00h-3.57z"/>
<path fill="#327cfc" d="M409.90 20.00h3.57v6.00h-3.57zM409.90 14.00h3.57v6.00h-3.57zM409.90 8.00h3.57v6.00h-3.57zM409.90 2.00h3.57v6.00h-3.57zM413.47 20.00h3.57v6.00h-3.57zM413.47 14.00h3.57v6.00h-3.57zM413.47 8.00h3.57v6.00h-3.57zM413.47 2.00h3.57v6.00h-3.57zM417.04 20.00h3.57v6.00h-3.57zM417.04 14.00h3.57v6.00h-3.57zM417.04 8.00h3.57v6.00h-3.57zM417.04 2.00h3.57v6.00h-3.57zM420.61 86.00h3.57v6.00h-3.57zM420.61 80.00h3.57v6.00h-3.57zM420.61 74.00h3.57v6.00h-3.57zM420.61 68.00h3.57v6.00h-3.57zM420.61 62.00h3.57v6.00h-3.57zM420.61 56.00h3.57v6.00h-3.57zM420.61 50.00h3.57v6.00h-3.57zM420.61 44.00h3.57v6.00h-3.57zM420.61 38.00h3.57v6.00h-3.57zM420.61 32.00h3.57v6.00h-3.57zM420.61 26.00h3.57v6.00h-3.57zM424.19 134.00h3.57v6.00h-3.57zM431.33 146.00h3.57v6.00h-3.57zM434.90 164.00h3.57v6.00h-3.57zM438.47 164.00h3.57v6.00h-3.57zM442.04 158.00h3.57v6.00h-3.57zM445.61 158.00h3.57v6.00h-3.57z"/>
<path fill="#2f81fa" d="M420.61 20.00h3.57v6.00h-3.57zM420.61 14.00h3.57v6.00h-3.57zM420.61 8.00h3.57v6.00h-3.57zM420.61 2.00h3.57v6.00h-3.57zM424.19 128.00h3.57v6.00h-3.57zM424.19 122.00h3.57v6.00h-3.57zM427.76 134.00h3.57v6.00h-3.57zM431.33 140.00h3.57v6.00h-3.57zM434.90 158.00h3.57v6.00h-3.57zM438.47 158.00h3.57v6.00h-3.57zM442.04 152.00h3.57v6.00h-3.57zM445.61 152.00h3.57v6.00h-3.57zM449.19 212.00h3.57v5.00h-3.57zM449.19 206.00h3.57v6.00h-3.57z"/>
<path fill="#2e87f7" d="M424.19 116.00h3.57v6.00h-3.57zM424.19 110.00h3.57v6.00h-3.57zM424.19 104.00h3.57v6.00h-3.57zM427.76 128.00h3.57v6.00h-3.57zM427.76 122.00h3.57v6.00h-3.57zM427.76 116.00h3.57v6.00h-3.57zM431.33 134.00h3.57v6.00h-3.57zM438.47 152.00h3.57v6.00h-3.57zM442.04 146.00h3.57v6.00h-3.57zM445.61 146.00h3.57v6.00h-3.57zM449.19 200.00h3.57v6.00h-3.57zM452.76 212.00h3.57v5.00h-3.57zM452.76 206.00h3.57v6.00h-3.57zM459.90 212.00h3.57v5.00h-3.57zM459.90 206.00h3.57v6.00h-3.57z"/>
<path fill="#2d8cf3" d="M424.19 98.00h3.57v6.00h-3.57zM424.19 92.00h3.57v6.00h-3.57zM427.76 110.00h3.57v6.00h-3.57zM427.76 104.00h3.57v6.00h-3.57zM427.76 98.00h3.57v6.00h-3.57zM431.33 128.00h3.57v6.00h-3.57zM431.33 122.00h3.57v6.00h-3.57zM434.90 152.00h3.57v6.00h-3.57zM442.04 140.00h3.57v6.00h-3.57zM445.61 140.00h3.57v6.00h-3.57zM449.19 194.00h3.57v6.00h-3.57zM449.19 188.00h3.57v6.00h-3.57zM452.76 200.00h3.57v6.00h-3.57zM456.33 212.00h3.57v5.00h-3.57zM456.33 206.00h3.57v6.00h-3.57zM459.90 200.00h3.57v6.00h-3.57zM459.90 194.00h3.57v6.00h-3.57zM463.47 212.00h3.57v5.00h-3.57zM463.47 206.00h3.57v6.00h-3.57z"/>
<path fill="#2b91ef" d="M424.19 86.00h3.57v6.00h-3.57zM424.19 80.00h3.57v6.00h-3.57zM424.19 74.00h3.57v6.00h-3.57zM424.19 68.00h3.57v6.00h-3.57zM424.19 62.00h3.57v6.00h-3.57zM427.76 92.00h3.57v6.00h-3.57zM427.76 86.00h3.57v6.00h-3.57zM427.76 80.00h3.57v6.00h-3.57zM427.76 74.00h3.57v6.00h-3.57zM427.76 68.00h3.57v6.00h-3.57zM427.76 62.00h3.57v6.00h-3.57zM431.33 116.00h3.57v6.00h-3.57zM431.33 110.00h3.57v6.00h-3.57zM431.33 104.00h3.57v6.00h-3.57zM434.90 146.00h3.57v6.00h-3.57zM438.47 146.00h3.57v6.00h-3.57zM442.04 134.00h3.57v6.00h-3.57zM445.61 134.00h3.57v6.00h-3.57zM449.19 182.00h3.57v6.00h-3.57zM452.76 194.00h3.57v6.00h-3.57zM456.33 200.00h3.57v6.00h-3.57zM459.90 188.00h3.57v6.00h-3.57zM459.90 182.00h3.57v6.00h-3.57zM463.47 200.00h3.57v6.00h-3.57zM463.47 194.00h3.57v6.00h-3.57zM467.04 212.00h3.57v5.00h-3.57zM467.04 206.00h3.57v6.00h-3.57z"/>
<path fill="#2797eb" d="M424.19 56.00h3.57v6.00h-3.57zM424.19 50.00h3.57v6.00h-3.57zM424.19 44.00h3.57v6.00h-3.57zM424.19 38.00h3.57v6.00h-3.57zM424.19 32.00h3.57v6.00h-3.57zM424.19 26.00h3.57v6.00h-3.57zM427.76 56.00h3.57v6.00h-3.57zM427.76 50.00h3.57v6.00h-3.57zM427.76 44.00h3.57v6.00h-3.57zM427.76 38.00h3.57v6.00h-3.57zM427.76 32.00h3.57v6.00h-3.57zM427.76 26.00h3.57v6.00h-3.57zM431.33 98.00h3.57v6.00h-3.57zM431.33 92.00h3.57v6.00h-3.57zM434.90 140.00h3.57v6.00h-3.57zM438.47 140.00h3.57v6.00h-3.57zM442.04 128.00h3.57v6.00h-3.57zM442.04 122.00h3.57v6.00h-3.57zM445.61 128.00h3.57v6.00h-3.57zM445.61 122.00h3.57v6.00h-3.57zM449.19 176.00h3.57v6.00h-3.57zM449.19 170.00h3.57v6.00h-3.57zM452.76 188.00h3.57v6.00h-3.57zM456.33 194.00h3.57v6.00h-3.57zM456.33 188.00h3.57v6.00h-3.57zM459.90 176.00h3.57v6.00h-3.57zM459.90 170.00h3.57v6.00h-3.57zM463.47 188.00h3.57v6.00h-3.57zM463.47 182.00h3.57v6.00h-3.57zM467.04 200.00h3.57v6.00h-3.57zM467.04 194.00h3.57v6.00h-3.57zM474.19 212.00h3.57v5.00h-3.57zM474.19 206.00h3.57v6.00h-3.57zM477.76 212.00h3.57v5.00h-3.57zM477.76 206.00h3.57v6.00h-3.57zM481.33 212.00h3.57v5.00h-3.57zM481.33 206.00h3.57v6.00h-3.57z"/>
<path fill="#259be8" d="M424.19 20.00h3.57v6.00h-3.57zM424.19 14.00h3.57v6.00h-3.57zM424.19 8.00h3.57v6.00h-3.57zM424.19 2.00h3.57v6.00h-3.57zM427.76 20.00h3.57v6.00h-3.57zM427.76 14.00h3.57v6.00h-3.57zM427.76 8.00h3.57v6.00h-3.57zM427.76 2.00h3.57v6.00h-3.57zM431.33 86.00h3.57v6.00h-3.57zM431.33 80.00h3.57v6.00h-3.57zM431.33 74.00h3.57v6.00h-3.57zM431.33 68.00h3.57v6.00h-3.57zM431.33 62.00h3.57v6.00h-3.57zM431.33 56.00h3.57v6.00h-3.57zM431.33 50.00h3.57v6.00h-3.57zM431.33 44.00h3.57v6.00h-3.57zM431.33 38.00h3.57v6.00h-3.57zM431.33 32.00h3.57v6.00h-3.57zM431.33 26.00h3.57v6.00h-3.57zM438.47 134.00h3.57v6.00h-3.57zM442.04 116.00h3.57v6.00h-3.57zM442.04 110.00h3.57v6.00h-3.57zM442.04 104.00h3.57v6.00h-3.57zM445.61 116.00h3.57v6.00h-3.57zM445.61 110.00h3.57v6.00h-3.57zM445.61 104.00h3.57v6.00h-3.57zM449.19 164.00h3.57v6.00h-3.57zM452.76 182.00h3.57v6.00h-3.57zM452.76 176.00h3.57v6.00h-3.57zM456.33 182.00h3.57v6.00h-3.57zM459.90 164.00h3.57v6.00h-3.57zM463.47 176.00h3.57v6.00h-3.57zM463.47 170.00h3.57v6.00h-3.57zM467.04 188.00h3.57v6.00h-3.57zM467.04 182.00h3.57v6.00h-3.57zM474.19 200.00h3.57v6.00h-3.57zM474.19 194.00h3.57v6.00h-3.57zM474.19 188.00h3.57v6.00h-3.57zM477.76 200.00h3.57v6.00h-3.57zM477.76 194.00h3.57v6.00h-3.57zM477.76 188.00h3.57v6.00h-3.57zM481.33 200.00h3.57v6.00h-3.57zM481.33 194.00h3.57v6.00h-3.57zM481.33 188.00h3.57v6.00h-3.57zM484.90 212.00h3.57v5.00h-3.57zM484.90 206.00h3.57v6.00h-3.57zM488.47 212.00h3.57v5.00h-3.57zM488.47 206.00h3.57v6.00h-3.57z"/>
<path fill="#23a0e5" d="M431.33 20.00h3.57v6.00h-3.57zM431.33 14.00h3.57v6.00h-3.57zM431.33 8.00h3.57v6.00h-3.57zM431.33 2.00h3.57v6.00h-3.57zM434.90 134.00h3.57v6.00h-3.57zM438.47 128.00h3.57v6.00h-3.57zM442.04 98.00h3.57v6.00h-3.57zM442.04 92.00h3.57v6.00h-3.57zM445.61 98.00h3.57v6.00h-3.57zM445.61 92.00h3.57v6.00h-3.57zM449.19 158.00h3.57v6.00h-3.57zM452.76 170.00h3.57v6.00h-3.57zM456.33 176.00h3.57v6.00h-3.57zM456.33 170.00h3.57v6.00h-3.57zM459.90 158.00h3.57v6.00h-3.57zM463.47 164.00h3.57v6.00h-3.57zM467.04 176.00h3.57v6.00h-3.57zM467.04 170.00h3.57v6.00h-3.57zM474.19 182.00h3.57v6.00h-3.57zM474.19 176.00h3.57v6.00h-3.57zM477.76 182.00h3.57v6.00h-3.57zM477.76 176.00h3.57v6.00h-3.57zM481.33 182.00h3.57v6.00h-3.57zM481.33 176.00h3.57v6.00h-3.57zM484.90 200.00h3.57v6.00h-3.57zM484.90 194.00h3.57v6.00h-3.57zM484.90 188.00h3.57v6.00h-3.57zM488.47 200.00h3.57v6.00h-3.57zM488.47 194.00h3.57v6.00h-3.57zM488.47 188.00h3.57v6.00h-3.57zM492.04 212.00h3.57v5.00h-3.57zM492.04 206.00h3.57v6.00h-3.57zM495.61 212.00h3.57v5.00h-3.57zM495.61 206.00h3.57v6.00h-3.57z"/>
<path fill="#20a5e3" d="M434.90 128.00h3.57v6.00h-3.57zM434.90 122.00h3.57v6.00h-3.57zM438.47 122.00h3.57v6.00h-3.57zM438.47 116.00h3.57v6.00h-3.57zM438.47 110.00h3.57v6.00h-3.57zM442.04 86.00h3.57v6.00h-3.57zM442.04 80.00h3.57v6.00h-3.57zM442.04 74.00h3.57v6.00h-3.57zM442.04 68.00h3.57v6.00h-3.57zM442.04 62.00h3.57v6.00h-3.57zM442.04 56.00h3.57v6.00h-3.57zM442.04 50.00h3.57v6.00h-3.57zM442.04 44.00h3.57v6.00h-3.57zM442.04 38.00h3.57v6.00h-3.57zM442.04 32.00h3.57v6.00h-3.57zM442.04 26.00h3.57v6.00h-3.57zM445.61 86.00h3.57v6.00h-3.57zM445.61 80.00h3.57v6.00h-3.57zM445.61 74.00h3.57v6.00h-3.57zM445.61 68.00h3.57v6.00h-3.57zM445.61 62.00h3.57v6.00h-3.57zM449.19 152.00h3.57v6.00h-3.57zM452.76 164.00h3.57v6.00h-3.57zM456.33 164.00h3.57v6.00h-3.57zM459.90 152.00h3.57v6.00h-3.57zM459.90 146.00h3.57v6.00h-3.57zM463.47 158.00h3.57v6.00h-3.57zM463.47 152.00h3.57v6.00h-3.57zM467.04 164.00h3.57v6.00h-3.57zM474.19 170.00h3.57v6.00h-3.57zM474.19 164.00h3.57v6.00h-3.57zM477.76 170.00h3.57v6.00h-3.57zM477.76 164.00h3.57v6.00h-3.57zM481.33 170.00h3.57v6.00h-3.57zM481.33 164.00h3.57v6.00h-3.57zM484.90 182.00h3.57v6.00h-3.57zM484.90 176.00h3.57v6.00h-3.57zM488.47 182.00h3.57v6.00h-3.57zM488.47 176.00h3.57v6.00h-3.57zM492.04 200.00h3.57v6.00h-3.57zM492.04 194.00h3.57v6.00h-3.57zM492.04 188.00h3.57v6.00h-3.57zM495.61 200.00h3.57v6.00h-3.57zM495.61 194.00h3.57v6.00h-3.57zM499.19 212.00h3.57v5.00h-3.57zM499.19 206.00h3.57v6.00h-3.57z"/>
<path fill="#1ca9df" d="M434.90 116.00h3.57v6.00h-3.57zM434.90 110.00h3.57v6.00h-3.57zM438.47 104.00h3.57v6.00h-3.57zM442.04 20.00h3.57v6.00h-3.57zM442.04 14.00h3.57v6.00h-3.57zM442.04 8.00h3.57v6.00h-3.57zM442.04 2.00h3.57v6.00h-3.57zM445.61 56.00h3.57v6.00h-3.57zM445.61 50.00h3.57v6.00h-3.57zM445.61 44.00h3.57v6.00h-3.57zM445.61 38.00h3.57v6.00h-3.57zM445.61 32.00h3.57v6.00h-3.57zM445.61 26.00h3.57v6.00h-3.57zM449.19 146.00h3.57v6.00h-3.57zM452.76 158.00h3.57v6.00h-3.57zM456.33 158.00h3.57v6.00h-3.57zM456.33 152.00h3.57v6.00h-3.57zM459.90 140.00h3.57v6.00h-3.57zM463.47 146.00h3.57v6.00h-3.57zM467.04 158.00h3.57v6.00h-3.57zM467.04 152.00h3.57v6.00h-3.57zM474.19 158.00h3.57v6.00h-3.57zM477.76 158.00h3.57v6.00h-3.57zM481.33 158.00h3.57v6.00h-3.57zM481.33 152.00h3.57v6.00h-3.57zM484.90 170.00h3.57v6.00h-3.57zM484.90 164.00h3.57v6.00h-3.57zM488.47 170.00h3.57v6.00h-3.57zM488.47 164.00h3.57v6.00h-3.57zM492.04 182.00h3.57v6.00h-3.57zM492.04 176.00h3.57v6.00h-3.57zM495.61 188.00h3.57v6.00h-3.57zM495.61 182.00h3.57v6.00h-3.57zM499.19 200.00h3.57v6.00h-3.57zM499.19 194.00h3.57v6.00h-3.57z"/>
<path fill="#18addb" d="M434.90 104.00h3.57v6.00h-3.57zM434.90 98.00h3.57v6.00h-3.57zM434.90 92.00h3.57v6.00h-3.57zM438.47 98.00h3.57v6.00h-3.57zM438.47 92.00h3.57v6.00h-3.57zM438.47 86.00h3.57v6.00h-3.57zM445.61 20.00h3.57v6.00h-3.57zM445.61 14.00h3.57v6.00h-3.57zM445.61 8.00h3.57v6.00h-3.57zM445.61 2.00h3.57v6.00h-3.57zM449.19 140.00h3.57v6.00h-3.57zM452.76 152.00h3.57v6.00h-3.57zM452.76 146.00h3.57v6.00h-3.57zM456.33 146.00h3.57v6.00h-3.57zM459.90 134.00h3.57v6.00h-3.57zM463.47 140.00h3.57v6.00h-3.57zM463.47 134.00h3.57v6.00h-3.57zM467.04 146.00h3.57v6.00h-3.57zM474.19 152.00h3.57v6.00h-3.57zM474.19 146.00h3.57v6.00h-3.57zM477.76 152.00h3.57v6.00h-3.57zM477.76 146.00h3.57v6.00h-3.57zM481.33 146.00h3.57v6.00h-3.57zM484.90 158.00h3.57v6.00h-3.57zM484.90 152.00h3.57v6.00h-3.57zM488.47 158.00h3.57v6.00h-3.57zM492.04 170.00h3.57v6.00h-3.57zM492.04 164.00h3.57v6.00h-3.57zM495.61 176.00h3.57v6.00h-3.57zM495.61 170.00h3.57v6.00h-3.57zM499.19 188.00h3.57v6.00h-3.57zM499.19 182.00h3.57v6.00h-3.57z"/>
<path fill="#12b1d6" d="M434.90 86.00h3.57v6.00h-3.57zM434.90 80.00h3.57v6.00h-3.57zM434.90 74.00h3.57v6.00h-3.57zM434.90 68.00h3.57v6.00h-3.57zM434.90 62.00h3.57v6.00h-3.57zM434.90 56.00h3.57v6.00h-3.57zM434.90 50.00h3.57v6.00h-3.57zM434.90 44.00h3.57v6.00h-3.57zM434.90 38.00h3.57v6.00h-3.57zM434.90 32.00h3.57v6.00h-3.57zM434.90 26.00h3.57v6.00h-3.57zM438.47 80.00h3.57v6.00h-3.57zM438.47 74.00h3.57v6.00h-3.57zM438.47 68.00h3.57v6.00h-3.57zM438.47 62.00h3.57v6.00h-3.57zM438.47 56.00h3.57v6.00h-3.57zM438.47 50.00h3.57v6.00h-3.57zM438.47 44.00h3.57v6.00h-3.57zM438.47 38.00h3.57v6.00h-3.57zM438.47 32.00h3.57v6.00h-3.57zM438.47 26.00h3.57v6.00h-3.57zM449.19 134.00h3.57v6.00h-3.57zM452.76 140.00h3.57v6.00h-3.57zM456.33 140.00h3.57v6.00h-3.57zM456.33 134.00h3.57v6.00h-3.57zM459.90 128.00h3.57v6.00h-3.57zM459.90 122.00h3.57v6.00h-3.57zM459.90 116.00h3.57v6.00h-3.57zM459.90 110.00h3.57v6.00h-3.57zM463.47 128.00h3.57v6.00h-3.57zM463.47 122.00h3.57v6.00h-3.57zM463.47 116.00h3.57v6.00h-3.57zM467.04 140.00h3.57v6.00h-3.57zM467.04 134.00h3.57v6.00h-3.57zM470.61 212.00h3.57v5.00h-3.57zM470.61 206.00h3.57v6.00h-3.57zM474.19 140.00h3.57v6.00h-3.57zM477.76 140.00h3.57v6.00h-3.57zM481.33 140.00h3.57v6.00h-3.57zM481.33 134.00h3.57v6.00h-3.57zM484.90 146.00h3.57v6.00h-3.57zM488.47 152.00h3.57v6.00h-3.57zM492.04 158.00h3.57v6.00h-3.57zM492.04 152.00h3.57v6.00h-3.57zM495.61 164.00h3.57v6.00h-3.57zM499.19 176.00h3.57v6.00h-3.57zM499.19 170.00h3.57v6.00h-3.57zM509.90 212.00h3.57v5.00h-3.57zM509.90 206.00h3.57v6.00h-3.57z"/>
<path fill="#08b5d0" d="M434.90 20.00h3.57v6.00h-3.57zM434.90 14.00h3.57v6.00h-3.57zM434.90 8.00h3.57v6.00h-3.57zM434.90 2.00h3.57v6.00h-3.57zM438.47 20.00h3.57v6.00h-3.57zM438.47 14.00h3.57v6.00h-3.57zM438.47 8.00h3.57v6.00h-3.57zM438.47 2.00h3.57v6.00h-3.57zM449.19 128.00h3.57v6.00h-3.57zM449.19 122.00h3.57v6.00h-3.57zM452.76 134.00h3.57v6.00h-3.57zM456.33 128.00h3.57v6.00h-3.57zM456.33 122.00h3.57v6.00h-3.57zM459.90 104.00h3.57v6.00h-3.57zM459.90 98.00h3.57v6.00h-3.57zM459.90 92.00h3.57v6.00h-3.57zM459.90 86.00h3.57v6.00h-3.57zM459.90 80.00h3.57v6.00h-3.57zM459.90 74.00h3.57v6.00h-3.57zM459.90 68.00h3.57v6.00h-3.57zM459.90 62.00h3.57v6.00h-3.57zM459.90 56.00h3.57v6.00h-3.57zM459.90 50.00h3.57v6.00h-3.57zM459.90 44.00h3.57v6.00h-3.57zM459.90 38.00h3.57v6.00h-3.57zM459.90 32.00h3.57v6.00h-3.57zM459.90 26.00h3.57v6.00h-3.57zM463.47 110.00h3.57v6.00h-3.57zM463.47 104.00h3.57v6.00h-3.57zM463.47 98.00h3.57v6.00h-3.57zM463.47 92.00h3.57v6.00h-3.57zM467.04 128.00h3.57v6.00h-3.57zM467.04 122.00h3.57v6.00h-3.57zM470.61 200.00h3.57v6.00h-3.57zM474.19 134.00h3.57v6.00h-3.57zM477.76 134.00h3.57v6.00h-3.57zM481.33 128.00h3.57v6.00h-3.57zM481.33 122.00h3.57v6.00h-3.57zM484.90 140.00h3.57v6.00h-3.57zM484.90 134.00h3.57v6.00h-3.57zM488.47 146.00h3.57v6.00h-3.57zM488.47 140.00h3.57v6.00h-3.57zM492.04 146.00h3.57v6.00h-3.57zM495.61 158.00h3.57v6.00h-3.57zM495.61 152.00h3.57v6.00h-3.57zM499.19 164.00h3.57v6.00h-3.57zM509.90 200.00h3.57v6.00h-3.57zM513.47 212.00h3.57v5.00h-3.57zM513.47 206.00h3.57v6.00h-3.57zM517.04 212.00h3.57v5.00h-3.57zM517.04 206.00h3.57v6.00h-3.57z"/>
<path fill="#01b8ca" d="M449.19 116.00h3.57v6.00h-3.57zM452.76 128.00h3.57v6.00h-3.57zM452.76 122.00h3.57v6.00h-3.57zM456.33 116.00h3.57v6.00h-3.57zM456.33 110.00h3.57v6.00h-3.57zM459.90 20.00h3.57v6.00h-3.57zM459.90 14.00h3.57v6.00h-3.57zM459.90 8.00h3.57v6.00h-3.57zM459.90 2.00h3.57v6.00h-3.57zM463.47 86.00h3.57v6.00h-3.57zM463.47 80.00h3.57v6.00h-3.57zM463.47 74.00h3.57v6.00h-3.57zM463.47 68.00h3.57v6.00h-3.57zM463.47 62.00h3.57v6.00h-3.57zM463.47 56.00h3.57v6.00h-3.57zM463.47 50.00h3.57v6.00h-3.57zM463.47 44.00h3.57v6.00h-3.57zM463.47 38.00h3.57v6.00h-3.57zM463.47 32.00h3.57v6.00h-3.57zM463.47 26.00h3.57v6.00h-3.57zM467.04 116.00h3.57v6.00h-3.57zM467.04 110.00h3.57v6.00h-3.57zM470.61 194.00h3.57v6.00h-3.57zM474.19 128.00h3.57v6.00h-3.57zM477.76 128.00h3.57v6.00h-3.57zM481.33 116.00h3.57v6.00h-3.57zM484.90 128.00h3.57v6.00h-3.57zM488.47 134.00h3.57v6.00h-3.57zM492.04 140.00h3.57v6.00h-3.57zM492.04 134.00h3.57v6.00h-3.57zM495.61 146.00h3.57v6.00h-3.57zM499.19 158.00h3.57v6.00h-3.57zM499.19 152.00h3.57v6.00h-3.57zM506.33 212.00h3.57v5.00h-3.57zM506.33 206.00h3.57v6.00h-3.57zM509.90 194.00h3.57v6.00h-3.57zM509.90 188.00h3.57v6.00h-3.57zM513.47 200.00h3.57v6.00h-3.57zM517.04 200.00h3.57v6.00h-3.57z"/>
<path fill="#02bac3" d="M449.19 110.00h3.57v6.00h-3.57zM449.19 104.00h3.57v6.00h-3.57zM449.19 98.00h3.57v6.00h-3.57zM452.76 116.00h3.57v6.00h-3.57zM452.76 110.00h3.57v6.00h-3.57zM452.76 104.00h3.57v6.00h-3.57zM456.33 104.00h3.57v6.00h-3.57zM456.33 98.00h3.57v6.00h-3.57zM456.33 92.00h3.57v6.00h-3.57zM463.47 20.00h3.57v6.00h-3.57zM463.47 14.00h3.57v6.00h-3.57zM463.47 8.00h3.57v6.00h-3.57zM463.47 2.00h3.57v6.00h-3.57zM467.04 104.00h3.57v6.00h-3.57zM467.04 98.00h3.57v6.00h-3.57zM467.04 92.00h3.57v6.00h-3.57zM470.61 188.00h3.57v6.00h-3.57zM474.19 122.00h3.57v6.00h-3.57zM474.19 116.00h3.57v6.00h-3.57zM477.76 122.00h3.57v6.00h-3.57zM477.76 116.00h3.57v6.00h-3.57zM477.76 110.00h3.57v6.00h-3.57zM481.33 110.00h3.57v6.00h-3.57zM481.33 104.00h3.57v6.00h-3.57zM481.33 98.00h3.57v6.00h-3.57zM484.90 122.00h3.57v6.00h-3.57zM484.90 116.00h3.57v6.00h-3.57zM488.47 128.00h3.57v6.00h-3.57zM488.47 122.00h3.57v6.00h-3.57zM492.04 128.00h3.57v6.00h-3.57zM492.04 122.00h3.57v6.00h-3.57zM495.61 140.00h3.57v6.00h-3.57zM495.61 134.00h3.57v6.00h-3.57zM499.19 146.00h3.57v6.00h-3.57zM506.33 200.00h3.57v6.00h-3.57zM509.90 182.00h3.57v6.00h-3.57zM513.47 194.00h3.57v6.00h-3.57zM517.04 194.00h3.57v6.00h-3.57zM520.61 212.00h3.57v5.00h-3.57z"/>
<path fill="#0bbdbd" d="M449.19 92.00h3.57v6.00h-3.57zM452.76 98.00h3.57v6.00h-3.57zM452.76 92.00h3.57v6.00h-3.57zM456.33 86.00h3.57v6.00h-3.57zM456.33 80.00h3.57v6.00h-3.57zM456.33 74.00h3.57v6.00h-3.57zM456.33 68.00h3.57v6.00h-3.57zM467.04 86.00h3.57v6.00h-3.57zM467.04 80.00h3.57v6.00h-3.57zM467.04 74.00h3.57v6.00h-3.57zM467.04 68.00h3.57v6.00h-3.57zM470.61 182.00h3.57v6.00h-3.57zM470.61 176.00h3.57v6.00h-3.57zM474.19 110.00h3.57v6.00h-3.57zM477.76 104.00h3.57v6.00h-3.57zM481.33 92.00h3.57v6.00h-3.57zM484.90 110.00h3.57v6.00h-3.57zM488.47 116.00h3.57v6.00h-3.57zM488.47 110.00h3.57v6.00h-3.57zM492.04 116.00h3.57v6.00h-3.57zM495.61 128.00h3.57v6.00h-3.57zM495.61 122.00h3.57v6.00h-3.57zM499.19 140.00h3.57v6.00h-3.57zM499.19 134.00h3.57v6.00h-3.57zM506.33 194.00h3.57v6.00h-3.57zM509.90 176.00h3.57v6.00h-3.57zM509.90 170.00h3.57v6.00h-3.57zM513.47 188.00h3.57v6.00h-3.57zM517.04 188.00h3.57v6.00h-3.57z"/>
<path fill="#19bfb6" d="M449.19 86.00h3.57v6.00h-3.57zM449.19 80.00h3.57v6.00h-3.57zM449.19 74.00h3.57v6.00h-3.57zM449.19 68.00h3.57v6.00h-3.57zM449.19 62.00h3.57v6.00h-3.57zM449.19 56.00h3.57v6.00h-3.57zM449.19 50.00h3.57v6.00h-3.57zM449.19 44.00h3.57v6.00h-3.57zM449.19 38.00h3.57v6.00h-3.57zM449.19 32.00h3.57v6.00h-3.57zM449.19 26.00h3.57v6.00h-3.57zM452.76 86.00h3.57v6.00h-3.57zM452.76 80.00h3.57v6.00h-3.57zM452.76 74.00h3.57v6.00h-3.57zM452.76 68.00h3.57v6.00h-3.57zM452.76 62.00h3.57v6.00h-3.57zM452.76 56.00h3.57v6.00h-3.57zM452.76 50.00h3.57v6.00h-3.57zM452.76 44.00h3.57v6.00h-3.57zM452.76 38.00h3.57v6.00h-3.57zM452.76 32.00h3.57v6.00h-3.57zM452.76 26.00h3.57v6.00h-3.57zM456.33 62.00h3.57v6.00h-3.57zM456.33 56.00h3.57v6.00h-3.57zM456.33 50.00h3.57v6.00h-3.57zM456.33 44.00h3.57v6.00h-3.57zM456.33 38.00h3.57v6.00h-3.57zM456.33 32.00h3.57v6.00h-3.57zM456.33 26.00h3.57v6.00h-3.57zM467.04 62.00h3.57v6.00h-3.57zM467.04 56.00h3.57v6.00h-3.57zM467.04 50.00h3.57v6.00h-3.57zM467.04 44.00h3.57v6.00h-3.57zM467.04 38.00h3.57v6.00h-3.57zM467.04 32.00h3.57v6.00h-3.57zM467.04 26.00h3.57v6.00h-3.57zM470.61 170.00h3.57v6.00h-3.57zM474.19 104.00h3.57v6.00h-3.57zM474.19 98.00h3.57v6.00h-3.57zM477.76 98.00h3.57v6.00h-3.57zM477.76 92.00h3.57v6.00h-3.57zM477.76 86.00h3.57v6.00h-3.57zM481.33 86.00h3.57v6.00h-3.57zM481.33 80.00h3.57v6.00h-3.57zM481.33 74.00h3.57v6.00h-3.57zM481.33 68.00h3.57v6.00h-3.57zM481.33 62.00h3.57v6.00h-3.57zM481.33 56.00h3.57v6.00h-3.57zM481.33 50.00h3.57v6.00h-3.57zM481.33 44.00h3.57v6.00h-3.57zM481.33 38.00h3.57v6.00h-3.57zM481.33 32.00h3.57v6.00h-3.57zM481.33 26.00h3.57v6.00h-3.57zM484.90 104.00h3.57v6.00h-3.57zM484.90 98.00h3.57v6.00h-3.57zM488.47 104.00h3.57v6.00h-3.57zM488.47 98.00h3.57v6.00h-3.57zM488.47 92.00h3.57v6.00h-3.57zM492.04 110.00h3.57v6.00h-3.57zM492.04 104.00h3.57v6.00h-3.57zM492.04 98.00h3.57v6.00h-3.57zM495.61 116.00h3.57v6.00h-3.57zM495.61 110.00h3.57v6.00h-3.57zM495.61 104.00h3.57v6.00h-3.57zM495.61 98.00h3.57v6.00h-3.57zM495.61 92.00h3.57v6.00h-3.57zM499.19 128.00h3.57v6.00h-3.57zM499.19 122.00h3.57v6.00h-3.57zM506.33 188.00h3.57v6.00h-3.57zM509.90 164.00h3.57v6.00h-3.57zM513.47 182.00h3.57v6.00h-3.57zM513.47 176.00h3.57v6.00h-3.57zM517.04 182.00h3.57v6.00h-3.57zM517.04 176.00h3.57v6.00h-3.57zM520.61 206.00h3.57v6.00h-3.57z"/>
<path fill="#24c1ae" d="M449.19 20.00h3.57v6.00h-3.57zM449.19 14.00h3.57v6.00h-3.57zM449.19 8.00h3.57v6.00h-3.57zM449.19 2.00h3.57v6.00h-3.57zM452.76 20.00h3.57v6.00h-3.57zM452.76 14.00h3.57v6.00h-3.57zM452.76 8.00h3.57v6.00h-3.57zM452.76 2.00h3.57v6.00h-3.57zM456.33 20.00h3.57v6.00h-3.57zM456.33 14.00h3.57v6.00h-3.57zM456.33 8.00h3.57v6.00h-3.57zM456.33 2.00h3.57v6.00h-3.57zM467.04 20.00h3.57v6.00h-3.57zM467.04 14.00h3.57v6.00h-3.57zM467.04 8.00h3.57v6.00h-3.57zM467.04 2.00h3.57v6.00h-3.57zM470.61 164.00h3.57v6.00h-3.57zM474.19 92.00h3.57v6.00h-3.57zM474.19 86.00h3.57v6.00h-3.57zM477.76 80.00h3.57v6.00h-3.57zM477.76 74.00h3.57v6.00h-3.57zM477.76 68.00h3.57v6.00h-3.57zM477.76 62.00h3.57v6.00h-3.57zM477.76 56.00h3.57v6.00h-3.57zM477.76 50.00h3.57v6.00h-3.57zM477.76 44.00h3.57v6.00h-3.57zM477.76 38.00h3.57v6.00h-3.57zM477.76 32.00h3.57v6.00h-3.57zM477.76 26.00h3.57v6.00h-3.57zM481.33 20.00h3.57v6.00h-3.57zM481.33 14.00h3.57v6.00h-3.57zM481.33 8.00h3.57v6.00h-3.57zM481.33 2.00h3.57v6.00h-3.57zM484.90 92.00h3.57v6.00h-3.57zM484.90 86.00h3.57v6.00h-3.57zM488.47 86.00h3.57v6.00h-3.57zM488.47 80.00h3.57v6.00h-3.57zM488.47 74.00h3.57v6.00h-3.57zM488.47 68.00h3.57v6.00h-3.57zM488.47 62.00h3.57v6.00h-3.57zM488.47 56.00h3.57v6.00h-3.57zM488.47 50.00h3.57v6.00h-3.57zM488.47 44.00h3.57v6.00h-3.57zM488.47 38.00h3.57v6.00h-3.57zM488.47 32.00h3.57v6.00h-3.57zM488.47 26.00h3.57v6.00h-3.57zM488.47 20.00h3.57v6.00h-3.57zM488.47 14.00h3.57v6.00h-3.57zM488.47 8.00h3.57v6.00h-3.57zM488.47 2.00h3.57v6.00h-3.57zM492.04 92.00h3.57v6.00h-3.57zM495.61 86.00h3.57v6.00h-3.57zM495.61 80.00h3.57v6.00h-3.57zM495.61 74.00h3.57v6.00h-3.57zM495.61 68.00h3.57v6.00h-3.57zM495.61 62.00h3.57v6.00h-3.57zM495.61 56.00h3.57v6.00h-3.57zM495.61 50.00h3.57v6.00h-3.57zM495.61 44.00h3.57v6.00h-3.57zM495.61 38.00h3.57v6.00h-3.57zM495.61 32.00h3.57v6.00h-3.57zM495.61 26.00h3.57v6.00h-3.57zM499.19 116.00h3.57v6.00h-3.57zM499.19 110.00h3.57v6.00h-3.57zM506.33 182.00h3.57v6.00h-3.57zM506.33 176.00h3.57v6.00h-3.57zM509.90 158.00h3.57v6.00h-3.57zM513.47 170.00h3.57v6.00h-3.57zM517.04 170.00h3.57v6.00h-3.57zM517.04 152.00h3.57v6.00h-3.57zM520.61 200.00h3.57v6.00h-3.57z"/>
<path fill="#2cc4a7" d="M470.61 158.00h3.57v6.00h-3.57zM474.19 80.00h3.57v6.00h-3.57zM474.19 74.00h3.57v6.00h-3.57zM474.19 68.00h3.57v6.00h-3.57zM474.19 62.00h3.57v6.00h-3.57zM477.76 20.00h3.57v6.00h-3.57zM477.76 14.00h3.57v6.00h-3.57zM477.76 8.00h3.57v6.00h-3.57zM477.76 2.00h3.57v6.00h-3.57zM484.90 80.00h3.57v6.00h-3.57zM484.90 74.00h3.57v6.00h-3.57zM484.90 68.00h3.57v6.00h-3.57zM484.90 62.00h3.57v6.00h-3.57zM484.90 56.00h3.57v6.00h-3.57zM484.90 50.00h3.57v6.00h-3.57zM484.90 44.00h3.57v6.00h-3.57zM484.90 38.00h3.57v6.00h-3.57zM484.90 32.00h3.57v6.00h-3.57zM484.90 26.00h3.57v6.00h-3.57zM492.04 86.00h3.57v6.00h-3.57zM492.04 80.00h3.57v6.00h-3.57zM492.04 74.00h3.57v6.00h-3.57zM492.04 68.00h3.57v6.00h-3.57zM492.04 62.00h3.57v6.00h-3.57zM495.61 20.00h3.57v6.00h-3.57zM495.61 14.00h3.57v6.00h-3.57zM495.61 8.00h3.57v6.00h-3.57zM495.61 2.00h3.57v6.00h-3.57zM499.19 104.00h3.57v6.00h-3.57zM499.19 98.00h3.57v6.00h-3.57zM499.19 92.00h3.57v6.00h-3.57zM506.33 170.00h3.57v6.00h-3.57zM509.90 152.00h3.57v6.00h-3.57zM509.90 146.00h3.57v6.00h-3.57zM513.47 164.00h3.57v6.00h-3.57zM513.47 158.00h3.57v6.00h-3.57zM517.04 164.00h3.57v6.00h-3.57zM517.04 158.00h3.57v6.00h-3.57zM517.04 146.00h3.57v6.00h-3.57zM520.61 194.00h3.57v6.00h-3.57z"/>
<path fill="#31c69f" d="M470.61 152.00h3.57v6.00h-3.57zM474.19 56.00h3.57v6.00h-3.57zM474.19 50.00h3.57v6.00h-3.57zM474.19 44.00h3.57v6.00h-3.57zM474.19 38.00h3.57v6.00h-3.57zM484.90 20.00h3.57v6.00h-3.57zM484.90 14.00h3.57v6.00h-3.57zM484.90 8.00h3.57v6.00h-3.57zM484.90 2.00h3.57v6.00h-3.57zM492.04 56.00h3.57v6.00h-3.57zM492.04 50.00h3.57v6.00h-3.57zM492.04 44.00h3.57v6.00h-3.57zM492.04 38.00h3.57v6.00h-3.57zM499.19 86.00h3.57v6.00h-3.57zM499.19 80.00h3.57v6.00h-3.57zM499.19 74.00h3.57v6.00h-3.57zM499.19 68.00h3.57v6.00h-3.57zM506.33 164.00h3.57v6.00h-3.57zM509.90 140.00h3.57v6.00h-3.57zM513.47 152.00h3.57v6.00h-3.57zM517.04 140.00h3.57v6.00h-3.57zM520.61 188.00h3.57v6.00h-3.57zM531.33 212.00h3.57v5.00h-3.57zM531.33 206.00h3.57v6.00h-3.57zM534.90 212.00h3.57v5.00h-3.57zM534.90 206.00h3.57v6.00h-3.57z"/>
<path fill="#37c897" d="M470.61 146.00h3.57v6.00h-3.57zM474.19 32.00h3.57v6.00h-3.57zM474.19 26.00h3.57v6.00h-3.57zM474.19 20.00h3.57v6.00h-3.57zM492.04 32.00h3.57v6.00h-3.57zM492.04 26.00h3.57v6.00h-3.57zM492.04 20.00h3.57v6.00h-3.57zM499.19 62.00h3.57v6.00h-3.57zM499.19 56.00h3.57v6.00h-3.57zM499.19 50.00h3.57v6.00h-3.57zM499.19 44.00h3.57v6.00h-3.57zM499.19 38.00h3.57v6.00h-3.57zM506.33 158.00h3.57v6.00h-3.57zM506.33 152.00h3.57v6.00h-3.57zM509.90 134.00h3.57v6.00h-3.57zM513.47 146.00h3.57v6.00h-3.57zM513.47 140.00h3.57v6.00h-3.57zM513.47 134.00h3.57v6.00h-3.57zM517.04 134.00h3.57v6.00h-3.57zM520.61 182.00h3.57v6.00h-3.57zM531.33 200.00h3.57v6.00h-3.57zM531.33 194.00h3.57v6.00h-3.57zM531.33 188.00h3.57v6.00h-3.57zM534.90 200.00h3.57v6.00h-3.57zM538.47 212.00h3.57v5.00h-3.57zM538.47 206.00h3.57v6.00h-3.57z"/>
<path fill="#3fca8e" d="M470.61 140.00h3.57v6.00h-3.57zM474.19 14.00h3.57v6.00h-3.57zM474.19 8.00h3.57v6.00h-3.57zM474.19 2.00h3.57v6.00h-3.57zM492.04 14.00h3.57v6.00h-3.57zM492.04 8.00h3.57v6.00h-3.57zM492.04 2.00h3.57v6.00h-3.57zM499.19 32.00h3.57v6.00h-3.57zM499.19 26.00h3.57v6.00h-3.57zM499.19 20.00h3.57v6.00h-3.57zM506.33 146.00h3.57v6.00h-3.57zM509.90 128.00h3.57v6.00h-3.57zM509.90 122.00h3.57v6.00h-3.57zM513.47 128.00h3.57v6.00h-3.57zM517.04 128.00h3.57v6.00h-3.57zM520.61 176.00h3.57v6.00h-3.57zM527.76 170.00h3.57v6.00h-3.57zM527.76 164.00h3.57v6.00h-3.57zM531.33 182.00h3.57v6.00h-3.57zM531.33 176.00h3.57v6.00h-3.57zM534.90 194.00h3.57v6.00h-3.57zM534.90 188.00h3.57v6.00h-3.57zM538.47 200.00h3.57v6.00h-3.57zM542.04 212.00h3.57v5.00h-3.57zM542.04 206.00h3.57v6.00h-3.57z"/>
<path fill="#4acb84" d="M470.61 134.00h3.57v6.00h-3.57zM499.19 14.00h3.57v6.00h-3.57zM499.19 8.00h3.57v6.00h-3.57zM499.19 2.00h3.57v6.00h-3.57zM506.33 140.00h3.57v6.00h-3.57zM506.33 134.00h3.57v6.00h-3.57zM509.90 116.00h3.57v6.00h-3.57zM509.90 110.00h3.57v6.00h-3.57zM509.90 104.00h3.57v6.00h-3.57zM513.47 122.00h3.57v6.00h-3.57zM513.47 116.00h3.57v6.00h-3.57zM517.04 122.00h3.57v6.00h-3.57zM520.61 170.00h3.57v6.00h-3.57zM527.76 194.00h3.57v6.00h-3.57zM527.76 188.00h3.57v6.00h-3.57zM527.76 182.00h3.57v6.00h-3.57zM527.76 176.00h3.57v6.00h-3.57zM527.76 158.00h3.57v6.00h-3.57zM531.33 170.00h3.57v6.00h-3.57zM531.33 164.00h3.57v6.00h-3.57zM531.33 158.00h3.57v6.00h-3.57zM531.33 152.00h3.57v6.00h-3.57zM531.33 146.00h3.57v6.00h-3.57zM534.90 182.00h3.57v6.00h-3.57zM538.47 194.00h3.57v6.00h-3.57zM538.47 188.00h3.57v6.00h-3.57zM542.04 200.00h3.57v6.00h-3.57zM542.04 194.00h3.57v6.00h-3.57zM542.04 188.00h3.57v6.00h-3.57zM545.61 212.00h3.57v5.00h-3.57zM545.61 206.00h3.57v6.00h-3.57z"/>
<path fill="#57cc7a" d="M470.61 128.00h3.57v6.00h-3.57zM470.61 122.00h3.57v6.00h-3.57zM506.33 128.00h3.57v6.00h-3.57zM506.33 122.00h3.57v6.00h-3.57zM506.33 116.00h3.57v6.00h-3.57zM506.33 110.00h3.57v6.00h-3.57zM509.90 98.00h3.57v6.00h-3.57zM509.90 92.00h3.57v6.00h-3.57zM513.47 110.00h3.57v6.00h-3.57zM517.04 116.00h3.57v6.00h-3.57zM520.61 164.00h3.57v6.00h-3.57zM524.19 212.00h3.57v5.00h-3.57zM524.19 206.00h3.57v6.00h-3.57zM524.19 200.00h3.57v6.00h-3.57zM524.19 194.00h3.57v6.00h-3.57zM524.19 188.00h3.57v6.00h-3.57zM527.76 212.00h3.57v5.00h-3.57zM527.76 206.00h3.57v6.00h-3.57zM527.76 200.00h3.57v6.00h-3.57zM527.76 152.00h3.57v6.00h-3.57zM531.33 140.00h3.57v6.00h-3.57zM531.33 134.00h3.57v6.00h-3.57zM534.90 176.00h3.57v6.00h-3.57zM534.90 170.00h3.57v6.00h-3.57zM538.47 182.00h3.57v6.00h-3.57zM542.04 182.00h3.57v6.00h-3.57zM542.04 176.00h3.57v6.00h-3.57zM545.61 200.00h3.57v6.00h-3.57zM545.61 194.00h3.57v6.00h-3.57z"/>
<path fill="#64cd6f" d="M470.61 116.00h3.57v6.00h-3.57zM470.61 110.00h3.57v6.00h-3.57zM470.61 104.00h3.57v6.00h-3.57zM506.33 104.00h3.57v6.00h-3.57zM506.33 98.00h3.57v6.00h-3.57zM506.33 92.00h3.57v6.00h-3.57zM506.33 86.00h3.57v6.00h-3.57zM506.33 80.00h3.57v6.00h-3.57zM506.33 74.00h3.57v6.00h-3.57zM506.33 68.00h3.57v6.00h-3.57zM506.33 62.00h3.57v6.00h-3.57zM509.90 86.00h3.57v6.00h-3.57zM509.90 80.00h3.57v6.00h-3.57zM509.90 74.00h3.57v6.00h-3.57zM509.90 68.00h3.57v6.00h-3.57zM509.90 62.00h3.57v6.00h-3.57zM513.47 104.00h3.57v6.00h-3.57zM513.47 98.00h3.57v6.00h-3.57zM517.04 110.00h3.57v6.00h-3.57zM520.61 158.00h3.57v6.00h-3.57zM520.61 152.00h3.57v6.00h-3.57zM524.19 182.00h3.57v6.00h-3.57zM524.19 176.00h3.57v6.00h-3.57zM524.19 170.00h3.57v6.00h-3.57zM524.19 164.00h3.57v6.00h-3.57zM527.76 146.00h3.57v6.00h-3.57zM531.33 128.00h3.57v6.00h-3.57zM534.90 164.00h3.57v6.00h-3.57zM534.90 158.00h3.57v6.00h-3.57zM534.90 152.00h3.57v6.00h-3.57zM538.47 176.00h3.57v6.00h-3.57zM538.47 170.00h3.57v6.00h-3.57zM542.04 170.00h3.57v6.00h-3.57zM542.04 164.00h3.57v6.00h-3.57zM542.04 158.00h3.57v6.00h-3.57zM542.04 152.00h3.57v6.00h-3.57zM545.61 188.00h3.57v6.00h-3.57zM545.61 182.00h3.57v6.00h-3.57zM549.19 212.00h3.57v5.00h-3.57zM549.19 206.00h3.57v6.00h-3.57z"/>
<path fill="#72cd64" d="M470.61 98.00h3.57v6.00h-3.57zM470.61 92.00h3.57v6.00h-3.57zM506.33 56.00h3.57v6.00h-3.57zM506.33 50.00h3.57v6.00h-3.57zM506.33 44.00h3.57v6.00h-3.57zM506.33 38.00h3.57v6.00h-3.57zM506.33 32.00h3.57v6.00h-3.57zM506.33 26.00h3.57v6.00h-3.57zM509.90 56.00h3.57v6.00h-3.57zM509.90 50.00h3.57v6.00h-3.57zM509.90 44.00h3.57v6.00h-3.57zM509.90 38.00h3.57v6.00h-3.57zM509.90 32.00h3.57v6.00h-3.57zM509.90 26.00h3.57v6.00h-3.57zM513.47 92.00h3.57v6.00h-3.57zM513.47 86.00h3.57v6.00h-3.57zM517.04 104.00h3.57v6.00h-3.57zM517.04 98.00h3.57v6.00h-3.57zM517.04 92.00h3.57v6.00h-3.57zM517.04 86.00h3.57v6.00h-3.57zM517.04 80.00h3.57v6.00h-3.57zM517.04 74.00h3.57v6.00h-3.57zM517.04 68.00h3.57v6.00h-3.57zM517.04 62.00h3.57v6.00h-3.57zM517.04 56.00h3.57v6.00h-3.57zM520.61 146.00h3.57v6.00h-3.57zM527.76 140.00h3.57v6.00h-3.57zM531.33 122.00h3.57v6.00h-3.57zM534.90 146.00h3.57v6.00h-3.57zM538.47 164.00h3.57v6.00h-3.57zM542.04 146.00h3.57v6.00h-3.57zM545.61 176.00h3.57v6.00h-3.57zM545.61 170.00h3.57v6.00h-3.57zM549.19 200.00h3.57v6.00h-3.57zM549.19 194.00h3.57v6.00h-3.57z"/>
<path fill="#81cc59" d="M470.61 86.00h3.57v6.00h-3.57zM470.61 80.00h3.57v6.00h-3.57zM470.61 74.00h3.57v6.00h-3.57zM470.61 68.00h3.57v6.00h-3.57zM470.61 62.00h3.57v6.00h-3.57zM470.61 56.00h3.57v6.00h-3.57zM470.61 50.00h3.57v6.00h-3.57zM470.61 44.00h3.57v6.00h-3.57zM470.61 38.00h3.57v6.00h-3.57zM470.61 32.00h3.57v6.00h-3.57zM470.61 26.00h3.57v6.00h-3.57zM470.61 20.00h3.57v6.00h-3.57zM470.61 14.00h3.57v6.00h-3.57zM470.61 8.00h3.57v6.00h-3.57zM470.61 2.00h3.57v6.00h-3.57zM506.33 20.00h3.57v6.00h-3.57zM506.33 14.00h3.57v6.00h-3.57zM506.33 8.00h3.57v6.00h-3.57zM506.33 2.00h3.57v6.00h-3.57zM509.90 20.00h3.57v6.00h-3.57zM509.90 14.00h3.57v6.00h-3.57zM509.90 8.00h3.57v6.00h-3.57zM509.90 2.00h3.57v6.00h-3.57zM513.47 80.00h3.57v6.00h-3.57zM513.47 74.00h3.57v6.00h-3.57zM513.47 68.00h3.57v6.00h-3.57zM513.47 62.00h3.57v6.00h-3.57zM517.04 50.00h3.57v6.00h-3.57zM517.04 44.00h3.57v6.00h-3.57zM520.61 140.00h3.57v6.00h-3.57zM524.19 158.00h3.57v6.00h-3.57zM527.76 134.00h3.57v6.00h-3.57zM527.76 128.00h3.57v6.00h-3.57zM531.33 116.00h3.57v6.00h-3.57zM534.90 140.00h3.57v6.00h-3.57zM538.47 158.00h3.57v6.00h-3.57zM538.47 152.00h3.57v6.00h-3.57zM542.04 140.00h3.57v6.00h-3.57zM545.61 164.00h3.57v6.00h-3.57zM545.61 158.00h3.57v6.00h-3.57zM545.61 152.00h3.57v6.00h-3.57zM549.19 188.00h3.57v6.00h-3.57zM549.19 182.00h3.57v6.00h-3.57zM563.47 212.00h3.57v5.00h-3.57zM563.47 206.00h3.57v6.00h-3.57z"/>
<path fill="#8fcb4e" d="M513.47 56.00h3.57v6.00h-3.57zM513.47 50.00h3.57v6.00h-3.57zM513.47 44.00h3.57v6.00h-3.57zM513.47 38.00h3.57v6.00h-3.57zM513.47 32.00h3.57v6.00h-3.57zM513.47 26.00h3.57v6.00h-3.57zM517.04 38.00h3.57v6.00h-3.57zM517.04 32.00h3.57v6.00h-3.57zM520.61 134.00h3.57v6.00h-3.57zM520.61 128.00h3.57v6.00h-3.57zM520.61 122.00h3.57v6.00h-3.57zM527.76 122.00h3.57v6.00h-3.57zM531.33 110.00h3.57v6.00h-3.57zM534.90 134.00h3.57v6.00h-3.57zM538.47 146.00h3.57v6.00h-3.57zM538.47 140.00h3.57v6.00h-3.57zM542.04 134.00h3.57v6.00h-3.57zM542.04 128.00h3.57v6.00h-3.57zM545.61 146.00h3.57v6.00h-3.57zM545.61 140.00h3.57v6.00h-3.57zM549.19 176.00h3.57v6.00h-3.57zM549.19 170.00h3.57v6.00h-3.57zM549.19 152.00h3.57v6.00h-3.57zM563.47 200.00h3.57v6.00h-3.57zM563.47 194.00h3.57v6.00h-3.57zM567.04 212.00h3.57v5.00h-3.57zM567.04 206.00h3.57v6.00h-3.57zM570.61 212.00h3.57v5.00h-3.57zM570.61 206.00h3.57v6.00h-3.57zM570.61 200.00h3.57v6.00h-3.57z"/>
<path fill="#9dc943" d="M513.47 20.00h3.57v6.00h-3.57zM513.47 14.00h3.57v6.00h-3.57zM513.47 8.00h3.57v6.00h-3.57zM513.47 2.00h3.57v6.00h-3.57zM517.04 26.00h3.57v6.00h-3.57zM520.61 116.00h3.57v6.00h-3.57zM520.61 110.00h3.57v6.00h-3.57zM520.61 104.00h3.57v6.00h-3.57zM520.61 98.00h3.57v6.00h-3.57zM520.61 92.00h3.57v6.00h-3.57zM520.61 86.00h3.57v6.00h-3.57zM520.61 80.00h3.57v6.00h-3.57zM524.19 152.00h3.57v6.00h-3.57zM527.76 116.00h3.57v6.00h-3.57zM531.33 104.00h3.57v6.00h-3.57zM534.90 128.00h3.57v6.00h-3.57zM538.47 134.00h3.57v6.00h-3.57zM538.47 128.00h3.57v6.00h-3.57zM542.04 122.00h3.57v6.00h-3.57zM542.04 116.00h3.57v6.00h-3.57zM545.61 134.00h3.57v6.00h-3.57zM549.19 164.00h3.57v6.00h-3.57zM549.19 158.00h3.57v6.00h-3.57zM549.19 146.00h3.57v6.00h-3.57zM563.47 188.00h3.57v6.00h-3.57zM563.47 182.00h3.57v6.00h-3.57zM567.04 200.00h3.57v6.00h-3.57zM567.04 194.00h3.57v6.00h-3.57zM567.04 188.00h3.57v6.00h-3.57zM570.61 194.00h3.57v6.00h-3.57zM570.61 188.00h3.57v6.00h-3.57zM570.61 182.00h3.57v6.00h-3.57zM570.61 176.00h3.57v6.00h-3.57zM574.19 212.00h3.57v5.00h-3.57zM574.19 206.00h3.57v6.00h-3.57zM574.19 200.00h3.57v6.00h-3.57z"/>
<path fill="#abc739" d="M517.04 20.00h3.57v6.00h-3.57zM517.04 14.00h3.57v6.00h-3.57zM520.61 74.00h3.57v6.00h-3.57zM520.61 68.00h3.57v6.00h-3.57zM520.61 62.00h3.57v6.00h-3.57zM520.61 56.00h3.57v6.00h-3.57zM520.61 50.00h3.57v6.00h-3.57zM520.61 44.00h3.57v6.00h-3.57zM524.19 146.00h3.57v6.00h-3.57zM527.76 110.00h3.57v6.00h-3.57zM531.33 98.00h3.57v6.00h-3.57zM531.33 92.00h3.57v6.00h-3.57zM531.33 86.00h3.57v6.00h-3.57zM531.33 80.00h3.57v6.00h-3.57zM534.90 122.00h3.57v6.00h-3.57zM538.47 122.00h3.57v6.00h-3.57zM542.04 110.00h3.57v6.00h-3.57zM545.61 128.00h3.57v6.00h-3.57zM549.19 140.00h3.57v6.00h-3.57zM563.47 176.00h3.57v6.00h-3.57zM563.47 170.00h3.57v6.00h-3.57zM567.04 182.00h3.57v6.00h-3.57zM567.04 176.00h3.57v6.00h-3.57zM570.61 170.00h3.57v6.00h-3.57zM570.61 164.00h3.57v6.00h-3.57zM574.19 194.00h3.57v6.00h-3.57zM574.19 188.00h3.57v6.00h-3.57zM574.19 182.00h3.57v6.00h-3.57zM574.19 176.00h3.57v6.00h-3.57z"/>
<path fill="#b9c431" d="M517.04 8.00h3.57v6.00h-3.57zM517.04 2.00h3.57v6.00h-3.57zM520.61 38.00h3.57v6.00h-3.57zM520.61 32.00h3.57v6.00h-3.57zM520.61 26.00h3.57v6.00h-3.57zM520.61 20.00h3.57v6.00h-3.57zM524.19 140.00h3.57v6.00h-3.57zM527.76 104.00h3.57v6.00h-3.57zM527.76 98.00h3.57v6.00h-3.57zM527.76 92.00h3.57v6.00h-3.57zM527.76 86.00h3.57v6.00h-3.57zM527.76 80.00h3.57v6.00h-3.57zM531.33 74.00h3.57v6.00h-3.57zM531.33 68.00h3.57v6.00h-3.57zM531.33 62.00h3.57v6.00h-3.57zM531.33 56.00h3.57v6.00h-3.57zM531.33 50.00h3.57v6.00h-3.57zM534.90 116.00h3.57v6.00h-3.57zM538.47 116.00h3.57v6.00h-3.57zM538.47 110.00h3.57v6.00h-3.57zM542.04 104.00h3.57v6.00h-3.57zM542.04 98.00h3.57v6.00h-3.57zM545.61 122.00h3.57v6.00h-3.57zM549.19 134.00h3.57v6.00h-3.57zM563.47 164.00h3.57v6.00h-3.57zM563.47 158.00h3.57v6.00h-3.57zM567.04 170.00h3.57v6.00h-3.57zM567.04 164.00h3.57v6.00h-3.57zM567.04 158.00h3.57v6.00h-3.57zM570.61 158.00h3.57v6.00h-3.57zM574.19 170.00h3.57v6.00h-3.57zM574.19 164.00h3.57v6.00h-3.57z"/>
<path fill="#c5c22a" d="M520.61 14.00h3.57v6.00h-3.57zM520.61 8.00h3.57v6.00h-3.57zM524.19 134.00h3.57v6.00h-3.57zM524.19 128.00h3.57v6.00h-3.57zM527.76 74.00h3.57v6.00h-3.57zM527.76 68.00h3.57v6.00h-3.57zM527.76 62.00h3.57v6.00h-3.57zM527.76 56.00h3.57v6.00h-3.57zM527.76 50.00h3.57v6.00h-3.57zM531.33 44.00h3.57v6.00h-3.57zM534.90 110.00h3.57v6.00h-3.57zM538.47 104.00h3.57v6.00h-3.57zM538.47 98.00h3.57v6.00h-3.57zM542.04 92.00h3.57v6.00h-3.57zM542.04 86.00h3.57v6.00h-3.57zM545.61 116.00h3.57v6.00h-3.57zM549.19 128.00h3.57v6.00h-3.57zM563.47 152.00h3.57v6.00h-3.57zM563.47 146.00h3.57v6.00h-3.57zM567.04 152.00h3.57v6.00h-3.57zM567.04 146.00h3.57v6.00h-3.57zM574.19 158.00h3.57v6.00h-3.57zM577.76 212.00h3.57v5.00h-3.57zM577.76 206.00h3.57v6.00h-3.57z"/>
<path fill="#d1bf27" d="M524.19 122.00h3.57v6.00h-3.57zM524.19 116.00h3.57v6.00h-3.57zM524.19 110.00h3.57v6.00h-3.57zM527.76 44.00h3.57v6.00h-3.57zM527.76 38.00h3.57v6.00h-3.57zM527.76 32.00h3.57v6.00h-3.57zM534.90 104.00h3.57v6.00h-3.57zM534.90 98.00h3.57v6.00h-3.57zM534.90 92.00h3.57v6.00h-3.57zM538.47 92.00h3.57v6.00h-3.57zM538.47 86.00h3.57v6.00h-3.57zM538.47 80.00h3.57v6.00h-3.57zM542.04 80.00h3.57v6.00h-3.57zM542.04 74.00h3.57v6.00h-3.57zM545.61 110.00h3.57v6.00h-3.57zM549.19 122.00h3.57v6.00h-3.57zM549.19 116.00h3.57v6.00h-3.57zM563.47 140.00h3.57v6.00h-3.57zM563.47 134.00h3.57v6.00h-3.57zM563.47 128.00h3.57v6.00h-3.57zM567.04 140.00h3.57v6.00h-3.57zM567.04 134.00h3.57v6.00h-3.57zM570.61 152.00h3.57v6.00h-3.57zM574.19 152.00h3.57v6.00h-3.57zM577.76 200.00h3.57v6.00h-3.57z"/>
<path fill="#dcbd29" d="M524.19 104.00h3.57v6.00h-3.57zM524.19 98.00h3.57v6.00h-3.57zM524.19 92.00h3.57v6.00h-3.57zM524.19 86.00h3.57v6.00h-3.57zM524.19 80.00h3.57v6.00h-3.57zM524.19 74.00h3.57v6.00h-3.57zM524.19 68.00h3.57v6.00h-3.57zM524.19 62.00h3.57v6.00h-3.57zM524.19 56.00h3.57v6.00h-3.57zM524.19 50.00h3.57v6.00h-3.57zM534.90 86.00h3.57v6.00h-3.57zM534.90 80.00h3.57v6.00h-3.57zM534.90 74.00h3.57v6.00h-3.57zM534.90 68.00h3.57v6.00h-3.57zM538.47 74.00h3.57v6.00h-3.57zM538.47 68.00h3.57v6.00h-3.57zM542.04 68.00h3.57v6.00h-3.57zM545.61 104.00h3.57v6.00h-3.57zM563.47 122.00h3.57v6.00h-3.57zM570.61 146.00h3.57v6.00h-3.57zM570.61 140.00h3.57v6.00h-3.57zM577.76 194.00h3.57v6.00h-3.57zM577.76 188.00h3.57v6.00h-3.57z"/>
<path fill="#e6bb2d" d="M524.19 44.00h3.57v6.00h-3.57zM524.19 38.00h3.57v6.00h-3.57zM524.19 32.00h3.57v6.00h-3.57zM534.90 62.00h3.57v6.00h-3.57zM534.90 56.00h3.57v6.00h-3.57zM534.90 50.00h3.57v6.00h-3.57zM538.47 62.00h3.57v6.00h-3.57zM538.47 56.00h3.57v6.00h-3.57zM545.61 98.00h3.57v6.00h-3.57zM545.61 92.00h3.57v6.00h-3.57zM545.61 86.00h3.57v6.00h-3.57zM545.61 80.00h3.57v6.00h-3.57zM549.19 110.00h3.57v6.00h-3.57zM549.19 104.00h3.57v6.00h-3.57zM559.90 152.00h3.57v6.00h-3.57zM577.76 182.00h3.57v6.00h-3.57z"/>
<path fill="#f0ba36" d="M524.19 26.00h3.57v6.00h-3.57zM524.19 20.00h3.57v6.00h-3.57zM527.76 26.00h3.57v6.00h-3.57zM531.33 38.00h3.57v6.00h-3.57zM545.61 74.00h3.57v6.00h-3.57zM549.19 98.00h3.57v6.00h-3.57zM549.19 92.00h3.57v6.00h-3.57zM549.19 86.00h3.57v6.00h-3.57zM549.19 80.00h3.57v6.00h-3.57zM559.90 146.00h3.57v6.00h-3.57zM559.90 140.00h3.57v6.00h-3.57zM563.47 116.00h3.57v6.00h-3.57zM577.76 176.00h3.57v6.00h-3.57zM577.76 170.00h3.57v6.00h-3.57zM577.76 158.00h3.57v6.00h-3.57z"/>
<path fill="#f8ba3d" d="M502.76 212.00h3.57v5.00h-3.57zM502.76 206.00h3.57v6.00h-3.57zM502.76 200.00h3.57v6.00h-3.57zM502.76 194.00h3.57v6.00h-3.57zM502.76 188.00h3.57v6.00h-3.57zM527.76 20.00h3.57v6.00h-3.57zM534.90 44.00h3.57v6.00h-3.57zM534.90 38.00h3.57v6.00h-3.57zM538.47 50.00h3.57v6.00h-3.57zM552.76 212.00h3.57v5.00h-3.57zM552.76 206.00h3.57v6.00h-3.57zM552.76 200.00h3.57v6.00h-3.57zM552.76 194.00h3.57v6.00h-3.57zM552.76 188.00h3.57v6.00h-3.57zM552.76 182.00h3.57v6.00h-3.57zM552.76 176.00h3.57v6.00h-3.57zM552.76 170.00h3.57v6.00h-3.57zM552.76 164.00h3.57v6.00h-3.57zM552.76 158.00h3.57v6.00h-3.57zM552.76 152.00h3.57v6.00h-3.57zM552.76 146.00h3.57v6.00h-3.57zM559.90 134.00h3.57v6.00h-3.57zM559.90 128.00h3.57v6.00h-3.57zM559.90 122.00h3.57v6.00h-3.57zM559.90 116.00h3.57v6.00h-3.57zM559.90 110.00h3.57v6.00h-3.57zM559.90 104.00h3.57v6.00h-3.57zM559.90 98.00h3.57v6.00h-3.57zM563.47 110.00h3.57v6.00h-3.57zM570.61 128.00h3.57v6.00h-3.57zM570.61 122.00h3.57v6.00h-3.57zM574.19 146.00h3.57v6.00h-3.57zM577.76 164.00h3.57v6.00h-3.57zM577.76 140.00h3.57v6.00h-3.57zM581.33 212.00h3.57v5.00h-3.57zM581.33 206.00h3.57v6.00h-3.57z"/>
<path fill="#febe3c" d="M502.76 182.00h3.57v6.00h-3.57zM502.76 176.00h3.57v6.00h-3.57zM502.76 170.00h3.57v6.00h-3.57zM502.76 164.00h3.57v6.00h-3.57zM502.76 20.00h3.57v6.00h-3.57zM502.76 14.00h3.57v6.00h-3.57zM502.76 8.00h3.57v6.00h-3.57zM502.76 2.00h3.57v6.00h-3.57zM520.61 2.00h3.57v6.00h-3.57zM524.19 14.00h3.57v6.00h-3.57zM524.19 8.00h3.57v6.00h-3.57zM538.47 44.00h3.57v6.00h-3.57zM542.04 62.00h3.57v6.00h-3.57zM542.04 56.00h3.57v6.00h-3.57zM545.61 68.00h3.57v6.00h-3.57zM552.76 140.00h3.57v6.00h-3.57zM552.76 134.00h3.57v6.00h-3.57zM552.76 128.00h3.57v6.00h-3.57zM552.76 122.00h3.57v6.00h-3.57zM552.76 116.00h3.57v6.00h-3.57zM552.76 110.00h3.57v6.00h-3.57zM552.76 104.00h3.57v6.00h-3.57zM552.76 98.00h3.57v6.00h-3.57zM552.76 92.00h3.57v6.00h-3.57zM552.76 80.00h3.57v6.00h-3.57zM563.47 104.00h3.57v6.00h-3.57zM567.04 128.00h3.57v6.00h-3.57zM567.04 122.00h3.57v6.00h-3.57zM567.04 116.00h3.57v6.00h-3.57zM567.04 110.00h3.57v6.00h-3.57zM574.19 134.00h3.57v6.00h-3.57zM574.19 128.00h3.57v6.00h-3.57zM577.76 152.00h3.57v6.00h-3.57zM577.76 146.00h3.57v6.00h-3.57zM581.33 200.00h3.57v6.00h-3.57zM581.33 194.00h3.57v6.00h-3.57zM581.33 188.00h3.57v6.00h-3.57zM584.90 212.00h3.57v5.00h-3.57zM584.90 206.00h3.57v6.00h-3.57z"/>
<path fill="#fec338" d="M502.76 158.00h3.57v6.00h-3.57zM502.76 152.00h3.57v6.00h-3.57zM502.76 146.00h3.57v6.00h-3.57zM502.76 62.00h3.57v6.00h-3.57zM502.76 56.00h3.57v6.00h-3.57zM502.76 50.00h3.57v6.00h-3.57zM502.76 44.00h3.57v6.00h-3.57zM502.76 38.00h3.57v6.00h-3.57zM502.76 32.00h3.57v6.00h-3.57zM502.76 26.00h3.57v6.00h-3.57zM531.33 32.00h3.57v6.00h-3.57zM545.61 62.00h3.57v6.00h-3.57zM549.19 74.00h3.57v6.00h-3.57zM552.76 86.00h3.57v6.00h-3.57zM570.61 134.00h3.57v6.00h-3.57zM574.19 140.00h3.57v6.00h-3.57zM581.33 182.00h3.57v6.00h-3.57zM581.33 176.00h3.57v6.00h-3.57zM584.90 200.00h3.57v6.00h-3.57zM584.90 194.00h3.57v6.00h-3.57zM584.90 188.00h3.57v6.00h-3.57z"/>
<path fill="#fec934" d="M502.76 140.00h3.57v6.00h-3.57zM502.76 98.00h3.57v6.00h-3.57zM502.76 92.00h3.57v6.00h-3.57zM502.76 86.00h3.57v6.00h-3.57zM502.76 80.00h3.57v6.00h-3.57zM502.76 74.00h3.57v6.00h-3.57zM502.76 68.00h3.57v6.00h-3.57zM531.33 26.00h3.57v6.00h-3.57zM556.33 104.00h3.57v6.00h-3.57zM556.33 98.00h3.57v6.00h-3.57zM556.33 92.00h3.57v6.00h-3.57zM556.33 86.00h3.57v6.00h-3.57zM559.90 158.00h3.57v6.00h-3.57zM581.33 170.00h3.57v6.00h-3.57zM581.33 164.00h3.57v6.00h-3.57zM581.33 158.00h3.57v6.00h-3.57zM581.33 152.00h3.57v6.00h-3.57zM584.90 182.00h3.57v6.00h-3.57zM584.90 176.00h3.57v6.00h-3.57zM588.47 212.00h3.57v5.00h-3.57zM588.47 206.00h3.57v6.00h-3.57zM588.47 200.00h3.57v6.00h-3.57zM592.04 212.00h3.57v5.00h-3.57zM592.04 206.00h3.57v6.00h-3.57zM592.04 200.00h3.57v6.00h-3.57zM592.04 194.00h3.57v6.00h-3.57zM592.04 188.00h3.57v6.00h-3.57zM592.04 182.00h3.57v6.00h-3.57zM592.04 176.00h3.57v6.00h-3.57zM592.04 170.00h3.57v6.00h-3.57zM599.19 212.00h3.57v5.00h-3.57zM599.19 206.00h3.57v6.00h-3.57zM599.19 200.00h3.57v6.00h-3.57zM599.19 194.00h3.57v6.00h-3.57zM599.19 188.00h3.57v6.00h-3.57zM599.19 182.00h3.57v6.00h-3.57z"/>
<path fill="#fccf30" d="M502.76 134.00h3.57v6.00h-3.57zM502.76 128.00h3.57v6.00h-3.57zM502.76 122.00h3.57v6.00h-3.57zM502.76 116.00h3.57v6.00h-3.57zM502.76 110.00h3.57v6.00h-3.57zM502.76 104.00h3.57v6.00h-3.57zM556.33 116.00h3.57v6.00h-3.57zM556.33 110.00h3.57v6.00h-3.57zM559.90 212.00h3.57v5.00h-3.57zM559.90 206.00h3.57v6.00h-3.57zM584.90 170.00h3.57v6.00h-3.57zM584.90 164.00h3.57v6.00h-3.57zM584.90 158.00h3.57v6.00h-3.57z"/>
<path fill="#fad62d" d="M556.33 122.00h3.57v6.00h-3.57zM559.90 200.00h3.57v6.00h-3.57zM559.90 194.00h3.57v6.00h-3.57zM588.47 194.00h3.57v6.00h-3.57zM588.47 188.00h3.57v6.00h-3.57zM588.47 182.00h3.57v6.00h-3.57zM588.47 176.00h3.57v6.00h-3.57zM588.47 170.00h3.57v6.00h-3.57zM595.61 212.00h3.57v5.00h-3.57zM595.61 206.00h3.57v6.00h-3.57zM595.61 200.00h3.57v6.00h-3.57zM595.61 194.00h3.57v6.00h-3.57zM595.61 188.00h3.57v6.00h-3.57zM595.61 182.00h3.57v6.00h-3.57zM595.61 176.00h3.57v6.00h-3.57zM595.61 170.00h3.57v6.00h-3.57z"/>
<path fill="#f7dc2a" d="M527.76 14.00h3.57v6.00h-3.57zM534.90 32.00h3.57v6.00h-3.57zM542.04 50.00h3.57v6.00h-3.57zM549.19 68.00h3.57v6.00h-3.57zM556.33 152.00h3.57v6.00h-3.57zM556.33 146.00h3.57v6.00h-3.57zM556.33 140.00h3.57v6.00h-3.57zM556.33 134.00h3.57v6.00h-3.57zM556.33 128.00h3.57v6.00h-3.57zM559.90 188.00h3.57v6.00h-3.57zM559.90 182.00h3.57v6.00h-3.57zM559.90 92.00h3.57v6.00h-3.57zM570.61 116.00h3.57v6.00h-3.57zM581.33 146.00h3.57v6.00h-3.57zM599.19 176.00h3.57v6.00h-3.57zM599.19 170.00h3.57v6.00h-3.57z"/>
<path fill="#f5e327" d="M524.19 2.00h3.57v6.00h-3.57zM545.61 56.00h3.57v6.00h-3.57zM552.76 74.00h3.57v6.00h-3.57zM559.90 176.00h3.57v6.00h-3.57zM559.90 170.00h3.57v6.00h-3.57zM563.47 98.00h3.57v6.00h-3.57zM577.76 134.00h3.57v6.00h-3.57zM613.47 212.00h3.57v5.00h-3.57zM613.47 206.00h3.57v6.00h-3.57zM613.47 200.00h3.57v6.00h-3.57zM613.47 194.00h3.57v6.00h-3.57zM613.47 188.00h3.57v6.00h-3.57z"/>
<path fill="#f5e924" d="M531.33 20.00h3.57v6.00h-3.57zM538.47 38.00h3.57v6.00h-3.57zM538.47 14.00h3.57v6.00h-3.57zM542.04 2.00h3.57v6.00h-3.57zM545.61 26.00h3.57v6.00h-3.57zM549.19 2.00h3.57v6.00h-3.57zM552.76 44.00h3.57v6.00h-3.57zM552.76 38.00h3.57v6.00h-3.57zM552.76 32.00h3.57v6.00h-3.57zM556.33 158.00h3.57v6.00h-3.57zM556.33 80.00h3.57v6.00h-3.57zM559.90 164.00h3.57v6.00h-3.57zM559.90 8.00h3.57v6.00h-3.57zM559.90 2.00h3.57v6.00h-3.57zM563.47 92.00h3.57v6.00h-3.57zM563.47 26.00h3.57v6.00h-3.57zM567.04 104.00h3.57v6.00h-3.57zM567.04 86.00h3.57v6.00h-3.57zM567.04 74.00h3.57v6.00h-3.57zM567.04 56.00h3.57v6.00h-3.57zM567.04 26.00h3.57v6.00h-3.57zM567.04 20.00h3.57v6.00h-3.57zM567.04 2.00h3.57v6.00h-3.57zM570.61 110.00h3.57v6.00h-3.57zM570.61 62.00h3.57v6.00h-3.57zM570.61 38.00h3.57v6.00h-3.57zM570.61 32.00h3.57v6.00h-3.57zM570.61 20.00h3.57v6.00h-3.57zM574.19 122.00h3.57v6.00h-3.57zM574.19 74.00h3.57v6.00h-3.57zM574.19 68.00h3.57v6.00h-3.57zM574.19 50.00h3.57v6.00h-3.57zM577.76 116.00h3.57v6.00h-3.57zM577.76 98.00h3.57v6.00h-3.57zM577.76 86.00h3.57v6.00h-3.57zM577.76 80.00h3.57v6.00h-3.57zM577.76 62.00h3.57v6.00h-3.57zM577.76 56.00h3.57v6.00h-3.57zM581.33 134.00h3.57v6.00h-3.57zM581.33 110.00h3.57v6.00h-3.57zM581.33 62.00h3.57v6.00h-3.57zM581.33 44.00h3.57v6.00h-3.57zM584.90 152.00h3.57v6.00h-3.57zM584.90 128.00h3.57v6.00h-3.57zM584.90 80.00h3.57v6.00h-3.57zM584.90 44.00h3.57v6.00h-3.57zM584.90 20.00h3.57v6.00h-3.57zM588.47 164.00h3.57v6.00h-3.57zM588.47 86.00h3.57v6.00h-3.57zM588.47 20.00h3.57v6.00h-3.57zM588.47 8.00h3.57v6.00h-3.57zM592.04 164.00h3.57v6.00h-3.57zM592.04 140.00h3.57v6.00h-3.57zM592.04 116.00h3.57v6.00h-3.57zM592.04 98.00h3.57v6.00h-3.57zM592.04 92.00h3.57v6.00h-3.57zM592.04 86.00h3.57v6.00h-3.57zM592.04 74.00h3.57v6.00h-3.57zM592.04 68.00h3.57v6.00h-3.57zM595.61 122.00h3.57v6.00h-3.57zM595.61 92.00h3.57v6.00h-3.57zM595.61 32.00h3.57v6.00h-3.57zM595.61 20.00h3.57v6.00h-3.57zM599.19 140.00h3.57v6.00h-3.57zM599.19 92.00h3.57v6.00h-3.57zM599.19 86.00h3.57v6.00h-3.57zM599.19 50.00h3.57v6.00h-3.57zM599.19 32.00h3.57v6.00h-3.57zM599.19 14.00h3.57v6.00h-3.57zM602.76 212.00h3.57v5.00h-3.57zM602.76 206.00h3.57v6.00h-3.57zM602.76 200.00h3.57v6.00h-3.57zM602.76 194.00h3.57v6.00h-3.57zM602.76 188.00h3.57v6.00h-3.57zM602.76 182.00h3.57v6.00h-3.57zM602.76 176.00h3.57v6.00h-3.57zM602.76 170.00h3.57v6.00h-3.57zM624.19 212.00h3.57v5.00h-3.57zM624.19 206.00h3.57v6.00h-3.57zM624.19 200.00h3.57v6.00h-3.57zM624.19 194.00h3.57v6.00h-3.57z"/>
<path fill="#f6ef20" d="M527.76 8.00h3.57v6.00h-3.57zM542.04 44.00h3.57v6.00h-3.57zM549.19 62.00h3.57v6.00h-3.57zM556.33 50.00h3.57v6.00h-3.57zM559.90 50.00h3.57v6.00h-3.57zM570.61 98.00h3.57v6.00h-3.57zM570.61 2.00h3.57v6.00h-3.57zM574.19 56.00h3.57v6.00h-3.57zM581.33 140.00h3.57v6.00h-3.57zM581.33 128.00h3.57v6.00h-3.57zM581.33 122.00h3.57v6.00h-3.57zM581.33 92.00h3.57v6.00h-3.57zM584.90 32.00h3.57v6.00h-3.57zM592.04 134.00h3.57v6.00h-3.57zM595.61 128.00h3.57v6.00h-3.57zM595.61 104.00h3.57v6.00h-3.57zM595.61 68.00h3.57v6.00h-3.57zM595.61 14.00h3.57v6.00h-3.57zM599.19 158.00h3.57v6.00h-3.57zM599.19 116.00h3.57v6.00h-3.57zM606.33 212.00h3.57v5.00h-3.57zM606.33 206.00h3.57v6.00h-3.57zM606.33 200.00h3.57v6.00h-3.57zM606.33 194.00h3.57v6.00h-3.57zM606.33 188.00h3.57v6.00h-3.57zM606.33 182.00h3.57v6.00h-3.57zM606.33 176.00h3.57v6.00h-3.57zM606.33 170.00h3.57v6.00h-3.57zM609.90 212.00h3.57v5.00h-3.57zM609.90 206.00h3.57v6.00h-3.57zM609.90 200.00h3.57v6.00h-3.57zM609.90 194.00h3.57v6.00h-3.57zM609.90 188.00h3.57v6.00h-3.57zM609.90 182.00h3.57v6.00h-3.57zM609.90 176.00h3.57v6.00h-3.57zM609.90 170.00h3.57v6.00h-3.57z"/>
<path fill="#f7f51b" d="M527.76 2.00h3.57v6.00h-3.57zM531.33 14.00h3.57v6.00h-3.57zM531.33 8.00h3.57v6.00h-3.57zM531.33 2.00h3.57v6.00h-3.57zM534.90 26.00h3.57v6.00h-3.57zM534.90 20.00h3.57v6.00h-3.57zM534.90 14.00h3.57v6.00h-3.57zM534.90 8.00h3.57v6.00h-3.57zM534.90 2.00h3.57v6.00h-3.57zM538.47 32.00h3.57v6.00h-3.57zM538.47 26.00h3.57v6.00h-3.57zM538.47 20.00h3.57v6.00h-3.57zM538.47 8.00h3.57v6.00h-3.57zM538.47 2.00h3.57v6.00h-3.57zM542.04 38.00h3.57v6.00h-3.57zM542.04 32.00h3.57v6.00h-3.57zM542.04 26.00h3.57v6.00h-3.57zM542.04 20.00h3.57v6.00h-3.57zM542.04 14.00h3.57v6.00h-3.57zM542.04 8.00h3.57v6.00h-3.57zM545.61 50.00h3.57v6.00h-3.57zM545.61 44.00h3.57v6.00h-3.57zM545.61 38.00h3.57v6.00h-3.57zM545.61 32.00h3.57v6.00h-3.57zM545.61 20.00h3.57v6.00h-3.57zM545.61 14.00h3.57v6.00h-3.57zM545.61 8.00h3.57v6.00h-3.57zM545.61 2.00h3.57v6.00h-3.57zM549.19 56.00h3.57v6.00h-3.57zM549.19 50.00h3.57v6.00h-3.57zM549.19 44.00h3.57v6.00h-3.57zM549.19 38.00h3.57v6.00h-3.57zM549.19 32.00h3.57v6.00h-3.57zM549.19 26.00h3.57v6.00h-3.57zM549.19 20.00h3.57v6.00h-3.57zM549.19 14.00h3.57v6.00h-3.57zM549.19 8.00h3.57v6.00h-3.57zM552.76 68.00h3.57v6.00h-3.57zM552.76 62.00h3.57v6.00h-3.57zM552.76 56.00h3.57v6.00h-3.57zM552.76 50.00h3.57v6.00h-3.57zM552.76 26.00h3.57v6.00h-3.57zM552.76 20.00h3.57v6.00h-3.57zM552.76 14.00h3.57v6.00h-3.57zM552.76 8.00h3.57v6.00h-3.57zM552.76 2.00h3.57v6.00h-3.57zM556.33 212.00h3.57v5.00h-3.57zM556.33 206.00h3.57v6.00h-3.57zM556.33 200.00h3.57v6.00h-3.57zM556.33 194.00h3.57v6.00h-3.57zM556.33 188.00h3.57v6.00h-3.57zM556.33 182.00h3.57v6.00h-3.57zM556.33 176.00h3.57v6.00h-3.57zM556.33 170.00h3.57v6.00h-3.57zM556.33 164.00h3.57v6.00h-3.57zM556.33 74.00h3.57v6.00h-3.57zM556.33 68.00h3.57v6.00h-3.57zM556.33 62.00h3.57v6.00h-3.57zM556.33 56.00h3.57v6.00h-3.57zM556.33 44.00h3.57v6.00h-3.57zM556.33 38.00h3.57v6.00h-3.57zM556.33 32.00h3.57v6.00h-3.57zM556.33 26.00h3.57v6.00h-3.57zM556.33 20.00h3.57v6.00h-3.57zM556.33 14.00h3.57v6.00h-3.57zM556.33 8.00h3.57v6.00h-3.57zM556.33 2.00h3.57v6.00h-3.57zM559.90 86.00h3.57v6.00h-3.57zM559.90 80.00h3.57v6.00h-3.57zM559.90 74.00h3.57v6.00h-3.57zM559.90 68.00h3.57v6.00h-3.57zM559.90 62.00h3.57v6.00h-3.57zM559.90 56.00h3.57v6.00h-3.57zM559.90 44.00h3.57v6.00h-3.57zM559.90 38.00h3.57v6.00h-3.57zM559.90 32.00h3.57v6.00h-3.57zM559.90 26.00h3.57v6.00h-3.57zM559.90 20.00h3.57v6.00h-3.57zM559.90 14.00h3.57v6.00h-3.57zM563.47 86.00h3.57v6.00h-3.57zM563.47 80.00h3.57v6.00h-3.57zM563.47 74.00h3.57v6.00h-3.57zM563.47 68.00h3.57v6.00h-3.57zM563.47 62.00h3.57v6.00h-3.57zM563.47 56.00h3.57v6.00h-3.57zM563.47 50.00h3.57v6.00h-3.57zM563.47 44.00h3.57v6.00h-3.57zM563.47 38.00h3.57v6.00h-3.57zM563.47 32.00h3.57v6.00h-3.57zM563.47 20.00h3.57v6.00h-3.57zM563.47 14.00h3.57v6.00h-3.57zM563.47 8.00h3.57v6.00h-3.57zM563.47 2.00h3.57v6.00h-3.57zM567.04 98.00h3.57v6.00h-3.57zM567.04 92.00h3.57v6.00h-3.57zM567.04 80.00h3.57v6.00h-3.57zM567.04 68.00h3.57v6.00h-3.57zM567.04 62.00h3.57v6.00h-3.57zM567.04 50.00h3.57v6.00h-3.57zM567.04 44.00h3.57v6.00h-3.57zM567.04 38.00h3.57v6.00h-3.57zM567.04 32.00h3.57v6.00h-3.57zM567.04 14.00h3.57v6.00h-3.57zM567.04 8.00h3.57v6.00h-3.57zM570.61 104.00h3.57v6.00h-3.57zM570.61 92.00h3.57v6.00h-3.57zM570.61 86.00h3.57v6.00h-3.57zM570.61 80.00h3.57v6.00h-3.57zM570.61 74.00h3.57v6.00h-3.57zM570.61 68.00h3.57v6.00h-3.57zM570.61 56.00h3.57v6.00h-3.57zM570.61 50.00h3.57v6.00h-3.57zM570.61 44.00h3.57v6.00h-3.57zM570.61 26.00h3.57v6.00h-3.57zM570.61 14.00h3.57v6.00h-3.57zM570.61 8.00h3.57v6.00h-3.57zM574.19 116.00h3.57v6.00h-3.57zM574.19 110.00h3.57v6.00h-3.57zM574.19 104.00h3.57v6.00h-3.57zM574.19 98.00h3.57v6.00h-3.57zM574.19 92.00h3.57v6.00h-3.57zM574.19 86.00h3.57v6.00h-3.57zM574.19 80.00h3.57v6.00h-3.57zM574.19 62.00h3.57v6.00h-3.57zM574.19 44.00h3.57v6.00h-3.57zM574.19 38.00h3.57v6.00h-3.57zM574.19 32.00h3.57v6.00h-3.57zM574.19 26.00h3.57v6.00h-3.57zM574.19 20.00h3.57v6.00h-3.57zM574.19 14.00h3.57v6.00h-3.57zM574.19 8.00h3.57v6.00h-3.57zM574.19 2.00h3.57v6.00h-3.57zM577.76 128.00h3.57v6.00h-3.57zM577.76 122.00h3.57v6.00h-3.57zM577.76 110.00h3.57v6.00h-3.57zM577.76 104.00h3.57v6.00h-3.57zM577.76 92.00h3.57v6.00h-3.57zM577.76 74.00h3.57v6.00h-3.57zM577.76 68.00h3.57v6.00h-3.57zM577.76 50.00h3.57v6.00h-3.57zM577.76 44.00h3.57v6.00h-3.57zM577.76 38.00h3.57v6.00h-3.57zM577.76 32.00h3.57v6.00h-3.57zM577.76 26.00h3.57v6.00h-3.57zM577.76 20.00h3.57v6.00h-3.57zM577.76 14.00h3.57v6.00h-3.57zM577.76 8.00h3.57v6.00h-3.57zM577.76 2.00h3.57v6.00h-3.57zM581.33 116.00h3.57v6.00h-3.57zM581.33 104.00h3.57v6.00h-3.57zM581.33 98.00h3.57v6.00h-3.57zM581.33 86.00h3.57v6.00h-3.57zM581.33 80.00h3.57v6.00h-3.57zM581.33 74.00h3.57v6.00h-3.57zM581.33 68.00h3.57v6.00h-3.57zM581.33 56.00h3.57v6.00h-3.57zM581.33 50.00h3.57v6.00h-3.57zM581.33 38.00h3.57v6.00h-3.57zM581.33 32.00h3.57v6.00h-3.57zM581.33 26.00h3.57v6.00h-3.57zM581.33 20.00h3.57v6.00h-3.57zM581.33 14.00h3.57v6.00h-3.57zM581.33 8.00h3.57v6.00h-3.57zM581.33 2.00h3.57v6.00h-3.57zM584.90 146.00h3.57v6.00h-3.57zM584.90 140.00h3.57v6.00h-3.57zM584.90 134.00h3.57v6.00h-3.57zM584.90 122.00h3.57v6.00h-3.57zM584.90 116.00h3.57v6.00h-3.57zM584.90 110.00h3.57v6.00h-3.57zM584.90 104.00h3.57v6.00h-3.57zM584.90 98.00h3.57v6.00h-3.57zM584.90 92.00h3.57v6.00h-3.57zM584.90 86.00h3.57v6.00h-3.57zM584.90 74.00h3.57v6.00h-3.57zM584.90 68.00h3.57v6.00h-3.57zM584.90 62.00h3.57v6.00h-3.57zM584.90 56.00h3.57v6.00h-3.57zM584.90 50.00h3.57v6.00h-3.57zM584.90 38.00h3.57v6.00h-3.57zM584.90 26.00h3.57v6.00h-3.57zM584.90 14.00h3.57v6.00h-3.57zM584.90 8.00h3.57v6.00h-3.57zM584.90 2.00h3.57v6.00h-3.57zM588.47 158.00h3.57v6.00h-3.57zM588.47 152.00h3.57v6.00h-3.57zM588.47 146.00h3.57v6.00h-3.57zM588.47 140.00h3.57v6.00h-3.57zM588.47 134.00h3.57v6.00h-3.57zM588.47 128.00h3.57v6.00h-3.57zM588.47 122.00h3.57v6.00h-3.57zM588.47 116.00h3.57v6.00h-3.57zM588.47 110.00h3.57v6.00h-3.57zM588.47 104.00h3.57v6.00h-3.57zM588.47 98.00h3.57v6.00h-3.57zM588.47 92.00h3.57v6.00h-3.57zM588.47 80.00h3.57v6.00h-3.57zM588.47 74.00h3.57v6.00h-3.57zM588.47 68.00h3.57v6.00h-3.57zM588.47 62.00h3.57v6.00h-3.57zM588.47 56.00h3.57v6.00h-3.57zM588.47 50.00h3.57v6.00h-3.57zM588.47 44.00h3.57v6.00h-3.57zM588.47 38.00h3.57v6.00h-3.57zM588.47 32.00h3.57v6.00h-3.57zM588.47 26.00h3.57v6.00h-3.57zM588.47 14.00h3.57v6.00h-3.57zM588.47 2.00h3.57v6.00h-3.57zM592.04 158.00h3.57v6.00h-3.57zM592.04 152.00h3.57v6.00h-3.57zM592.04 146.00h3.57v6.00h-3.57zM592.04 128.00h3.57v6.00h-3.57zM592.04 122.00h3.57v6.00h-3.57zM592.04 110.00h3.57v6.00h-3.57zM592.04 104.00h3.57v6.00h-3.57zM592.04 80.00h3.57v6.00h-3.57zM592.04 62.00h3.57v6.00h-3.57zM592.04 56.00h3.57v6.00h-3.57zM592.04 50.00h3.57v6.00h-3.57zM592.04 44.00h3.57v6.00h-3.57zM592.04 38.00h3.57v6.00h-3.57zM592.04 32.00h3.57v6.00h-3.57zM592.04 26.00h3.57v6.00h-3.57zM592.04 20.00h3.57v6.00h-3.57zM592.04 14.00h3.57v6.00h-3.57zM592.04 8.00h3.57v6.00h-3.57zM592.04 2.00h3.57v6.00h-3.57zM595.61 164.00h3.57v6.00h-3.57zM595.61 158.00h3.57v6.00h-3.57zM595.61 152.00h3.57v6.00h-3.57zM595.61 146.00h3.57v6.00h-3.57zM595.61 140.00h3.57v6.00h-3.57zM595.61 134.00h3.57v6.00h-3.57zM595.61 116.00h3.57v6.00h-3.57zM595.61 110.00h3.57v6.00h-3.57zM595.61 98.00h3.57v6.00h-3.57zM595.61 86.00h3.57v6.00h-3.57zM595.61 80.00h3.57v6.00h-3.57zM595.61 74.00h3.57v6.00h-3.57zM595.61 62.00h3.57v6.00h-3.57zM595.61 56.00h3.57v6.00h-3.57zM595.61 50.00h3.57v6.00h-3.57zM595.61 44.00h3.57v6.00h-3.57zM595.61 38.00h3.57v6.00h-3.57zM595.61 26.00h3.57v6.00h-3.57zM595.61 8.00h3.57v6.00h-3.57zM595.61 2.00h3.57v6.00h-3.57zM599.19 164.00h3.57v6.00h-3.57zM599.19 152.00h3.57v6.00h-3.57zM599.19 146.00h3.57v6.00h-3.57zM599.19 134.00h3.57v6.00h-3.57zM599.19 128.00h3.57v6.00h-3.57zM599.19 122.00h3.57v6.00h-3.57zM599.19 110.00h3.57v6.00h-3.57zM599.19 104.00h3.57v6.00h-3.57zM599.19 98.00h3.57v6.00h-3.57zM599.19 80.00h3.57v6.00h-3.57zM599.19 74.00h3.57v6.00h-3.57zM599.19 68.00h3.57v6.00h-3.57zM599.19 62.00h3.57v6.00h-3.57zM599.19 56.00h3.57v6.00h-3.57zM599.19 44.00h3.57v6.00h-3.57zM599.19 38.00h3.57v6.00h-3.57zM599.19 26.00h3.57v6.00h-3.57zM599.19 20.00h3.57v6.00h-3.57zM599.19 8.00h3.57v6.00h-3.57zM599.19 2.00h3.57v6.00h-3.57zM602.76 164.00h3.57v6.00h-3.57zM602.76 158.00h3.57v6.00h-3.57zM602.76 152.00h3.57v6.00h-3.57zM602.76 146.00h3.57v6.00h-3.57zM602.76 140.00h3.57v6.00h-3.57zM602.76 134.00h3.57v6.00h-3.57zM602.76 128.00h3.57v6.00h-3.57zM602.76 122.00h3.57v6.00h-3.57zM602.76 116.00h3.57v6.00h-3.57zM602.76 110.00h3.57v6.00h-3.57zM602.76 104.00h3.57v6.00h-3.57zM602.76 98.00h3.57v6.00h-3.57zM602.76 92.00h3.57v6.00h-3.57zM602.76 86.00h3.57v6.00h-3.57zM602.76 80.00h3.57v6.00h-3.57zM602.76 74.00h3.57v6.00h-3.57zM602.76 68.00h3.57v6.00h-3.57zM602.76 62.00h3.57v6.00h-3.57zM602.76 56.00h3.57v6.00h-3.57zM602.76 50.00h3.57v6.00h-3.57zM602.76 44.00h3.57v6.00h-3.57zM602.76 38.00h3.57v6.00h-3.57zM602.76 32.00h3.57v6.00h-3.57zM602.76 26.00h3.57v6.00h-3.57zM602.76 20.00h3.57v6.00h-3.57zM602.76 14.00h3.57v6.00h-3.57zM602.76 8.00h3.57v6.00h-3.57zM602.76 2.00h3.57v6.00h-3.57zM613.47 182.00h3.57v6.00h-3.57zM613.47 176.00h3.57v6.00h-3.57zM617.04 212.00h3.57v5.00h-3.57zM617.04 206.00h3.57v6.00h-3.57zM617.04 200.00h3.57v6.00h-3.57zM617.04 194.00h3.57v6.00h-3.57zM617.04 188.00h3.57v6.00h-3.57zM617.04 182.00h3.57v6.00h-3.57zM617.04 176.00h3.57v6.00h-3.57zM617.04 170.00h3.57v6.00h-3.57zM617.04 164.00h3.57v6.00h-3.57zM617.04 158.00h3.57v6.00h-3.57zM617.04 152.00h3.57v6.00h-3.57zM617.04 146.00h3.57v6.00h-3.57zM617.04 140.00h3.57v6.00h-3.57zM617.04 134.00h3.57v6.00h-3.57zM617.04 128.00h3.57v6.00h-3.57zM617.04 122.00h3.57v6.00h-3.57zM617.04 116.00h3.57v6.00h-3.57zM617.04 110.00h3.57v6.00h-3.57zM617.04 104.00h3.57v6.00h-3.57zM617.04 98.00h3.57v6.00h-3.57zM617.04 92.00h3.57v6.00h-3.57zM617.04 86.00h3.57v6.00h-3.57zM617.04 80.00h3.57v6.00h-3.57zM617.04 74.00h3.57v6.00h-3.57zM617.04 68.00h3.57v6.00h-3.57zM617.04 62.00h3.57v6.00h-3.57zM617.04 56.00h3.57v6.00h-3.57zM617.04 50.00h3.57v6.00h-3.57zM617.04 44.00h3.57v6.00h-3.57zM617.04 38.00h3.57v6.00h-3.57zM617.04 32.00h3.57v6.00h-3.57zM617.04 26.00h3.57v6.00h-3.57zM617.04 20.00h3.57v6.00h-3.57zM617.04 14.00h3.57v6.00h-3.57zM617.04 8.00h3.57v6.00h-3.57zM617.04 2.00h3.57v6.00h-3.57zM620.61 212.00h3.57v5.00h-3.57zM620.61 206.00h3.57v6.00h-3.57zM620.61 200.00h3.57v6.00h-3.57zM620.61 194.00h3.57v6.00h-3.57zM620.61 188.00h3.57v6.00h-3.57zM620.61 182.00h3.57v6.00h-3.57zM620.61 176.00h3.57v6.00h-3.57zM620.61 170.00h3.57v6.00h-3.57zM620.61 164.00h3.57v6.00h-3.57zM620.61 158.00h3.57v6.00h-3.57zM620.61 152.00h3.57v6.00h-3.57zM620.61 146.00h3.57v6.00h-3.57zM620.61 140.00h3.57v6.00h-3.57zM620.61 134.00h3.57v6.00h-3.57zM620.61 128.00h3.57v6.00h-3.57zM620.61 122.00h3.57v6.00h-3.57zM620.61 116.00h3.57v6.00h-3.57zM620.61 110.00h3.57v6.00h-3.57zM620.61 104.00h3.57v6.00h-3.57zM620.61 98.00h3.57v6.00h-3.57zM620.61 92.00h3.57v6.00h-3.57zM620.61 86.00h3.57v6.00h-3.57zM620.61 80.00h3.57v6.00h-3.57zM620.61 74.00h3.57v6.00h-3.57zM620.61 68.00h3.57v6.00h-3.57zM620.61 62.00h3.57v6.00h-3.57zM620.61 56.00h3.57v6.00h-3.57zM620.61 50.00h3.57v6.00h-3.57zM620.61 44.00h3.57v6.00h-3.57zM620.61 38.00h3.57v6.00h-3.57zM620.61 32.00h3.57v6.00h-3.57zM620.61 26.00h3.57v6.00h-3.57zM620.61 20.00h3.57v6.00h-3.57zM620.61 14.00h3.57v6.00h-3.57zM620.61 8.00h3.57v6.00h-3.57zM620.61 2.00h3.57v6.00h-3.57zM624.19 188.00h3.57v6.00h-3.57zM624.19 182.00h3.57v6.00h-3.57zM624.19 176.00h3.57v6.00h-3.57zM624.19 170.00h3.57v6.00h-3.57zM624.19 164.00h3.57v6.00h-3.57zM624.19 158.00h3.57v6.00h-3.57zM624.19 152.00h3.57v6.00h-3.57zM624.19 146.00h3.57v6.00h-3.57zM624.19 140.00h3.57v6.00h-3.57zM624.19 134.00h3.57v6.00h-3.57zM624.19 128.00h3.57v6.00h-3.57zM624.19 122.00h3.57v6.00h-3.57zM624.19 116.00h3.57v6.00h-3.57zM624.19 110.00h3.57v6.00h-3.57zM624.19 104.00h3.57v6.00h-3.57zM624.19 98.00h3.57v6.00h-3.57zM624.19 92.00h3.57v6.00h-3.57zM624.19 86.00h3.57v6.00h-3.57zM624.19 80.00h3.57v6.00h-3.57zM624.19 74.00h3.57v6.00h-3.57zM624.19 68.00h3.57v6.00h-3.57zM624.19 62.00h3.57v6.00h-3.57zM624.19 56.00h3.57v6.00h-3.57zM624.19 50.00h3.57v6.00h-3.57zM624.19 44.00h3.57v6.00h-3.57zM624.19 38.00h3.57v6.00h-3.57zM624.19 32.00h3.57v6.00h-3.57zM624.19 26.00h3.57v6.00h-3.57zM624.19 20.00h3.57v6.00h-3.57zM624.19 14.00h3.57v6.00h-3.57zM624.19 8.00h3.57v6.00h-3.57zM624.19 2.00h3.57v6.00h-3.57zM627.76 212.00h3.57v5.00h-3.57zM627.76 206.00h3.57v6.00h-3.57zM627.76 200.00h3.57v6.00h-3.57zM627.76 194.00h3.57v6.00h-3.57zM627.76 188.00h3.57v6.00h-3.57zM627.76 182.00h3.57v6.00h-3.57zM627.76 176.00h3.57v6.00h-3.57zM627.76 170.00h3.57v6.00h-3.57zM627.76 164.00h3.57v6.00h-3.57zM627.76 158.00h3.57v6.00h-3.57zM627.76 152.00h3.57v6.00h-3.57zM627.76 146.00h3.57v6.00h-3.57zM627.76 140.00h3.57v6.00h-3.57zM627.76 134.00h3.57v6.00h-3.57zM627.76 128.00h3.57v6.00h-3.57zM627.76 122.00h3.57v6.00h-3.57zM627.76 116.00h3.57v6.00h-3.57zM627.76 110.00h3.57v6.00h-3.57zM627.76 104.00h3.57v6.00h-3.57zM627.76 98.00h3.57v6.00h-3.57zM627.76 92.00h3.57v6.00h-3.57zM627.76 86.00h3.57v6.00h-3.57zM627.76 80.00h3.57v6.00h-3.57zM627.76 74.00h3.57v6.00h-3.57zM627.76 68.00h3.57v6.00h-3.57zM627.76 62.00h3.57v6.00h-3.57zM627.76 56.00h3.57v6.00h-3.57zM627.76 50.00h3.57v6.00h-3.57zM627.76 44.00h3.57v6.00h-3.57zM627.76 38.00h3.57v6.00h-3.57zM627.76 32.00h3.57v6.00h-3.57zM627.76 26.00h3.57v6.00h-3.57zM627.76 20.00h3.57v6.00h-3.57zM627.76 14.00h3.57v6.00h-3.57zM627.76 8.00h3.57v6.00h-3.57zM627.76 2.00h3.57v6.00h-3.57zM631.33 212.00h3.57v5.00h-3.57zM631.33 206.00h3.57v6.00h-3.57zM631.33 200.00h3.57v6.00h-3.57zM631.33 194.00h3.57v6.00h-3.57zM631.33 188.00h3.57v6.00h-3.57zM631.33 182.00h3.57v6.00h-3.57zM631.33 176.00h3.57v6.00h-3.57zM631.33 170.00h3.57v6.00h-3.57zM631.33 164.00h3.57v6.00h-3.57zM631.33 158.00h3.57v6.00h-3.57zM631.33 152.00h3.57v6.00h-3.57zM631.33 146.00h3.57v6.00h-3.57zM631.33 140.00h3.57v6.00h-3.57zM631.33 134.00h3.57v6.00h-3.57zM631.33 128.00h3.57v6.00h-3.57zM631.33 122.00h3.57v6.00h-3.57zM631.33 116.00h3.57v6.00h-3.57zM631.33 110.00h3.57v6.00h-3.57zM631.33 104.00h3.57v6.00h-3.57zM631.33 98.00h3.57v6.00h-3.57zM631.33 92.00h3.57v6.00h-3.57zM631.33 86.00h3.57v6.00h-3.57zM631.33 80.00h3.57v6.00h-3.57zM631.33 74.00h3.57v6.00h-3.57zM631.33 68.00h3.57v6.00h-3.57zM631.33 62.00h3.57v6.00h-3.57zM631.33 56.00h3.57v6.00h-3.57zM631.33 50.00h3.57v6.00h-3.57zM631.33 44.00h3.57v6.00h-3.57zM631.33 38.00h3.57v6.00h-3.57zM631.33 32.00h3.57v6.00h-3.57zM631.33 26.00h3.57v6.00h-3.57zM631.33 20.00h3.57v6.00h-3.57zM631.33 14.00h3.57v6.00h-3.57zM631.33 8.00h3.57v6.00h-3.57zM631.33 2.00h3.57v6.00h-3.57zM634.90 212.00h3.57v5.00h-3.57zM634.90 206.00h3.57v6.00h-3.57zM634.90 200.00h3.57v6.00h-3.57zM634.90 194.00h3.57v6.00h-3.57zM634.90 188.00h3.57v6.00h-3.57zM634.90 182.00h3.57v6.00h-3.57zM634.90 176.00h3.57v6.00h-3.57zM634.90 170.00h3.57v6.00h-3.57zM634.90 164.00h3.57v6.00h-3.57zM634.90 158.00h3.57v6.00h-3.57zM634.90 152.00h3.57v6.00h-3.57zM634.90 146.00h3.57v6.00h-3.57zM634.90 140.00h3.57v6.00h-3.57zM634.90 134.00h3.57v6.00h-3.57zM634.90 128.00h3.57v6.00h-3.57zM634.90 122.00h3.57v6.00h-3.57zM634.90 116.00h3.57v6.00h-3.57zM634.90 110.00h3.57v6.00h-3.57zM634.90 104.00h3.57v6.00h-3.57zM634.90 98.00h3.57v6.00h-3.57zM634.90 92.00h3.57v6.00h-3.57zM634.90 86.00h3.57v6.00h-3.57zM634.90 80.00h3.57v6.00h-3.57zM634.90 74.00h3.57v6.00h-3.57zM634.90 68.00h3.57v6.00h-3.57zM634.90 62.00h3.57v6.00h-3.57zM634.90 56.00h3.57v6.00h-3.57zM634.90 50.00h3.57v6.00h-3.57zM634.90 44.00h3.57v6.00h-3.57zM634.90 38.00h3.57v6.00h-3.57zM634.90 32.00h3.57v6.00h-3.57zM634.90 26.00h3.57v6.00h-3.57zM634.90 20.00h3.57v6.00h-3.57zM634.90 14.00h3.57v6.00h-3.57zM634.90 8.00h3.57v6.00h-3.57zM634.90 2.00h3.57v6.00h-3.57zM638.47 212.00h3.57v5.00h-3.57zM638.47 206.00h3.57v6.00h-3.57zM638.47 200.00h3.57v6.00h-3.57zM638.47 194.00h3.57v6.00h-3.57zM638.47 188.00h3.57v6.00h-3.57zM638.47 182.00h3.57v6.00h-3.57zM638.47 176.00h3.57v6.00h-3.57zM638.47 170.00h3.57v6.00h-3.57zM638.47 164.00h3.57v6.00h-3.57zM638.47 158.00h3.57v6.00h-3.57zM638.47 152.00h3.57v6.00h-3.57zM638.47 146.00h3.57v6.00h-3.57zM638.47 140.00h3.57v6.00h-3.57zM638.47 134.00h3.57v6.00h-3.57zM638.47 128.00h3.57v6.00h-3.57zM638.47 122.00h3.57v6.00h-3.57zM638.47 116.00h3.57v6.00h-3.57zM638.47 110.00h3.57v6.00h-3.57zM638.47 104.00h3.57v6.00h-3.57zM638.47 98.00h3.57v6.00h-3.57zM638.47 92.00h3.57v6.00h-3.57zM638.47 86.00h3.57v6.00h-3.57zM638.47 80.00h3.57v6.00h-3.57zM638.47 74.00h3.57v6.00h-3.57zM638.47 68.00h3.57v6.00h-3.57zM638.47 62.00h3.57v6.00h-3.57zM638.47 56.00h3.57v6.00h-3.57zM638.47 50.00h3.57v6.00h-3.57zM638.47 44.00h3.57v6.00h-3.57zM638.47 38.00h3.57v6.00h-3.57zM638.47 32.00h3.57v6.00h-3.57zM638.47 26.00h3.57v6.00h-3.57zM638.47 20.00h3.57v6.00h-3.57zM638.47 14.00h3.57v6.00h-3.57zM638.47 8.00h3.57v6.00h-3.57zM638.47 2.00h3.57v6.00h-3.57zM642.04 212.00h3.57v5.00h-3.57zM642.04 206.00h3.57v6.00h-3.57zM642.04 200.00h3.57v6.00h-3.57zM642.04 194.00h3.57v6.00h-3.57zM642.04 188.00h3.57v6.00h-3.57zM642.04 182.00h3.57v6.00h-3.57zM642.04 176.00h3.57v6.00h-3.57zM642.04 170.00h3.57v6.00h-3.57zM642.04 164.00h3.57v6.00h-3.57zM642.04 158.00h3.57v6.00h-3.57zM642.04 152.00h3.57v6.00h-3.57zM642.04 146.00h3.57v6.00h-3.57zM642.04 140.00h3.57v6.00h-3.57zM642.04 134.00h3.57v6.00h-3.57zM642.04 128.00h3.57v6.00h-3.57zM642.04 122.00h3.57v6.00h-3.57zM642.04 116.00h3.57v6.00h-3.57zM642.04 110.00h3.57v6.00h-3.57zM642.04 104.00h3.57v6.00h-3.57zM642.04 98.00h3.57v6.00h-3.57zM642.04 92.00h3.57v6.00h-3.57zM642.04 86.00h3.57v6.00h-3.57zM642.04 80.00h3.57v6.00h-3.57zM642.04 74.00h3.57v6.00h-3.57zM642.04 68.00h3.57v6.00h-3.57zM642.04 62.00h3.57v6.00h-3.57zM642.04 56.00h3.57v6.00h-3.57zM642.04 50.00h3.57v6.00h-3.57zM642.04 44.00h3.57v6.00h-3.57zM642.04 38.00h3.57v6.00h-3.57zM642.04 32.00h3.57v6.00h-3.57zM642.04 26.00h3.57v6.00h-3.57zM642.04 20.00h3.57v6.00h-3.57zM642.04 14.00h3.57v6.00h-3.57zM642.04 8.00h3.57v6.00h-3.57zM642.04 2.00h3.57v6.00h-3.57zM645.61 212.00h3.39v5.00h-3.39zM645.61 206.00h3.39v6.00h-3.39zM645.61 200.00h3.39v6.00h-3.39zM645.61 194.00h3.39v6.00h-3.39zM645.61 188.00h3.39v6.00h-3.39zM645.61 182.00h3.39v6.00h-3.39zM645.61 176.00h3.39v6.00h-3.39zM645.61 170.00h3.39v6.00h-3.39zM645.61 164.00h3.39v6.00h-3.39zM645.61 158.00h3.39v6.00h-3.39zM645.61 152.00h3.39v6.00h-3.39zM645.61 146.00h3.39v6.00h-3.39zM645.61 140.00h3.39v6.00h-3.39zM645.61 134.00h3.39v6.00h-3.39zM645.61 128.00h3.39v6.00h-3.39zM645.61 122.00h3.39v6.00h-3.39zM645.61 116.00h3.39v6.00h-3.39zM645.61 110.00h3.39v6.00h-3.39zM645.61 104.00h3.39v6.00h-3.39zM645.61 98.00h3.39v6.00h-3.39zM645.61 92.00h3.39v6.00h-3.39zM645.61 86.00h3.39v6.00h-3.39zM645.61 80.00h3.39v6.00h-3.39zM645.61 74.00h3.39v6.00h-3.39zM645.61 68.00h3.39v6.00h-3.39zM645.61 62.00h3.39v6.00h-3.39zM645.61 56.00h3.39v6.00h-3.39zM645.61 50.00h3.39v6.00h-3.39zM645.61 44.00h3.39v6.00h-3.39zM645.61 38.00h3.39v6.00h-3.39zM645.61 32.00h3.39v6.00h-3.39zM645.61 26.00h3.39v6.00h-3.39zM645.61 20.00h3.39v6.00h-3.39zM645.61 14.00h3.39v6.00h-3.39zM645.61 8.00h3.39v6.00h-3.39zM645.61 2.00h3.39v6.00h-3.39z"/>
<path fill="#f9fb15" d="M606.33 164.00h3.57v6.00h-3.57zM606.33 158.00h3.57v6.00h-3.57zM606.33 152.00h3.57v6.00h-3.57zM606.33 146.00h3.57v6.00h-3.57zM606.33 140.00h3.57v6.00h-3.57zM606.33 134.00h3.57v6.00h-3.57zM606.33 128.00h3.57v6.00h-3.57zM606.33 122.00h3.57v6.00h-3.57zM606.33 116.00h3.57v6.00h-3.57zM606.33 110.00h3.57v6.00h-3.57zM606.33 104.00h3.57v6.00h-3.57zM606.33 98.00h3.57v6.00h-3.57zM606.33 92.00h3.57v6.00h-3.57zM606.33 86.00h3.57v6.00h-3.57zM606.33 80.00h3.57v6.00h-3.57zM606.33 74.00h3.57v6.00h-3.57zM606.33 68.00h3.57v6.00h-3.57zM606.33 62.00h3.57v6.00h-3.57zM606.33 56.00h3.57v6.00h-3.57zM606.33 50.00h3.57v6.00h-3.57zM606.33 44.00h3.57v6.00h-3.57zM606.33 38.00h3.57v6.00h-3.57zM606.33 32.00h3.57v6.00h-3.57zM606.33 26.00h3.57v6.00h-3.57zM606.33 20.00h3.57v6.00h-3.57zM606.33 14.00h3.57v6.00h-3.57zM606.33 8.00h3.57v6.00h-3.57zM606.33 2.00h3.57v6.00h-3.57zM609.90 164.00h3.57v6.00h-3.57zM609.90 158.00h3.57v6.00h-3.57zM609.90 152.00h3.57v6.00h-3.57zM609.90 146.00h3.57v6.00h-3.57zM609.90 140.00h3.57v6.00h-3.57zM609.90 134.00h3.57v6.00h-3.57zM609.90 128.00h3.57v6.00h-3.57zM609.90 122.00h3.57v6.00h-3.57zM609.90 116.00h3.57v6.00h-3.57zM609.90 110.00h3.57v6.00h-3.57zM609.90 104.00h3.57v6.00h-3.57zM609.90 98.00h3.57v6.00h-3.57zM609.90 92.00h3.57v6.00h-3.57zM609.90 86.00h3.57v6.00h-3.57zM609.90 80.00h3.57v6.00h-3.57zM609.90 74.00h3.57v6.00h-3.57zM609.90 68.00h3.57v6.00h-3.57zM609.90 62.00h3.57v6.00h-3.57zM609.90 56.00h3.57v6.00h-3.57zM609.90 50.00h3.57v6.00h-3.57zM609.90 44.00h3.57v6.00h-3.57zM609.90 38.00h3.57v6.00h-3.57zM609.90 32.00h3.57v6.00h-3.57zM609.90 26.00h3.57v6.00h-3.57zM609.90 20.00h3.57v6.00h-3.57zM609.90 14.00h3.57v6.00h-3.57zM609.90 8.00h3.57v6.00h-3.57zM609.90 2.00h3.57v6.00h-3.57zM613.47 170.00h3.57v6.00h-3.57zM613.47 164.00h3.57v6.00h-3.57zM613.47 158.00h3.57v6.00h-3.57zM613.47 152.00h3.57v6.00h-3.57zM613.47 146.00h3.57v6.00h-3.57zM613.47 140.00h3.57v6.00h-3.57zM613.47 134.00h3.57v6.00h-3.57zM613.47 128.00h3.57v6.00h-3.57zM613.47 122.00h3.57v6.00h-3.57zM613.47 116.00h3.57v6.00h-3.57zM613.47 110.00h3.57v6.00h-3.57zM613.47 104.00h3.57v6.00h-3.57zM613.47 98.00h3.57v6.00h-3.57zM613.47 92.00h3.57v6.00h-3.57zM613.47 86.00h3.57v6.00h-3.57zM613.47 80.00h3.57v6.00h-3.57zM613.47 74.00h3.57v6.00h-3.57zM613.47 68.00h3.57v6.00h-3.57zM613.47 62.00h3.57v6.00h-3.57zM613.47 56.00h3.57v6.00h-3.57zM613.47 50.00h3.57v6.00h-3.57zM613.47 44.00h3.57v6.00h-3.57zM613.47 38.00h3.57v6.00h-3.57zM613.47 32.00h3.57v6.00h-3.57zM613.47 26.00h3.57v6.00h-3.57zM613.47 20.00h3.57v6.00h-3.57zM613.47 14.00h3.57v6.00h-3.57zM613.47 8.00h3.57v6.00h-3.57zM613.47 2.00h3.57v6.00h-3.57z"/>
</g></g>
<polygon points="530.09,1.00 530.09,0.50 530.76,2.30 531.44,4.10 532.13,5.90 532.82,7.70 533.51,9.50 534.21,11.30 534.91,13.10 535.62,14.90 536.33,16.70 537.05,18.50 537.78,20.30 538.50,22.10 539.24,23.90 539.97,25.70 540.72,27.50 541.47,29.30 542.22,31.10 542.98,32.90 543.74,34.70 544.51,36.50 545.29,38.30 546.07,40.10 546.85,41.90 547.64,43.70 548.44,45.50 549.25,47.30 550.05,49.10 550.87,50.90 551.69,52.70 552.52,54.50 553.35,56.30 554.19,58.10 555.04,59.90 555.89,61.70 556.74,63.50 557.61,65.30 558.48,67.10 559.36,68.90 560.24,70.70 561.13,72.50 562.03,74.30 562.94,76.10 563.85,77.90 564.77,79.70 565.69,81.50 566.63,83.30 567.57,85.10 568.51,86.90 569.47,88.70 570.43,90.50 571.40,92.30 572.38,94.10 573.37,95.90 574.36,97.70 575.36,99.50 576.37,101.30 577.39,103.10 578.42,104.90 579.45,106.70 580.50,108.50 581.55,110.30 582.61,112.10 583.68,113.90 584.76,115.70 585.85,117.50 586.95,119.30 588.05,121.10 589.17,122.90 590.29,124.70 591.43,126.50 592.57,128.30 593.73,130.10 594.89,131.90 596.07,133.70 597.26,135.50 598.45,137.30 599.66,139.10 600.88,140.90 602.10,142.70 603.34,144.50 604.59,146.30 605.86,148.10 607.13,149.90 608.41,151.70 609.71,153.50 611.02,155.30 612.34,157.10 613.67,158.90 615.02,160.70 616.38,162.50 617.75,164.30 619.13,166.10 620.53,167.90 621.94,169.70 623.37,171.50 624.81,173.30 626.26,175.10 627.73,176.90 629.21,178.70 630.70,180.50 632.21,182.30 633.74,184.10 635.28,185.90 636.84,187.70 638.41,189.50 640.00,191.30 641.60,193.10 643.22,194.90 644.86,196.70 646.51,198.50 647.00,200.30 647.00,202.10 647.00,203.90 650.00,203.90 650.00,1.00" fill="#f0f0f0"/>
<polyline points="491.20,2.00 492.88,5.64 494.59,9.29 496.34,12.93 498.11,16.58 499.92,20.22 501.75,23.86 503.61,27.51 505.50,31.15 507.42,34.80 509.37,38.44 511.34,42.08 513.33,45.73 515.35,49.37 517.39,53.02 519.45,56.66 521.54,60.31 523.64,63.95 525.77,67.59 527.91,71.24 530.08,74.88 532.26,78.53 534.45,82.17 536.67,85.81 538.90,89.46 541.14,93.10 543.40,96.75 545.67,100.39 547.95,104.03 550.24,107.68 552.55,111.32 554.86,114.97 557.18,118.61 559.51,122.25 561.85,125.90 564.20,129.54 566.55,133.19 568.90,136.83 571.26,140.47 573.63,144.12 575.99,147.76 578.36,151.41 580.73,155.05 583.10,158.69 585.47,162.34 587.84,165.98 590.20,169.63 592.57,173.27 594.93,176.92 597.28,180.56 599.63,184.20 601.98,187.85 604.31,191.49 606.64,195.14 608.97,198.78 611.28,202.42 613.58,206.07 615.87,209.71 618.16,213.36 620.42,217.00" fill="none" stroke="#000" stroke-width="1.90" stroke-linejoin="round"/>
<polyline points="530.09,0.50 530.76,2.30 531.44,4.10 532.13,5.90 532.82,7.70 533.51,9.50 534.21,11.30 534.91,13.10 535.62,14.90 536.33,16.70 537.05,18.50 537.78,20.30 538.50,22.10 539.24,23.90 539.97,25.70 540.72,27.50 541.47,29.30 542.22,31.10 542.98,32.90 543.74,34.70 544.51,36.50 545.29,38.30 546.07,40.10 546.85,41.90 547.64,43.70 548.44,45.50 549.25,47.30 550.05,49.10 550.87,50.90 551.69,52.70 552.52,54.50 553.35,56.30 554.19,58.10 555.04,59.90 555.89,61.70 556.74,63.50 557.61,65.30 558.48,67.10 559.36,68.90 560.24,70.70 561.13,72.50 562.03,74.30 562.94,76.10 563.85,77.90 564.77,79.70 565.69,81.50 566.63,83.30 567.57,85.10 568.51,86.90 569.47,88.70 570.43,90.50 571.40,92.30 572.38,94.10 573.37,95.90 574.36,97.70 575.36,99.50 576.37,101.30 577.39,103.10 578.42,104.90 579.45,106.70 580.50,108.50 581.55,110.30 582.61,112.10 583.68,113.90 584.76,115.70 585.85,117.50 586.95,119.30 588.05,121.10 589.17,122.90 590.29,124.70 591.43,126.50 592.57,128.30 593.73,130.10 594.89,131.90 596.07,133.70 597.26,135.50 598.45,137.30 599.66,139.10 600.88,140.90 602.10,142.70 603.34,144.50 604.59,146.30 605.86,148.10 607.13,149.90 608.41,151.70 609.71,153.50 611.02,155.30 612.34,157.10 613.67,158.90 615.02,160.70 616.38,162.50 617.75,164.30 619.13,166.10 620.53,167.90 621.94,169.70 623.37,171.50 624.81,173.30 626.26,175.10 627.73,176.90 629.21,178.70 630.70,180.50 632.21,182.30 633.74,184.10 635.28,185.90 636.84,187.70 638.41,189.50 640.00,191.30 641.60,193.10 643.22,194.90 644.86,196.70 646.51,198.50 648.19,200.30 649.87,202.10 651.58,203.90 653.31,205.70 655.05,207.50 656.81,209.30 658.60,211.10 660.40,212.90 662.22,214.70 664.06,216.50" fill="none" stroke="#ff0000" stroke-width="1.90" stroke-linejoin="round"/>
</g>
<line x1="397.40" y1="3.50" x2="397.40" y2="215.00" stroke="#262640" stroke-opacity="0.75" stroke-width="0.9"/>
<line x1="397.00" y1="215.40" x2="647.00" y2="215.40" stroke="#bdbdbd" stroke-width="0.8"/>
<line x1="397.00" y1="4.00" x2="399.50" y2="4.00" stroke="#555" stroke-width="0.8"/>
<text transform="translate(391.40,218.86) scale(1,1.130)" class="tk" text-anchor="end">0.1</text>
<text transform="translate(391.40,188.86) scale(1,1.130)" class="tk" text-anchor="end">0.2</text>
<text transform="translate(391.40,158.86) scale(1,1.130)" class="tk" text-anchor="end">0.3</text>
<text transform="translate(391.40,128.86) scale(1,1.130)" class="tk" text-anchor="end">0.4</text>
<text transform="translate(391.40,98.86) scale(1,1.130)" class="tk" text-anchor="end">0.5</text>
<text transform="translate(391.40,68.86) scale(1,1.130)" class="tk" text-anchor="end">0.6</text>
<text transform="translate(391.40,38.86) scale(1,1.130)" class="tk" text-anchor="end">0.7</text>
<text transform="translate(391.40,8.86) scale(1,1.130)" class="tk" text-anchor="end">0.8</text>
<text transform="translate(399.30,226.76) scale(1,1.130)" class="tk" text-anchor="middle">0.2</text>
<text transform="translate(436.28,226.76) scale(1,1.130)" class="tk" text-anchor="middle">0.3</text>
<text transform="translate(473.26,226.76) scale(1,1.130)" class="tk" text-anchor="middle">0.4</text>
<text transform="translate(510.24,226.76) scale(1,1.130)" class="tk" text-anchor="middle">0.5</text>
<text transform="translate(547.22,226.76) scale(1,1.130)" class="tk" text-anchor="middle">0.6</text>
<text transform="translate(584.20,226.76) scale(1,1.130)" class="tk" text-anchor="middle">0.7</text>
<text transform="translate(621.18,226.76) scale(1,1.130)" class="tk" text-anchor="middle">0.8</text>
<linearGradient id="cb355" x1="0" y1="0" x2="0" y2="1"><stop offset="0.0000" stop-color="#f9fb15"/><stop offset="0.0156" stop-color="#f7f51b"/><stop offset="0.0312" stop-color="#f6ef20"/><stop offset="0.0469" stop-color="#f5e924"/><stop offset="0.0625" stop-color="#f5e327"/><stop offset="0.0781" stop-color="#f7dd2a"/><stop offset="0.0938" stop-color="#f9d62d"/><stop offset="0.1094" stop-color="#fcd030"/><stop offset="0.1250" stop-color="#feca33"/><stop offset="0.1406" stop-color="#fec437"/><stop offset="0.1562" stop-color="#febe3c"/><stop offset="0.1719" stop-color="#f9bb3d"/><stop offset="0.1875" stop-color="#f1ba37"/><stop offset="0.2031" stop-color="#e8bb2f"/><stop offset="0.2188" stop-color="#debc2a"/><stop offset="0.2344" stop-color="#d4bf28"/><stop offset="0.2500" stop-color="#c8c129"/><stop offset="0.2656" stop-color="#bcc42f"/><stop offset="0.2812" stop-color="#afc637"/><stop offset="0.2969" stop-color="#a2c840"/><stop offset="0.3125" stop-color="#94ca4a"/><stop offset="0.3281" stop-color="#85cb55"/><stop offset="0.3438" stop-color="#77cc60"/><stop offset="0.3594" stop-color="#69cd6b"/><stop offset="0.3750" stop-color="#5ccc76"/><stop offset="0.3906" stop-color="#4fcc80"/><stop offset="0.4062" stop-color="#44ca8a"/><stop offset="0.4219" stop-color="#3ac993"/><stop offset="0.4375" stop-color="#34c79c"/><stop offset="0.4531" stop-color="#2ec5a4"/><stop offset="0.4688" stop-color="#28c2ab"/><stop offset="0.4844" stop-color="#1ec0b2"/><stop offset="0.5000" stop-color="#12beb9"/><stop offset="0.5156" stop-color="#07bcc0"/><stop offset="0.5312" stop-color="#01b9c6"/><stop offset="0.5469" stop-color="#04b6cd"/><stop offset="0.5625" stop-color="#0cb3d3"/><stop offset="0.5781" stop-color="#14b0d8"/><stop offset="0.5938" stop-color="#1aacdd"/><stop offset="0.6094" stop-color="#1ea7e1"/><stop offset="0.6250" stop-color="#21a3e3"/><stop offset="0.6406" stop-color="#249ee6"/><stop offset="0.6562" stop-color="#269ae9"/><stop offset="0.6719" stop-color="#2895ec"/><stop offset="0.6875" stop-color="#2c90f0"/><stop offset="0.7031" stop-color="#2d8bf4"/><stop offset="0.7188" stop-color="#2e85f8"/><stop offset="0.7344" stop-color="#3080fa"/><stop offset="0.7500" stop-color="#347afd"/><stop offset="0.7656" stop-color="#3a74fe"/><stop offset="0.7812" stop-color="#3f6efe"/><stop offset="0.7969" stop-color="#4368fe"/><stop offset="0.8125" stop-color="#4562fc"/><stop offset="0.8281" stop-color="#475dfa"/><stop offset="0.8438" stop-color="#4757f7"/><stop offset="0.8594" stop-color="#4852f4"/><stop offset="0.8750" stop-color="#484cef"/><stop offset="0.8906" stop-color="#4746ea"/><stop offset="0.9062" stop-color="#4741e5"/><stop offset="0.9219" stop-color="#463bdd"/><stop offset="0.9375" stop-color="#4536d5"/><stop offset="0.9531" stop-color="#4332ca"/><stop offset="0.9688" stop-color="#422ebf"/><stop offset="0.9844" stop-color="#402ab4"/><stop offset="1.0000" stop-color="#3e26a8"/></linearGradient>
<rect x="654.00" y="4.65" width="14.10" height="210.35" fill="url(#cb355)" stroke="#4a4a4a" stroke-width="0.95"/>
<line x1="665.90" y1="4.90" x2="668.10" y2="4.90" stroke="#262626" stroke-width="0.7"/>
<text transform="translate(670.70,8.76) scale(1,1.130)" class="tk">0</text>
<line x1="665.90" y1="22.66" x2="668.10" y2="22.66" stroke="#262626" stroke-width="0.7"/>
<text transform="translate(670.70,26.52) scale(1,1.130)" class="tk">-0.5</text>
<line x1="665.90" y1="40.42" x2="668.10" y2="40.42" stroke="#262626" stroke-width="0.7"/>
<text transform="translate(670.70,44.28) scale(1,1.130)" class="tk">-1</text>
<line x1="665.90" y1="58.18" x2="668.10" y2="58.18" stroke="#262626" stroke-width="0.7"/>
<text transform="translate(670.70,62.04) scale(1,1.130)" class="tk">-1.5</text>
<line x1="665.90" y1="75.94" x2="668.10" y2="75.94" stroke="#262626" stroke-width="0.7"/>
<text transform="translate(670.70,79.80) scale(1,1.130)" class="tk">-2</text>
<line x1="665.90" y1="93.70" x2="668.10" y2="93.70" stroke="#262626" stroke-width="0.7"/>
<text transform="translate(670.70,97.56) scale(1,1.130)" class="tk">-2.5</text>
<line x1="665.90" y1="111.46" x2="668.10" y2="111.46" stroke="#262626" stroke-width="0.7"/>
<text transform="translate(670.70,115.32) scale(1,1.130)" class="tk">-3</text>
<line x1="665.90" y1="129.22" x2="668.10" y2="129.22" stroke="#262626" stroke-width="0.7"/>
<text transform="translate(670.70,133.08) scale(1,1.130)" class="tk">-3.5</text>
<line x1="665.90" y1="146.98" x2="668.10" y2="146.98" stroke="#262626" stroke-width="0.7"/>
<text transform="translate(670.70,150.84) scale(1,1.130)" class="tk">-4</text>
<line x1="665.90" y1="164.74" x2="668.10" y2="164.74" stroke="#262626" stroke-width="0.7"/>
<text transform="translate(670.70,168.60) scale(1,1.130)" class="tk">-4.5</text>
<line x1="665.90" y1="182.50" x2="668.10" y2="182.50" stroke="#262626" stroke-width="0.7"/>
<text transform="translate(670.70,186.36) scale(1,1.130)" class="tk">-5</text>
<line x1="665.90" y1="200.26" x2="668.10" y2="200.26" stroke="#262626" stroke-width="0.7"/>
<text transform="translate(670.70,204.12) scale(1,1.130)" class="tk">-5.5</text>
<text transform="translate(365.30,110.5) rotate(-90)" class="ser" text-anchor="middle" font-size="14.3" textLength="22.6" lengthAdjust="spacingAndGlyphs"><tspan font-style="italic">e</tspan>(0)</text>
<text x="513.80" y="245" class="ser" font-size="10" textLength="17.4" lengthAdjust="spacingAndGlyphs"><tspan font-style="italic">a</tspan>(0)</text>
<line x1="513.90" y1="247.3" x2="531.60" y2="247.3" stroke="#333" stroke-width="0.8"/>
<text x="516.90" y="255.9" class="ser" font-size="10" font-style="italic">a</text>
<text x="521.90" y="257.6" class="ser" font-size="7.2" font-style="italic">P</text>
<text x="480.00" y="283.4" class="ser" font-size="15.00" font-weight="bold" textLength="19.40" lengthAdjust="spacingAndGlyphs">(b)</text>
<text x="504.30" y="283.4" class="ser" font-size="15.00" textLength="69.90" lengthAdjust="spacingAndGlyphs">eccentricity</text>
</svg></body></html>
